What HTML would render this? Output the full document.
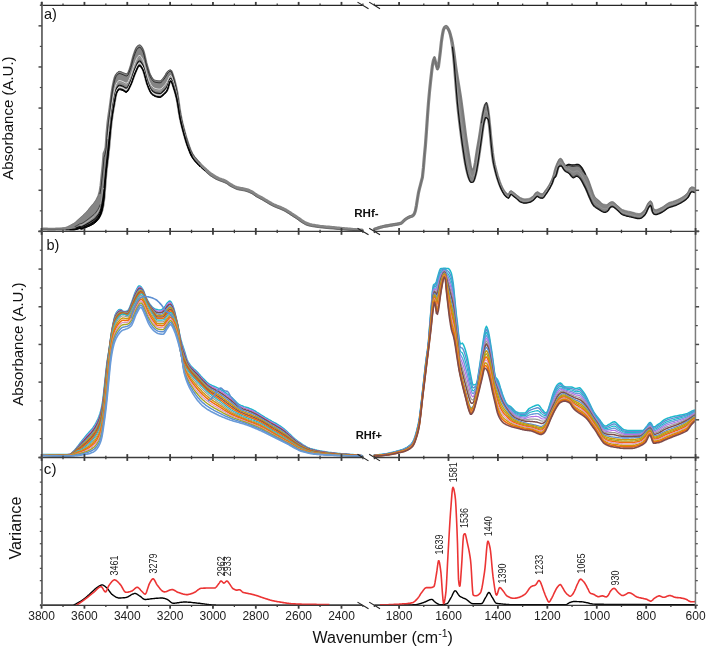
<!DOCTYPE html><html><head><meta charset="utf-8"><style>html,body{margin:0;padding:0;background:#fff;}svg{display:block;}svg{will-change:transform}</style></head><body><svg width="708" height="649" viewBox="0 0 708 649">
<rect width="708" height="649" fill="#fff"/>
<path d="M42.0,229.1 43.0,229.1 44.0,229.1 45.0,229.1 46.0,229.1 47.0,229.1 48.0,229.2 49.0,229.2 50.0,229.2 51.0,229.2 52.0,229.2 53.0,229.2 54.0,229.2 55.0,229.2 56.0,229.1 57.0,229.1 58.0,229.1 59.0,229.0 60.0,229.0 61.0,228.9 62.0,228.9 63.0,228.8 64.0,228.8 65.0,228.7 66.0,228.5 67.0,228.2 68.0,227.8 69.0,227.3 70.0,226.8 71.0,226.3 72.0,225.7 73.0,225.2 74.0,224.6 75.0,224.0 76.0,223.2 77.0,222.3 78.0,221.3 79.0,220.3 80.0,219.4 81.0,218.6 82.0,217.7 83.0,216.8 84.0,215.9 85.0,214.9 86.0,213.9 87.0,212.8 88.0,211.6 89.0,210.4 90.0,209.1 91.0,207.9 92.0,206.7 93.0,205.6 94.0,204.4 95.0,203.1 96.0,201.6 97.0,200.0 98.0,198.0 99.0,195.5 100.0,192.0 101.0,185.5 102.0,175.5 103.0,165.6 104.0,153.4 105.0,151.5 106.0,147.7 107.0,132.8 108.0,122.2 109.0,114.8 110.0,107.9 111.0,100.5 112.0,92.7 113.0,86.5 114.0,81.7 115.0,77.9 116.0,75.7 117.0,74.4 118.0,73.3 119.0,72.8 120.0,72.9 121.0,73.2 122.0,73.6 123.0,74.1 124.0,74.4 125.0,74.8 126.0,75.2 127.0,75.3 128.0,74.3 129.0,72.1 130.0,69.5 131.0,66.6 132.0,62.7 133.0,58.6 134.0,55.3 135.0,52.4 136.0,49.8 137.0,47.9 138.0,47.0 139.0,46.4 140.0,46.3 141.0,47.2 142.0,48.8 143.0,50.8 144.0,54.3 145.0,58.8 146.0,63.1 147.0,66.6 148.0,70.0 149.0,73.2 150.0,75.7 151.0,77.5 152.0,79.1 153.0,80.5 154.0,81.3 155.0,81.7 156.0,81.9 157.0,82.1 158.0,82.2 159.0,82.3 160.0,82.3 161.0,82.0 162.0,81.1 163.0,79.8 164.0,78.5 165.0,77.1 166.0,75.4 167.0,73.6 168.0,72.3 169.0,71.7 170.0,71.3 171.0,71.4 172.0,73.6 173.0,76.8 174.0,80.0 175.0,83.8 176.0,88.1 177.0,93.1 178.0,99.5 179.0,106.8 180.0,113.4 181.0,118.5 182.0,123.1 183.0,127.2 184.0,131.0 185.0,134.6 186.0,138.0 187.0,141.1 188.0,144.1 189.0,147.0 190.0,149.7 191.0,152.2 192.0,154.2 193.0,155.8 194.0,157.3 195.0,158.6 196.0,159.7 197.0,160.9 198.0,162.0 199.0,163.1 200.0,164.1 201.0,165.1 202.0,166.0 203.0,167.0 204.0,167.9 205.0,168.8 206.0,169.7 207.0,170.7 208.0,171.5 209.0,172.4 210.0,173.2 211.0,173.9 212.0,174.6 213.0,175.3 214.0,175.9 215.0,176.5 216.0,177.1 217.0,177.6 218.0,178.1 219.0,178.6 220.0,179.0 221.0,179.3 222.0,179.7 223.0,180.0 224.0,180.4 225.0,180.9 226.0,181.4 227.0,182.0 228.0,182.7 229.0,183.4 230.0,184.1 231.0,184.7 232.0,185.2 233.0,185.8 234.0,186.3 235.0,186.8 236.0,187.2 237.0,187.6 238.0,187.8 239.0,188.1 240.0,188.2 241.0,188.4 242.0,188.5 243.0,188.7 244.0,188.9 245.0,189.1 246.0,189.4 247.0,189.7 248.0,190.0 249.0,190.4 250.0,190.9 251.0,191.3 252.0,191.8 253.0,192.5 254.0,193.2 255.0,193.9 256.0,194.6 257.0,195.3 258.0,195.8 259.0,196.4 260.0,196.9 261.0,197.4 262.0,197.9 263.0,198.5 264.0,199.1 265.0,199.7 266.0,200.3 267.0,200.9 268.0,201.5 269.0,202.1 270.0,202.7 271.0,203.2 272.0,203.8 273.0,204.3 274.0,204.8 275.0,205.2 276.0,205.6 277.0,206.1 278.0,206.4 279.0,206.8 280.0,207.2 281.0,207.6 282.0,208.1 283.0,208.5 284.0,209.0 285.0,209.5 286.0,210.1 287.0,210.7 288.0,211.3 289.0,212.0 290.0,212.6 291.0,213.3 292.0,214.0 293.0,214.6 294.0,215.3 295.0,215.9 296.0,216.5 297.0,217.2 298.0,217.9 299.0,218.6 300.0,219.3 301.0,220.0 302.0,220.7 303.0,221.3 304.0,222.0 305.0,222.5 306.0,223.0 307.0,223.4 308.0,223.8 309.0,224.1 310.0,224.4 311.0,224.6 312.0,224.9 313.0,225.1 314.0,225.3 315.0,225.5 316.0,225.7 317.0,225.8 318.0,226.0 319.0,226.1 320.0,226.3 321.0,226.4 322.0,226.5 323.0,226.6 324.0,226.7 325.0,226.8 326.0,226.9 327.0,227.0 328.0,227.1 329.0,227.1 330.0,227.2 331.0,227.3 332.0,227.4 333.0,227.5 334.0,227.6 335.0,227.7 336.0,227.8 337.0,227.9 338.0,228.0 339.0,228.1 340.0,228.2 341.0,228.3 342.0,228.4 343.0,228.5 344.0,228.6 345.0,228.7 346.0,228.8 347.0,228.8 348.0,228.9 349.0,229.0 350.0,229.1 351.0,229.2 352.0,229.3 353.0,229.4 354.0,229.5 355.0,229.5 356.0,229.6 357.0,229.7 358.0,229.8 359.0,229.9 360.0,229.9 361.0,230.0 362.0,230.1 362.0,230.1 361.0,230.0 360.0,229.9 359.0,229.9 358.0,229.8 357.0,229.7 356.0,229.6 355.0,229.5 354.0,229.5 353.0,229.4 352.0,229.3 351.0,229.2 350.0,229.1 349.0,229.0 348.0,228.9 347.0,228.8 346.0,228.8 345.0,228.7 344.0,228.6 343.0,228.5 342.0,228.4 341.0,228.3 340.0,228.2 339.0,228.1 338.0,228.0 337.0,227.9 336.0,227.8 335.0,227.7 334.0,227.6 333.0,227.5 332.0,227.4 331.0,227.4 330.0,227.3 329.0,227.2 328.0,227.1 327.0,227.0 326.0,226.9 325.0,226.8 324.0,226.7 323.0,226.6 322.0,226.5 321.0,226.4 320.0,226.3 319.0,226.1 318.0,226.0 317.0,225.9 316.0,225.7 315.0,225.6 314.0,225.4 313.0,225.3 312.0,225.1 311.0,224.9 310.0,224.7 309.0,224.5 308.0,224.2 307.0,223.9 306.0,223.5 305.0,223.0 304.0,222.4 303.0,221.8 302.0,221.2 301.0,220.5 300.0,219.8 299.0,219.1 298.0,218.3 297.0,217.6 296.0,216.9 295.0,216.3 294.0,215.7 293.0,215.0 292.0,214.4 291.0,213.7 290.0,213.0 289.0,212.4 288.0,211.7 287.0,211.1 286.0,210.5 285.0,209.9 284.0,209.4 283.0,208.9 282.0,208.5 281.0,208.0 280.0,207.6 279.0,207.2 278.0,206.8 277.0,206.5 276.0,206.0 275.0,205.6 274.0,205.2 273.0,204.7 272.0,204.2 271.0,203.6 270.0,203.1 269.0,202.5 268.0,201.9 267.0,201.3 266.0,200.7 265.0,200.1 264.0,199.5 263.0,198.9 262.0,198.3 261.0,197.8 260.0,197.3 259.0,196.7 258.0,196.2 257.0,195.7 256.0,195.1 255.0,194.4 254.0,193.6 253.0,192.9 252.0,192.3 251.0,191.8 250.0,191.4 249.0,190.9 248.0,190.6 247.0,190.2 246.0,189.9 245.0,189.6 244.0,189.4 243.0,189.2 242.0,189.0 241.0,188.8 240.0,188.7 239.0,188.5 238.0,188.3 237.0,188.0 236.0,187.6 235.0,187.2 234.0,186.7 233.0,186.2 232.0,185.7 231.0,185.2 230.0,184.6 229.0,183.9 228.0,183.1 227.0,182.4 226.0,181.9 225.0,181.4 224.0,181.0 223.0,180.6 222.0,180.2 221.0,179.9 220.0,179.5 219.0,179.1 218.0,178.7 217.0,178.3 216.0,177.8 215.0,177.2 214.0,176.6 213.0,176.0 212.0,175.4 211.0,174.7 210.0,174.0 209.0,173.2 208.0,172.3 207.0,171.4 206.0,170.5 205.0,169.5 204.0,168.6 203.0,167.7 202.0,166.8 201.0,165.9 200.0,164.9 199.0,164.0 198.0,163.0 197.0,161.9 196.0,160.8 195.0,159.7 194.0,158.4 193.0,157.1 192.0,155.5 191.0,153.6 190.0,151.3 189.0,148.8 188.0,146.1 187.0,143.2 186.0,140.0 185.0,136.6 184.0,133.0 183.0,129.3 182.0,125.4 181.0,121.2 180.0,116.5 179.0,110.5 178.0,104.0 177.0,98.5 176.0,94.3 175.0,90.7 174.0,87.6 173.0,84.5 172.0,81.5 171.0,79.7 170.0,80.1 169.0,83.2 168.0,87.1 167.0,89.7 166.0,91.1 165.0,92.2 164.0,93.2 163.0,94.0 162.0,94.9 161.0,95.7 160.0,96.0 159.0,95.9 158.0,95.8 157.0,95.6 156.0,95.3 155.0,95.0 154.0,94.4 153.0,93.8 152.0,93.1 151.0,91.9 150.0,90.1 149.0,87.8 148.0,85.3 147.0,82.5 146.0,78.9 145.0,75.1 144.0,71.5 143.0,68.9 142.0,67.2 141.0,65.7 140.0,64.7 139.0,64.6 138.0,65.8 137.0,67.8 136.0,70.2 135.0,72.4 134.0,74.9 133.0,77.8 132.0,80.6 131.0,83.2 130.0,85.3 129.0,87.4 128.0,89.3 127.0,90.6 126.0,91.0 125.0,90.5 124.0,89.8 123.0,89.1 122.0,88.8 121.0,88.5 120.0,88.2 119.0,88.3 118.0,89.1 117.0,90.8 116.0,93.2 115.0,98.0 114.0,103.9 113.0,109.6 112.0,116.0 111.0,123.5 110.0,133.8 109.0,145.4 108.0,155.0 107.0,163.2 106.0,172.0 105.0,184.5 104.0,197.3 103.0,204.9 102.0,209.7 101.0,212.8 100.0,215.1 99.0,216.9 98.0,218.3 97.0,219.4 96.0,220.5 95.0,221.3 94.0,222.1 93.0,222.8 92.0,223.3 91.0,223.9 90.0,224.3 89.0,224.8 88.0,225.2 87.0,225.6 86.0,226.0 85.0,226.5 84.0,227.0 83.0,227.3 82.0,227.6 81.0,227.7 80.0,227.1 79.0,227.3 78.0,227.6 77.0,227.9 76.0,228.1 75.0,228.3 74.0,228.4 73.0,228.4 72.0,228.4 71.0,228.4 70.0,228.4 69.0,228.4 68.0,228.4 67.0,228.4 66.0,228.5 65.0,228.7 64.0,228.8 63.0,228.8 62.0,228.9 61.0,228.9 60.0,229.0 59.0,229.0 58.0,229.1 57.0,229.1 56.0,229.1 55.0,229.2 54.0,229.2 53.0,229.2 52.0,229.2 51.0,229.2 50.0,229.2 49.0,229.2 48.0,229.2 47.0,229.1 46.0,229.1 45.0,229.1 44.0,229.1 43.0,229.1 42.0,229.1 Z" fill="#858585" stroke="#858585" stroke-width="3.0" stroke-linejoin="round"/>
<path d="M110.0,106.4 111.0,99.0 112.0,91.2 113.0,85.0 114.0,80.2 115.0,76.4 116.0,74.2 117.0,72.9 118.0,71.8 119.0,71.3 120.0,71.4 121.0,71.7 122.0,72.1 123.0,72.6 124.0,72.9 125.0,73.3 126.0,73.7 127.0,73.8 128.0,72.8 129.0,70.6 130.0,68.0 131.0,65.1 132.0,61.2 133.0,57.1 134.0,53.8 135.0,50.9 136.0,48.3 137.0,46.4 138.0,45.5 139.0,44.9 140.0,44.8 141.0,45.7 142.0,47.3 143.0,49.3 144.0,52.8 145.0,57.3 146.0,61.6 147.0,65.1 148.0,68.5 149.0,71.7 150.0,74.2 151.0,76.0 152.0,77.6 153.0,79.0 154.0,79.8 155.0,80.2 156.0,80.4 157.0,80.6 158.0,80.7 159.0,80.8 160.0,80.8 161.0,80.5 162.0,79.6 163.0,78.3 164.0,77.0 165.0,75.6 166.0,73.9 167.0,72.1 168.0,70.8 169.0,70.2 170.0,69.8 171.0,69.9 172.0,72.1 173.0,75.3 174.0,78.5 175.0,82.3 176.0,86.6 177.0,91.6 178.0,98.0 179.0,105.3 180.0,111.9 181.0,117.0 182.0,121.6 183.0,125.7 184.0,129.5 185.0,133.1 186.0,136.5 187.0,139.6 188.0,142.6 189.0,145.5 190.0,148.2 191.0,150.7 192.0,152.7 193.0,154.3 194.0,155.8 195.0,157.1 196.0,158.2 197.0,159.4 198.0,160.5 199.0,161.6 200.0,162.6" fill="none" stroke="#4a4a4a" stroke-width="0.8" stroke-linejoin="round" stroke-linecap="round"/>
<path d="M42.0,228.7 43.0,228.8 44.0,228.8 45.0,228.8 46.0,228.9 47.0,228.9 48.0,228.9 49.0,228.9 50.0,228.9 51.0,228.9 52.0,228.9 53.0,228.9 54.0,228.9 55.0,228.8 56.0,228.8 57.0,228.7 58.0,228.6 59.0,228.5 60.0,228.4 61.0,228.2 62.0,228.1 63.0,227.9 64.0,227.7 65.0,227.5 66.0,227.1 67.0,226.7 68.0,226.3 69.0,225.8 70.0,225.3 71.0,224.8 72.0,224.2 73.0,223.7 74.0,223.1 75.0,222.5 76.0,221.7 77.0,220.8 78.0,219.8 79.0,218.8 80.0,217.9 81.0,217.1 82.0,216.2 83.0,215.3 84.0,214.4 85.0,213.4 86.0,212.4 87.0,211.3 88.0,210.1 89.0,208.9 90.0,207.6 91.0,206.4 92.0,205.2 93.0,204.1 94.0,202.9 95.0,201.6 96.0,200.1 97.0,198.5 98.0,196.5 99.0,194.0 100.0,190.5 101.0,184.0 102.0,174.0 103.0,164.1 104.0,151.9 105.0,150.0 106.0,146.2 107.0,131.3 108.0,120.7 109.0,113.3 110.0,106.4" fill="none" stroke="#707070" stroke-width="0.6" stroke-linejoin="round" stroke-linecap="round"/>
<path d="M100.0,193.6 101.0,187.6 102.0,178.5 103.0,169.2 104.0,157.5 105.0,154.3 106.0,149.5 107.0,135.3 108.0,125.0 109.0,117.3 110.0,109.9 111.0,102.1 112.0,94.4 113.0,88.1 114.0,83.3 115.0,79.2 116.0,76.7 117.0,75.2 118.0,74.1 119.0,73.5 120.0,73.6 121.0,73.9 122.0,74.3 123.0,74.7 124.0,75.1 125.0,75.6 126.0,75.9 127.0,76.0 128.0,75.0 129.0,72.8 130.0,70.2 131.0,67.4 132.0,63.7 133.0,59.8 134.0,56.5 135.0,53.7 136.0,51.1 137.0,49.2 138.0,48.1 139.0,47.4 140.0,47.3 141.0,48.2 142.0,49.9 143.0,51.9 144.0,55.2 145.0,59.6 146.0,63.9 147.0,67.4 148.0,70.7 149.0,73.8 150.0,76.3 151.0,78.1 152.0,79.7 153.0,80.9 154.0,81.8 155.0,82.1 156.0,82.4 157.0,82.5 158.0,82.7 159.0,82.8 160.0,82.8 161.0,82.5 162.0,81.6 163.0,80.4 164.0,79.1 165.0,77.8 166.0,76.1 167.0,74.4 168.0,72.9 169.0,71.9 170.0,71.2 171.0,71.3 172.0,73.4 173.0,76.6 174.0,79.8 175.0,83.5 176.0,87.7 177.0,92.6 178.0,98.9 179.0,106.1 180.0,112.6 181.0,117.7 182.0,122.2 183.0,126.3 184.0,130.1 185.0,133.7" fill="none" stroke="#2a2a2a" stroke-width="0.9" stroke-linejoin="round" stroke-linecap="round"/>
<path d="M108.0,138.6 109.0,130.1 110.0,120.9 111.0,112.0 112.0,104.4 113.0,98.1 114.0,92.8 115.0,87.9 116.0,84.5 117.0,82.6 118.0,81.2 119.0,80.5 120.0,80.6 121.0,80.8 122.0,81.2 123.0,81.6 124.0,82.1 125.0,82.7 126.0,83.1 127.0,83.0 128.0,81.8 129.0,79.8 130.0,77.4 131.0,74.9 132.0,71.7 133.0,68.2 134.0,65.1 135.0,62.4 136.0,60.0 137.0,57.9 138.0,56.4 139.0,55.5 140.0,55.5 141.0,56.4 142.0,58.0 143.0,59.9 144.0,62.9 145.0,66.9 146.0,71.0 147.0,74.5 148.0,77.6 149.0,80.5 150.0,82.9 151.0,84.7 152.0,86.1 153.0,87.1 154.0,87.9 155.0,88.3 156.0,88.6 157.0,88.8 158.0,89.0 159.0,89.1 160.0,89.1 161.0,88.8 162.0,88.0 163.0,86.9 164.0,85.8 165.0,84.7 166.0,83.2 167.0,81.6 168.0,79.7 169.0,77.4 170.0,75.7 171.0,75.6 172.0,77.5 173.0,80.6 174.0,83.8 175.0,87.3 176.0,91.2 177.0,95.8 178.0,101.8 179.0,108.6 180.0,114.9 181.0,119.9 182.0,124.2 183.0,128.2 184.0,132.0 185.0,135.6" fill="none" stroke="#e2e2e2" stroke-width="0.9" stroke-linejoin="round" stroke-linecap="round"/>
<path d="M100.0,206.1 101.0,202.2 102.0,196.3 103.0,189.5 104.0,180.1 105.0,171.6 106.0,162.6 107.0,151.3 108.0,142.2 109.0,133.4 110.0,123.8 111.0,114.6 112.0,107.0 113.0,100.7 114.0,95.3 115.0,90.2 116.0,86.5 117.0,84.5 118.0,83.1 119.0,82.4 120.0,82.4 121.0,82.7 122.0,83.0 123.0,83.4 124.0,83.9 125.0,84.6 126.0,85.0 127.0,84.8 128.0,83.6 129.0,81.6 130.0,79.3 131.0,76.9 132.0,73.8 133.0,70.4 134.0,67.4 135.0,64.7 136.0,62.3 137.0,60.2 138.0,58.6 139.0,57.6 140.0,57.6 141.0,58.6 142.0,60.1 143.0,62.0 144.0,64.9 145.0,68.8 146.0,72.9 147.0,76.4 148.0,79.5 149.0,82.2 150.0,84.6 151.0,86.5 152.0,87.8 153.0,88.8 154.0,89.5 155.0,89.9 156.0,90.3 157.0,90.5 158.0,90.7 159.0,90.8 160.0,90.8 161.0,90.5 162.0,89.7 163.0,88.6 164.0,87.6 165.0,86.5 166.0,85.1 167.0,83.5 168.0,81.4 169.0,78.9 170.0,76.9 171.0,76.7 172.0,78.6 173.0,81.7 174.0,84.9 175.0,88.2 176.0,92.1 177.0,96.6 178.0,102.5 179.0,109.3 180.0,115.5 181.0,120.4 182.0,124.8 183.0,128.7 184.0,132.5 185.0,136.1" fill="none" stroke="#b0b0b0" stroke-width="0.6" stroke-linejoin="round" stroke-linecap="round"/>
<path d="M75.0,226.5 76.0,226.1 77.0,225.5 78.0,224.9 79.0,224.3 80.0,223.8 81.0,223.7 82.0,223.3 83.0,222.7 84.0,222.1 85.0,221.4 86.0,220.7 87.0,220.0 88.0,219.2 89.0,218.4 90.0,217.6 91.0,216.8 92.0,216.0 93.0,215.2 94.0,214.3 95.0,213.3 96.0,212.1 97.0,210.8 98.0,209.3 99.0,207.4 100.0,204.8" fill="none" stroke="#333" stroke-width="0.8" stroke-linejoin="round" stroke-linecap="round"/>
<path d="M80.0,225.0 81.0,225.1 82.0,224.7 83.0,224.2 84.0,223.7 85.0,223.0 86.0,222.4 87.0,221.7 88.0,221.1 89.0,220.4 90.0,219.6 91.0,218.9 92.0,218.2 93.0,217.4 94.0,216.6 95.0,215.6 96.0,214.5 97.0,213.3 98.0,211.8 99.0,210.1 100.0,207.7" fill="none" stroke="#d0d0d0" stroke-width="0.6" stroke-linejoin="round" stroke-linecap="round"/>
<path d="M76.0,228.0 77.0,227.6 78.0,227.2 79.0,226.8 80.0,226.5 81.0,226.8 82.0,226.5 83.0,226.1 84.0,225.6 85.0,225.1 86.0,224.5 87.0,223.9 88.0,223.4 89.0,222.8 90.0,222.2 91.0,221.6 92.0,220.9 93.0,220.2 94.0,219.5 95.0,218.6 96.0,217.6 97.0,216.4 98.0,215.1 99.0,213.5 100.0,211.4 101.0,208.2 102.0,203.8 103.0,198.0 104.0,189.5" fill="none" stroke="#111" stroke-width="1.2" stroke-linejoin="round" stroke-linecap="round"/>
<path d="M72.0,229.3 73.0,229.3 74.0,229.2 75.0,229.1 76.0,228.8 77.0,228.5 78.0,228.1 79.0,227.8 80.0,227.6 81.0,228.0 82.0,227.8 83.0,227.5 84.0,227.0 85.0,226.5 86.0,226.0 87.0,225.5 88.0,225.0 89.0,224.5 90.0,224.0 91.0,223.5 92.0,222.9 93.0,222.2 94.0,221.5 95.0,220.7 96.0,219.8 97.0,218.7 98.0,217.4 99.0,215.9 100.0,214.0 101.0,211.3 102.0,207.5 103.0,202.2 104.0,194.2" fill="none" stroke="#000" stroke-width="1.3" stroke-linejoin="round" stroke-linecap="round"/>
<path d="M104.0,187.6 105.0,177.4 106.0,166.9 107.0,156.7 108.0,147.9 109.0,138.8 110.0,128.4 111.0,118.7 112.0,111.2 113.0,104.9 114.0,99.3 115.0,93.9 116.0,89.8 117.0,87.6 118.0,86.1 119.0,85.3 120.0,85.3 121.0,85.6 122.0,85.9 123.0,86.3 124.0,86.9 125.0,87.6 126.0,88.0 127.0,87.7 128.0,86.5 129.0,84.5 130.0,82.3 131.0,80.0 132.0,77.1 133.0,74.0 134.0,71.0 135.0,68.4 136.0,66.1 137.0,63.8 138.0,62.1 139.0,61.0 140.0,61.0 141.0,62.0 142.0,63.5 143.0,65.3 144.0,68.2 145.0,71.9 146.0,75.9 147.0,79.5 148.0,82.4 149.0,85.0 150.0,87.4 151.0,89.3 152.0,90.5 153.0,91.4 154.0,92.1 155.0,92.6 156.0,92.9 157.0,93.1 158.0,93.3 159.0,93.4 160.0,93.5 161.0,93.2 162.0,92.4 163.0,91.4 164.0,90.4 165.0,89.4 166.0,88.1 167.0,86.6 168.0,84.3 169.0,81.2 170.0,78.8 171.0,78.5 172.0,80.4 173.0,83.4 174.0,86.6 175.0,89.8 176.0,93.6 177.0,98.0 178.0,103.7 179.0,110.4 180.0,116.5 181.0,121.3 182.0,125.6 183.0,129.5 184.0,133.3 185.0,136.9 186.0,140.3 187.0,143.5 188.0,146.4 189.0,149.1 190.0,151.7 191.0,154.0 192.0,156.0" fill="none" stroke="#111" stroke-width="1.1" stroke-linejoin="round" stroke-linecap="round"/>
<path d="M110.0,131.3 111.0,121.4 112.0,113.8 113.0,107.5 114.0,101.8 115.0,96.3 116.0,91.9 117.0,89.6 118.0,88.0 119.0,87.2 120.0,87.2 121.0,87.4 122.0,87.7 123.0,88.1 124.0,88.7 125.0,89.4 126.0,89.9 127.0,89.6 128.0,88.3 129.0,86.3 130.0,84.2 131.0,82.0 132.0,79.2 133.0,76.2 134.0,73.3 135.0,70.7 136.0,68.4 137.0,66.1 138.0,64.2 139.0,63.1 140.0,63.2 141.0,64.1 142.0,65.7 143.0,67.4 144.0,70.2 145.0,73.9 146.0,77.8 147.0,81.3 148.0,84.2 149.0,86.8 150.0,89.1 151.0,91.0 152.0,92.2 153.0,93.0 154.0,93.7 155.0,94.2 156.0,94.5 157.0,94.8 158.0,95.0 159.0,95.1 160.0,95.2 161.0,94.8 162.0,94.0 163.0,93.1 164.0,92.2 165.0,91.2 166.0,89.9 167.0,88.5 168.0,86.1 169.0,82.7 170.0,80.0 171.0,79.6 172.0,81.5 173.0,84.5 174.0,87.6 175.0,90.8 176.0,94.5 177.0,98.8 178.0,104.4 179.0,111.0 180.0,117.1 181.0,121.9 182.0,126.2 183.0,130.1 184.0,133.8 185.0,137.4 186.0,140.8 187.0,144.0 188.0,146.9" fill="none" stroke="#f0f0f0" stroke-width="0.9" stroke-linejoin="round" stroke-linecap="round"/>
<path d="M70.0,229.7 71.0,229.7 72.0,229.7 73.0,229.7 74.0,229.6 75.0,229.5 76.0,229.3 77.0,229.0 78.0,228.7 79.0,228.4 80.0,228.2 81.0,228.7 82.0,228.6 83.0,228.3 84.0,227.9 85.0,227.4 86.0,226.9 87.0,226.5 88.0,226.0 89.0,225.6 90.0,225.1 91.0,224.6 92.0,224.0 93.0,223.4 94.0,222.8 95.0,222.0 96.0,221.1 97.0,220.0 98.0,218.8 99.0,217.4 100.0,215.5 101.0,213.1 102.0,209.7 103.0,204.7 104.0,197.0 105.0,184.6 106.0,172.4 107.0,163.4 108.0,155.1 109.0,145.5 110.0,134.2 111.0,124.0 112.0,116.4 113.0,110.1 114.0,104.4 115.0,98.6 116.0,93.9 117.0,91.5 118.0,89.9 119.0,89.0 120.0,89.0 121.0,89.2 122.0,89.5 123.0,89.9 124.0,90.6 125.0,91.3 126.0,91.7 127.0,91.4 128.0,90.1 129.0,88.2 130.0,86.0 131.0,83.9 132.0,81.3 133.0,78.4 134.0,75.5 135.0,73.0 136.0,70.7 137.0,68.4 138.0,66.4 139.0,65.3 140.0,65.3 141.0,66.3 142.0,67.8 143.0,69.5 144.0,72.2 145.0,75.8 146.0,79.7 147.0,83.2 148.0,86.0 149.0,88.5 150.0,90.9 151.0,92.7 152.0,93.9 153.0,94.7 154.0,95.3 155.0,95.8 156.0,96.2 157.0,96.5 158.0,96.6 159.0,96.8 160.0,96.8 161.0,96.5 162.0,95.7 163.0,94.8 164.0,93.9 165.0,93.0 166.0,91.8 167.0,90.4 168.0,87.8 169.0,84.1 170.0,81.2 171.0,80.7 172.0,82.6 173.0,85.5 174.0,88.7 175.0,91.8 176.0,95.5 177.0,99.7 178.0,105.2 179.0,111.7 180.0,117.7 181.0,122.5 182.0,126.7 183.0,130.6 184.0,134.3 185.0,137.9 186.0,141.3 187.0,144.5 188.0,147.4 189.0,150.1 190.0,152.6 191.0,154.9 192.0,156.8 193.0,158.4 194.0,159.8 195.0,161.0 196.0,162.1 197.0,163.2 198.0,164.3 199.0,165.3 200.0,166.3" fill="none" stroke="#000" stroke-width="1.2" stroke-linejoin="round" stroke-linecap="round"/>
<path d="M66.0,229.9 67.0,229.9 68.0,229.9 69.0,229.9 70.0,229.9 71.0,229.9 72.0,229.9 73.0,229.9 74.0,229.9 75.0,229.8 76.0,229.6 77.0,229.4 78.0,229.1 79.0,228.8 80.0,228.6 81.0,229.2 82.0,229.1 83.0,228.8 84.0,228.5 85.0,228.0 86.0,227.5 87.0,227.1 88.0,226.7 89.0,226.3 90.0,225.8 91.0,225.4 92.0,224.8 93.0,224.3 94.0,223.6 95.0,222.8 96.0,222.0 97.0,220.9 98.0,219.8 99.0,218.4 100.0,216.6 101.0,214.3 102.0,211.2 103.0,206.4 104.0,198.8 105.0,186.0 106.0,173.5 107.0,164.7 108.0,156.5 109.0,146.9 110.0,135.3 111.0,125.0 112.0,117.5 113.0,111.1 114.0,105.4 115.0,99.5 116.0,94.7 117.0,92.3 118.0,90.6 119.0,89.8 120.0,89.7 121.0,90.0 122.0,90.3 123.0,90.6 124.0,91.3 125.0,92.0 126.0,92.5 127.0,92.1 128.0,90.8 129.0,88.9 130.0,86.8 131.0,84.7 132.0,82.1 133.0,79.3 134.0,76.4 135.0,73.9 136.0,71.7 137.0,69.3 138.0,67.3 139.0,66.1 140.0,66.2 141.0,67.2 142.0,68.7 143.0,70.4 144.0,73.0 145.0,76.6 146.0,80.4 147.0,84.0 148.0,86.8 149.0,89.3 150.0,91.6 151.0,93.4 152.0,94.6 153.0,95.3 154.0,95.9 155.0,96.5 156.0,96.8 157.0,97.1 158.0,97.3 159.0,97.4 160.0,97.5 161.0,97.2 162.0,96.4 163.0,95.5 164.0,94.7 165.0,93.7 166.0,92.6 167.0,91.2 168.0,88.6 169.0,84.7 170.0,81.6 171.0,81.2 172.0,83.0 173.0,86.0 174.0,89.1 175.0,92.2 176.0,95.8 177.0,100.0 178.0,105.5 179.0,112.0 180.0,118.0 181.0,122.7 182.0,126.9 183.0,130.8 184.0,134.5 185.0,138.1 186.0,141.5 187.0,144.7 188.0,147.6 189.0,150.3 190.0,152.8 191.0,155.1 192.0,157.0 193.0,158.6 194.0,159.9 195.0,161.2 196.0,162.3 197.0,163.4 198.0,164.5 199.0,165.5 200.0,166.4 201.0,167.4 202.0,168.3 203.0,169.2 204.0,170.1 205.0,171.0" fill="none" stroke="#000" stroke-width="1.0" stroke-linejoin="round" stroke-linecap="round"/>
<path d="M42.0,229.4 43.0,229.4 44.0,229.4 45.0,229.4 46.0,229.4 47.0,229.4 48.0,229.4 49.0,229.4 50.0,229.4 51.0,229.5 52.0,229.5 53.0,229.5 54.0,229.5 55.0,229.5 56.0,229.5 57.0,229.5 58.0,229.6 59.0,229.6 60.0,229.6 61.0,229.6 62.0,229.7 63.0,229.8 64.0,229.8 65.0,229.9 66.0,229.9" fill="none" stroke="#666" stroke-width="0.8" stroke-linejoin="round" stroke-linecap="round"/>
<path d="M205.0,171.0 206.0,172.0 207.0,172.9 208.0,173.8 209.0,174.7 210.0,175.5 211.0,176.2 212.0,176.9 213.0,177.5 214.0,178.1 215.0,178.7 216.0,179.3 217.0,179.8 218.0,180.2 219.0,180.6 220.0,181.0 221.0,181.4 222.0,181.7 223.0,182.1 224.0,182.5 225.0,182.9 226.0,183.4 227.0,183.9 228.0,184.6 229.0,185.4 230.0,186.1 231.0,186.7 232.0,187.2 233.0,187.7 234.0,188.2 235.0,188.7 236.0,189.1 237.0,189.5 238.0,189.8 239.0,190.0 240.0,190.2 241.0,190.3 242.0,190.5 243.0,190.7 244.0,190.9 245.0,191.1 246.0,191.4 247.0,191.7 248.0,192.1 249.0,192.4 250.0,192.9 251.0,193.3 252.0,193.8 253.0,194.4 254.0,195.1 255.0,195.9 256.0,196.6 257.0,197.2 258.0,197.7 259.0,198.2 260.0,198.8 261.0,199.3 262.0,199.8 263.0,200.4 264.0,201.0 265.0,201.6 266.0,202.2 267.0,202.8 268.0,203.4 269.0,204.0 270.0,204.6 271.0,205.1 272.0,205.7 273.0,206.2 274.0,206.7 275.0,207.1 276.0,207.5 277.0,208.0 278.0,208.3 279.0,208.7 280.0,209.1 281.0,209.5 282.0,210.0 283.0,210.4 284.0,210.9 285.0,211.4 286.0,212.0 287.0,212.6 288.0,213.2 289.0,213.9 290.0,214.5 291.0,215.2 292.0,215.9 293.0,216.5 294.0,217.2 295.0,217.8 296.0,218.4 297.0,219.1 298.0,219.8 299.0,220.6 300.0,221.3 301.0,222.0 302.0,222.7 303.0,223.3 304.0,223.9 305.0,224.5 306.0,225.0 307.0,225.4 308.0,225.7 309.0,226.0 310.0,226.2 311.0,226.4 312.0,226.6 313.0,226.8 314.0,226.9 315.0,227.1 316.0,227.2 317.0,227.4 318.0,227.5 319.0,227.6 320.0,227.8 321.0,227.9 322.0,228.0 323.0,228.1 324.0,228.2 325.0,228.3 326.0,228.4 327.0,228.5 328.0,228.6 329.0,228.7 330.0,228.8 331.0,228.9 332.0,228.9 333.0,229.0 334.0,229.1 335.0,229.2 336.0,229.3 337.0,229.4 338.0,229.5 339.0,229.5 340.0,229.6 341.0,229.7 342.0,229.8 343.0,229.9 344.0,230.0 345.0,230.0 346.0,230.1 347.0,230.2 348.0,230.2 349.0,230.3 350.0,230.4 351.0,230.4 352.0,230.4 353.0,230.5 354.0,230.5 355.0,230.6 356.0,230.6 357.0,230.6 358.0,230.7 359.0,230.7 360.0,230.7 361.0,230.8 362.0,230.8" fill="none" stroke="#555" stroke-width="0.8" stroke-linejoin="round" stroke-linecap="round"/>
<path d="M374.4,229.2 375.4,228.9 376.4,228.5 377.4,228.2 378.4,227.9 379.4,227.6 380.4,227.3 381.4,227.0 382.4,226.8 383.4,226.5 384.4,226.3 385.4,226.1 386.4,225.9 387.4,225.8 388.4,225.6 389.4,225.4 390.4,225.2 391.4,225.1 392.4,224.9 393.4,224.7 394.4,224.6 395.4,224.4 396.4,224.3 397.4,224.1 398.4,223.9 399.4,223.7 400.4,223.4 401.4,223.0 402.4,222.2 403.4,221.2 404.4,220.2 405.4,219.3 406.4,218.7 407.4,218.0 408.4,217.5 409.4,217.0 410.4,216.6 411.4,216.3 412.4,215.9 413.4,215.2 414.4,213.6 415.4,210.8 416.4,205.6 417.4,199.3 418.4,193.2 419.4,188.9 420.4,185.2 421.4,181.2 422.4,177.4 423.4,168.0 424.4,156.1 425.4,145.5 426.4,131.8 427.4,117.3 428.4,103.8 429.4,92.7 430.4,83.0 431.4,74.0 432.4,65.8 433.4,60.5 434.4,58.0 435.4,61.6 436.4,65.5 437.4,68.7 438.4,66.7 439.4,59.1 440.4,51.0 441.4,41.7 442.4,35.0 443.4,29.9 444.4,27.7 445.4,26.8 446.4,26.7 447.4,27.7 448.4,29.4 449.4,31.5 450.4,34.8 451.4,38.6 452.4,43.4 453.4,49.6 454.4,56.7 455.4,64.7 456.4,71.6 457.4,77.9 458.4,84.1 459.4,90.2 460.4,96.6 461.4,103.7 462.4,111.3 463.4,118.9 464.4,126.8 465.4,134.6 466.4,141.6 467.4,148.1 468.4,154.4 469.4,160.8 470.4,166.9 471.4,170.6 472.4,172.0 473.4,170.6 474.4,168.0 475.4,162.8 476.4,155.9 477.4,149.6 478.4,143.8 479.4,137.9 480.4,131.4 481.4,124.4 482.4,118.0 483.4,112.6 484.4,108.3 485.4,105.3 486.4,103.9 487.4,107.6 488.4,114.4 489.4,123.7 490.4,134.1 491.4,143.8 492.4,152.8 493.4,159.9 494.4,164.8 495.4,168.9 496.4,172.7 497.4,176.2 498.4,179.3 499.4,182.2 500.4,184.8 501.4,187.2 502.4,189.2 503.4,190.9 504.4,192.4 505.4,193.6 506.4,194.6 507.4,195.4 508.4,195.9 509.4,194.6 510.4,192.3 511.4,192.2 512.4,193.0 513.4,193.8 514.4,194.6 515.4,195.4 516.4,196.2 517.4,197.0 518.4,197.8 519.4,198.5 520.4,199.1 521.4,199.5 522.4,199.9 523.4,200.2 524.4,200.4 525.4,200.4 526.4,200.3 527.4,200.2 528.4,200.0 529.4,199.8 530.4,199.4 531.4,198.8 532.4,198.1 533.4,197.4 534.4,196.2 535.4,194.8 536.4,193.6 537.4,193.1 538.4,193.6 539.4,194.5 540.4,194.9 541.4,195.1 542.4,195.2 543.4,194.8 544.4,193.6 545.4,192.1 546.4,190.8 547.4,189.4 548.4,187.9 549.4,186.3 550.4,184.5 551.4,182.5 552.4,180.3 553.4,177.7 554.4,174.4 555.4,170.4 556.4,167.3 557.4,164.7 558.4,162.6 559.4,160.7 560.4,159.6 561.4,160.4 562.4,162.5 563.4,164.2 564.4,165.7 565.4,166.9 566.4,167.0 567.4,166.5 568.4,166.0 569.4,166.1 570.4,166.3 571.4,166.5 572.4,166.6 573.4,166.5 574.4,166.4 575.4,166.3 576.4,166.1 577.4,166.0 578.4,166.1 579.4,166.7 580.4,167.6 581.4,168.7 582.4,170.2 583.4,172.1 584.4,174.0 585.4,175.8 586.4,177.7 587.4,179.8 588.4,182.2 589.4,185.0 590.4,187.9 591.4,190.7 592.4,193.8 593.4,196.4 594.4,198.0 595.4,199.1 596.4,200.0 597.4,200.8 598.4,201.7 599.4,202.7 600.4,203.8 601.4,204.7 602.4,205.3 603.4,205.6 604.4,205.8 605.4,206.0 606.4,206.1 607.4,206.0 608.4,205.2 609.4,204.2 610.4,203.6 611.4,203.2 612.4,203.1 613.4,203.5 614.4,204.3 615.4,205.3 616.4,206.3 617.4,207.1 618.4,208.0 619.4,208.9 620.4,209.8 621.4,210.5 622.4,211.1 623.4,211.4 624.4,211.7 625.4,212.0 626.4,212.2 627.4,212.5 628.4,212.7 629.4,212.9 630.4,213.1 631.4,213.4 632.4,213.6 633.4,213.9 634.4,214.2 635.4,214.5 636.4,214.7 637.4,214.9 638.4,215.1 639.4,215.1 640.4,214.9 641.4,214.5 642.4,213.7 643.4,212.9 644.4,211.8 645.4,210.7 646.4,208.8 647.4,206.5 648.4,204.5 649.4,203.1 650.4,202.2 651.4,203.7 652.4,208.2 653.4,210.2 654.4,210.9 655.4,211.1 656.4,211.0 657.4,210.8 658.4,210.4 659.4,210.0 660.4,209.5 661.4,209.0 662.4,208.5 663.4,207.9 664.4,207.2 665.4,206.4 666.4,205.7 667.4,205.0 668.4,204.4 669.4,203.9 670.4,203.6 671.4,203.3 672.4,203.0 673.4,202.7 674.4,202.3 675.4,202.0 676.4,201.6 677.4,201.1 678.4,200.7 679.4,200.2 680.4,199.7 681.4,199.1 682.4,198.5 683.4,197.9 684.4,197.2 685.4,196.4 686.4,195.6 687.4,194.6 688.4,193.4 689.4,191.4 690.4,189.3 691.4,188.4 692.4,188.4 693.4,188.6 694.4,189.0 694.4,191.0 693.4,190.6 692.4,190.4 691.4,190.4 690.4,191.3 689.4,193.4 688.4,195.4 687.4,196.6 686.4,197.6 685.4,198.4 684.4,199.2 683.4,199.9 682.4,200.5 681.4,201.1 680.4,201.7 679.4,202.2 678.4,202.7 677.4,203.1 676.4,203.6 675.4,204.0 674.4,204.3 673.4,204.7 672.4,205.0 671.4,205.3 670.4,205.6 669.4,205.9 668.4,206.4 667.4,207.0 666.4,207.7 665.4,208.4 664.4,209.2 663.4,209.9 662.4,210.5 661.4,211.0 660.4,211.5 659.4,212.0 658.4,212.4 657.4,212.8 656.4,213.0 655.4,213.1 654.4,212.9 653.4,212.2 652.4,210.1 651.4,205.3 650.4,203.7 649.4,204.7 648.4,206.2 647.4,208.3 646.4,210.7 645.4,212.7 644.4,213.9 643.4,214.9 642.4,215.8 641.4,216.5 640.4,216.9 639.4,217.1 638.4,217.1 637.4,217.0 636.4,216.8 635.4,216.6 634.4,216.4 633.4,216.1 632.4,215.9 631.4,215.6 630.4,215.4 629.4,215.2 628.4,214.9 627.4,214.7 626.4,214.5 625.4,214.2 624.4,213.8 623.4,213.5 622.4,213.1 621.4,212.4 620.4,211.6 619.4,210.6 618.4,209.5 617.4,208.6 616.4,207.8 615.4,206.9 614.4,206.1 613.4,205.4 612.4,205.1 611.4,205.3 610.4,205.8 609.4,206.9 608.4,208.8 607.4,209.8 606.4,210.4 605.4,210.8 604.4,210.9 603.4,210.6 602.4,210.2 601.4,209.6 600.4,208.9 599.4,208.3 598.4,207.7 597.4,207.1 596.4,206.5 595.4,205.8 594.4,205.0 593.4,203.9 592.4,202.3 591.4,200.3 590.4,198.0 589.4,195.9 588.4,193.5 587.4,191.0 586.4,188.7 585.4,186.5 584.4,184.5 583.4,182.6 582.4,180.7 581.4,178.9 580.4,177.4 579.4,176.3 578.4,175.5 577.4,174.8 576.4,174.7 575.4,175.2 574.4,175.9 573.4,176.3 572.4,175.8 571.4,174.8 570.4,173.4 569.4,172.3 568.4,171.5 567.4,170.9 566.4,170.4 565.4,169.8 564.4,168.9 563.4,167.3 562.4,165.6 561.4,164.5 560.4,164.5 559.4,164.8 558.4,165.7 557.4,169.0 556.4,173.0 555.4,175.6 554.4,175.8 553.4,178.0 552.4,181.3 551.4,183.5 550.4,185.5 549.4,187.3 548.4,188.9 547.4,190.5 546.4,192.0 545.4,193.4 544.4,194.9 543.4,196.2 542.4,196.7 541.4,196.6 540.4,196.5 539.4,196.2 538.4,195.4 537.4,194.9 536.4,195.3 535.4,196.4 534.4,197.6 533.4,198.7 532.4,199.3 531.4,200.0 530.4,200.5 529.4,200.9 528.4,201.1 527.4,201.3 526.4,201.5 525.4,201.6 524.4,201.6 523.4,201.5 522.4,201.2 521.4,200.8 520.4,200.4 519.4,199.8 518.4,198.8 517.4,197.8 516.4,197.0 515.4,196.2 514.4,195.4 513.4,194.6 512.4,193.8 511.4,193.0 510.4,193.1 509.4,195.4 508.4,196.7 507.4,196.2 506.4,195.4 505.4,194.4 504.4,193.2 503.4,191.7 502.4,190.0 501.4,188.0 500.4,185.7 499.4,183.1 498.4,180.3 497.4,177.2 496.4,173.7 495.4,169.9 494.4,165.9 493.4,161.1 492.4,154.2 491.4,145.0 490.4,134.3 489.4,124.5 488.4,118.2 487.4,116.8 486.4,116.1 485.4,116.1 484.4,119.1 483.4,123.5 482.4,130.2 481.4,137.7 480.4,144.7 479.4,151.9 478.4,158.5 477.4,164.6 476.4,170.3 475.4,174.4 474.4,177.9 473.4,180.3 472.4,180.7 471.4,180.7 470.4,180.5 469.4,178.4 468.4,175.7 467.4,172.1 466.4,167.8 465.4,162.8 464.4,156.8 463.4,150.1 462.4,143.2 461.4,135.8 460.4,128.0 459.4,119.8 458.4,111.1 457.4,101.3 456.4,89.5 455.4,77.2 454.4,64.3 453.4,53.6 452.4,45.4 451.4,39.4 450.4,34.8 449.4,31.5 448.4,29.4 447.4,27.7 446.4,26.7 445.4,26.8 444.4,27.7 443.4,29.9 442.4,35.0 441.4,41.7 440.4,51.0 439.4,59.1 438.4,66.7 437.4,68.7 436.4,65.5 435.4,61.6 434.4,58.0 433.4,60.5 432.4,65.8 431.4,74.0 430.4,83.0 429.4,92.7 428.4,103.8 427.4,117.3 426.4,131.8 425.4,145.5 424.4,156.1 423.4,168.0 422.4,177.4 421.4,181.2 420.4,185.2 419.4,188.9 418.4,193.2 417.4,199.3 416.4,205.6 415.4,210.8 414.4,213.6 413.4,215.2 412.4,215.9 411.4,216.3 410.4,216.6 409.4,217.0 408.4,217.5 407.4,218.0 406.4,218.7 405.4,219.3 404.4,220.2 403.4,221.2 402.4,222.2 401.4,223.0 400.4,223.4 399.4,223.7 398.4,223.9 397.4,224.1 396.4,224.3 395.4,224.4 394.4,224.6 393.4,224.7 392.4,224.9 391.4,225.1 390.4,225.2 389.4,225.4 388.4,225.6 387.4,225.8 386.4,225.9 385.4,226.1 384.4,226.3 383.4,226.5 382.4,226.8 381.4,227.0 380.4,227.3 379.4,227.6 378.4,227.9 377.4,228.2 376.4,228.5 375.4,228.9 374.4,229.2 Z" fill="#858585" stroke="#858585" stroke-width="3.2" stroke-linejoin="round"/>
<path d="M374.4,228.5 375.4,228.1 376.4,227.7 377.4,227.3 378.4,227.0 379.4,226.7 380.4,226.3 381.4,226.0 382.4,225.8 383.4,225.5 384.4,225.3 385.4,225.1 386.4,224.9 387.4,224.7 388.4,224.6 389.4,224.4 390.4,224.2 391.4,224.1 392.4,223.9 393.4,223.7 394.4,223.6 395.4,223.4 396.4,223.3 397.4,223.1 398.4,222.9 399.4,222.7 400.4,222.4 401.4,222.0 402.4,221.2 403.4,220.2 404.4,219.2 405.4,218.3 406.4,217.7 407.4,217.0 408.4,216.5 409.4,216.0 410.4,215.6 411.4,215.3 412.4,214.9 413.4,214.2 414.4,212.6 415.4,209.8 416.4,204.6 417.4,198.2 418.4,192.0 419.4,187.7 420.4,183.9 421.4,180.0 422.4,176.1 423.4,166.8 424.4,154.9 425.4,144.2 426.4,130.6 427.4,116.0 428.4,102.5 429.4,91.5 430.4,81.9 431.4,72.9 432.4,64.7 433.4,59.2 434.4,56.6 435.4,60.3 436.4,64.2 437.4,67.3 438.4,65.2 439.4,57.6 440.4,49.5 441.4,40.1 442.4,33.6 443.4,28.6 444.4,26.5 445.4,25.4 446.4,25.3 447.4,26.3 448.4,28.0 449.4,30.1 450.4,33.2 451.4,37.0 452.4,41.8 453.4,48.0 454.4,55.1 455.4,63.1 456.4,70.0 457.4,76.3 458.4,82.5 459.4,88.6 460.4,95.0 461.4,102.1 462.4,109.7 463.4,117.3 464.4,125.2 465.4,133.0 466.4,140.0 467.4,146.5 468.4,152.8 469.4,159.2 470.4,165.3 471.4,169.0 472.4,170.4 473.4,169.0 474.4,166.4 475.4,161.2 476.4,154.3 477.4,148.0 478.4,142.2 479.4,136.3 480.4,129.8 481.4,122.8 482.4,116.4 483.4,111.0 484.4,106.7 485.4,103.7 486.4,102.3 487.4,106.0 488.4,112.8 489.4,122.1 490.4,132.5 491.4,142.2 492.4,151.2 493.4,158.3 494.4,163.2 495.4,167.3 496.4,171.1 497.4,174.6 498.4,177.7 499.4,180.6 500.4,183.2 501.4,185.6 502.4,187.6 503.4,189.3 504.4,190.8 505.4,192.0 506.4,193.0 507.4,193.8 508.4,194.3 509.4,193.0 510.4,190.7 511.4,190.6 512.4,191.4 513.4,192.2 514.4,193.0 515.4,193.8 516.4,194.6 517.4,195.4 518.4,196.2 519.4,196.9 520.4,197.5 521.4,197.9 522.4,198.3 523.4,198.6 524.4,198.8 525.4,198.8 526.4,198.7 527.4,198.6 528.4,198.4 529.4,198.2 530.4,197.8 531.4,197.2 532.4,196.5 533.4,195.8 534.4,194.6 535.4,193.2 536.4,192.0 537.4,191.5 538.4,192.0 539.4,192.9 540.4,193.3 541.4,193.5 542.4,193.6 543.4,193.2 544.4,192.0 545.4,190.5 546.4,189.2 547.4,187.8 548.4,186.3 549.4,184.7 550.4,182.9 551.4,180.9 552.4,178.7 553.4,176.1 554.4,172.8 555.4,168.8 556.4,165.7 557.4,163.1 558.4,161.0 559.4,159.1 560.4,158.0 561.4,158.8 562.4,160.9 563.4,162.6 564.4,164.1 565.4,165.3 566.4,165.4 567.4,164.9 568.4,164.4 569.4,164.5 570.4,164.7 571.4,164.9 572.4,165.0 573.4,164.9 574.4,164.8 575.4,164.7 576.4,164.5 577.4,164.4 578.4,164.5 579.4,165.1 580.4,166.0 581.4,167.1 582.4,168.6 583.4,170.5 584.4,172.4 585.4,174.2 586.4,176.1 587.4,178.2 588.4,180.6 589.4,183.4 590.4,186.3 591.4,189.1 592.4,192.2 593.4,194.8 594.4,196.4 595.4,197.5 596.4,198.4 597.4,199.2 598.4,200.1 599.4,201.1 600.4,202.2 601.4,203.1 602.4,203.7 603.4,204.0 604.4,204.2 605.4,204.4 606.4,204.5 607.4,204.4 608.4,203.6 609.4,202.6 610.4,202.0 611.4,201.6 612.4,201.5 613.4,201.9 614.4,202.7 615.4,203.7 616.4,204.7 617.4,205.5 618.4,206.4 619.4,207.3 620.4,208.2 621.4,208.9 622.4,209.5 623.4,209.8 624.4,210.1 625.4,210.4 626.4,210.6 627.4,210.9 628.4,211.1 629.4,211.3 630.4,211.5 631.4,211.8 632.4,212.0 633.4,212.3 634.4,212.6 635.4,212.9 636.4,213.1 637.4,213.3 638.4,213.5 639.4,213.5 640.4,213.3 641.4,212.9 642.4,212.1 643.4,211.3 644.4,210.2 645.4,209.1 646.4,207.2 647.4,204.9 648.4,202.9 649.4,201.5 650.4,200.6 651.4,202.1 652.4,206.6 653.4,208.6 654.4,209.3 655.4,209.5 656.4,209.4 657.4,209.2 658.4,208.8 659.4,208.4 660.4,207.9 661.4,207.4 662.4,206.9 663.4,206.3 664.4,205.6 665.4,204.8 666.4,204.1 667.4,203.4 668.4,202.8 669.4,202.3 670.4,202.0 671.4,201.7 672.4,201.4 673.4,201.1 674.4,200.7 675.4,200.4 676.4,200.0 677.4,199.5 678.4,199.1 679.4,198.6 680.4,198.1 681.4,197.5 682.4,196.9 683.4,196.3 684.4,195.6 685.4,194.8 686.4,194.0 687.4,193.0 688.4,191.8 689.4,189.8 690.4,187.7 691.4,186.8 692.4,186.8 693.4,187.0 694.4,187.4" fill="none" stroke="#6a6a6a" stroke-width="0.6" stroke-linejoin="round" stroke-linecap="round"/>
<path d="M481.4,122.8 482.4,116.4 483.4,111.0 484.4,106.7 485.4,103.7 486.4,102.3 487.4,106.0 488.4,112.8 489.4,122.1 490.4,132.5" fill="none" stroke="#222" stroke-width="0.9" stroke-linejoin="round" stroke-linecap="round"/>
<path d="M566.4,165.4 567.4,164.9 568.4,164.4 569.4,164.5 570.4,164.7 571.4,164.9 572.4,165.0 573.4,164.9 574.4,164.8 575.4,164.7 576.4,164.5 577.4,164.4 578.4,164.5 579.4,165.1 580.4,166.0 581.4,167.1 582.4,168.6 583.4,170.5 584.4,172.4 585.4,174.2" fill="none" stroke="#111" stroke-width="1.3" stroke-linejoin="round" stroke-linecap="round"/>
<path d="M567.4,165.8 568.4,165.5 569.4,165.6 570.4,165.9 571.4,166.3 572.4,166.5 573.4,166.5 574.4,166.3 575.4,166.1 576.4,165.9 577.4,165.9 578.4,166.0 579.4,166.6 580.4,167.6 581.4,168.7 582.4,170.3 583.4,172.1" fill="none" stroke="#222" stroke-width="0.9" stroke-linejoin="round" stroke-linecap="round"/>
<path d="M455.4,71.7 456.4,81.6 457.4,90.9 458.4,99.1 459.4,106.7 460.4,114.0 461.4,121.6 462.4,129.0 463.4,136.3 464.4,143.4 465.4,150.3 466.4,156.2 467.4,161.5 468.4,166.2 469.4,170.6 470.4,174.5 471.4,176.3 472.4,177.0 473.4,176.1 474.4,173.6 475.4,169.3 476.4,163.9 477.4,158.1 478.4,152.1 479.4,145.7 480.4,138.9 481.4,131.9 482.4,124.9 483.4,118.8 484.4,114.4 485.4,111.4 486.4,110.8 487.4,112.8 488.4,116.7 489.4,124.3 490.4,134.4 491.4,144.6 492.4,153.7 493.4,160.7 494.4,165.5 495.4,169.6 496.4,173.4 497.4,176.9 498.4,180.0 499.4,182.8 500.4,185.5 501.4,187.8 502.4,189.8 503.4,191.5 504.4,193.0 505.4,194.2 506.4,195.2 507.4,196.0 508.4,196.5 509.4,195.2 510.4,192.9 511.4,192.8 512.4,193.6 513.4,194.4 514.4,195.2 515.4,196.0 516.4,196.8 517.4,197.6 518.4,198.5 519.4,199.4 520.4,200.0 521.4,200.4 522.4,200.8 523.4,201.1 524.4,201.2 525.4,201.2 526.4,201.1 527.4,201.0 528.4,200.8 529.4,200.5 530.4,200.1 531.4,199.6 532.4,198.9 533.4,198.2 534.4,197.1 535.4,195.8 536.4,194.7 537.4,194.2 538.4,194.8 539.4,195.6 540.4,195.9 541.4,196.1 542.4,196.2 543.4,195.7 544.4,194.5 545.4,193.0 546.4,191.6 547.4,190.2 548.4,188.6 549.4,187.0 550.4,185.2 551.4,183.2 552.4,181.0 553.4,178.0 554.4,175.3 555.4,173.4 556.4,170.6 557.4,167.2 558.4,164.5 559.4,163.1 560.4,162.4 561.4,162.8 562.4,164.4 563.4,166.1 564.4,167.6 565.4,168.6 566.4,169.0 567.4,169.1 568.4,169.2 569.4,169.6 570.4,170.4 571.4,171.2 572.4,171.8 573.4,172.1 574.4,171.8 575.4,171.4 576.4,171.0 577.4,171.0 578.4,171.4 579.4,172.2 580.4,173.1 581.4,174.4 582.4,176.1 583.4,178.0 584.4,179.9 585.4,181.9 586.4,183.9 587.4,186.1 588.4,188.6 589.4,191.2 590.4,193.6 591.4,196.1 592.4,198.6 593.4,200.7 594.4,202.0 595.4,203.0 596.4,203.8 597.4,204.5 598.4,205.2 599.4,205.9 600.4,206.8 601.4,207.5 602.4,208.2 603.4,208.5 604.4,208.8 605.4,208.8 606.4,208.6 607.4,208.2 608.4,207.3 609.4,205.8 610.4,205.0 611.4,204.5 612.4,204.4 613.4,204.7 614.4,205.4 615.4,206.3 616.4,207.3 617.4,208.1 618.4,209.0 619.4,210.0 620.4,210.9 621.4,211.7 622.4,212.3 623.4,212.7 624.4,213.1 625.4,213.4 626.4,213.6 627.4,213.9 628.4,214.1 629.4,214.3 630.4,214.5 631.4,214.8 632.4,215.0 633.4,215.3 634.4,215.6 635.4,215.8 636.4,216.0 637.4,216.2 638.4,216.3 639.4,216.4 640.4,216.2 641.4,215.7 642.4,215.0 643.4,214.1 644.4,213.1 645.4,212.0 646.4,210.0 647.4,207.6 648.4,205.6 649.4,204.2 650.4,203.2 651.4,204.7 652.4,209.4 653.4,211.4 654.4,212.1 655.4,212.4 656.4,212.3 657.4,212.0 658.4,211.7 659.4,211.2 660.4,210.7 661.4,210.2 662.4,209.8 663.4,209.2 664.4,208.5 665.4,207.7 666.4,206.9 667.4,206.2 668.4,205.7 669.4,205.2 670.4,204.8 671.4,204.5 672.4,204.2 673.4,203.9 674.4,203.6 675.4,203.2 676.4,202.8 677.4,202.4 678.4,201.9 679.4,201.4 680.4,200.9 681.4,200.4 682.4,199.8 683.4,199.1 684.4,198.4 685.4,197.7 686.4,196.9 687.4,195.9 688.4,194.7 689.4,192.7 690.4,190.6 691.4,189.7 692.4,189.7 693.4,189.8 694.4,190.2" fill="none" stroke="#a8a8a8" stroke-width="0.5" stroke-linejoin="round" stroke-linecap="round"/>
<path d="M500.4,186.9 501.4,189.2 502.4,191.2 503.4,192.9 504.4,194.4 505.4,195.6 506.4,196.6 507.4,197.4 508.4,197.9 509.4,196.6 510.4,194.3 511.4,194.2 512.4,195.0 513.4,195.8 514.4,196.6 515.4,197.4 516.4,198.2 517.4,199.0 518.4,200.0 519.4,200.9 520.4,201.6 521.4,202.0 522.4,202.3 523.4,202.6 524.4,202.8 525.4,202.7 526.4,202.6 527.4,202.5 528.4,202.3 529.4,202.0 530.4,201.6 531.4,201.1 532.4,200.5 533.4,199.8 534.4,198.7 535.4,197.5 536.4,196.4 537.4,196.0 538.4,196.5 539.4,197.3 540.4,197.6 541.4,197.8 542.4,197.8 543.4,197.4 544.4,196.1 545.4,194.5 546.4,193.1 547.4,191.7 548.4,190.1 549.4,188.4 550.4,186.6 551.4,184.7 552.4,182.5 553.4,179.2 554.4,176.9 555.4,176.4 556.4,173.7 557.4,169.8 558.4,166.7 559.4,165.6 560.4,165.3 561.4,165.4 562.4,166.6 563.4,168.3 564.4,169.8 565.4,170.8 566.4,171.3 567.4,171.8 568.4,172.2 569.4,172.9 570.4,174.0 571.4,175.2 572.4,176.2 573.4,176.6 574.4,176.3 575.4,175.6 576.4,175.2 577.4,175.2 578.4,175.8 579.4,176.6 580.4,177.7 581.4,179.1 582.4,180.9 583.4,182.8 584.4,184.7 585.4,186.7 586.4,188.9 587.4,191.2 588.4,193.7 589.4,196.1 590.4,198.3 591.4,200.6 592.4,202.7 593.4,204.4 594.4,205.6 595.4,206.4 596.4,207.2 597.4,207.8 598.4,208.4 599.4,209.0 600.4,209.7 601.4,210.4 602.4,211.0 603.4,211.4 604.4,211.7 605.4,211.6 606.4,211.2 607.4,210.7 608.4,209.7 609.4,207.9 610.4,206.9 611.4,206.4 612.4,206.2 613.4,206.5 614.4,207.2 615.4,208.0 616.4,208.9 617.4,209.7 618.4,210.7 619.4,211.7 620.4,212.7 621.4,213.5 622.4,214.1 623.4,214.6 624.4,214.9 625.4,215.2 626.4,215.5 627.4,215.8 628.4,216.0 629.4,216.2 630.4,216.4 631.4,216.7 632.4,216.9 633.4,217.2 634.4,217.5 635.4,217.7 636.4,217.9 637.4,218.0 638.4,218.1 639.4,218.2 640.4,218.0 641.4,217.5 642.4,216.8 643.4,215.9 644.4,214.9 645.4,213.8 646.4,211.8 647.4,209.4 648.4,207.4 649.4,205.9 650.4,204.8 651.4,206.4 652.4,211.2 653.4,213.3 654.4,213.9 655.4,214.2 656.4,214.1 657.4,213.8 658.4,213.5 659.4,213.0 660.4,212.6 661.4,212.1 662.4,211.6 663.4,211.0 664.4,210.3 665.4,209.5 666.4,208.8 667.4,208.1 668.4,207.5 669.4,207.0 670.4,206.7 671.4,206.3 672.4,206.0 673.4,205.7 674.4,205.4 675.4,205.1 676.4,204.7 677.4,204.2 678.4,203.8 679.4,203.3 680.4,202.7 681.4,202.2 682.4,201.6 683.4,200.9 684.4,200.3 685.4,199.5 686.4,198.7 687.4,197.7 688.4,196.5 689.4,194.5 690.4,192.4 691.4,191.5 692.4,191.5 693.4,191.7 694.4,192.1" fill="none" stroke="#333" stroke-width="0.8" stroke-linejoin="round" stroke-linecap="round"/>
<path d="M452.4,47.0 453.4,55.2 454.4,65.9 455.4,78.8 456.4,91.1 457.4,102.9 458.4,112.7 459.4,121.4 460.4,129.6 461.4,137.4 462.4,144.8 463.4,151.7 464.4,158.4 465.4,164.4 466.4,169.4 467.4,173.7 468.4,177.3 469.4,180.0 470.4,182.1 471.4,182.3 472.4,182.3 473.4,181.9 474.4,179.5 475.4,176.0 476.4,171.9 477.4,166.2 478.4,160.1 479.4,153.5 480.4,146.3 481.4,139.3 482.4,131.8 483.4,125.1 484.4,120.7 485.4,117.7 486.4,117.7 487.4,118.4 488.4,119.8 489.4,126.1 490.4,135.9 491.4,146.6 492.4,155.8 493.4,162.7 494.4,167.5 495.4,171.5 496.4,175.3 497.4,178.8 498.4,181.9 499.4,184.7 500.4,187.3 501.4,189.6 502.4,191.6 503.4,193.3 504.4,194.8 505.4,196.0 506.4,197.0 507.4,197.8 508.4,198.3 509.4,197.0 510.4,194.7 511.4,194.6 512.4,195.4 513.4,196.2 514.4,197.0 515.4,197.8 516.4,198.6 517.4,199.4 518.4,200.4 519.4,201.4 520.4,202.0 521.4,202.4 522.4,202.8 523.4,203.1 524.4,203.2 525.4,203.2 526.4,203.1 527.4,202.9 528.4,202.7 529.4,202.5 530.4,202.1 531.4,201.6 532.4,200.9 533.4,200.3 534.4,199.2 535.4,198.0 536.4,196.9 537.4,196.5 538.4,197.0 539.4,197.8 540.4,198.1 541.4,198.2 542.4,198.3 543.4,197.8 544.4,196.5 545.4,195.0 546.4,193.6 547.4,192.1 548.4,190.5 549.4,188.9 550.4,187.1 551.4,185.1 552.4,182.9 553.4,179.6 554.4,177.4 555.4,177.2 556.4,174.6 557.4,170.6 558.4,167.3 559.4,166.4 560.4,166.1 561.4,166.1 562.4,167.2 563.4,168.9 564.4,170.5 565.4,171.4 566.4,172.0 567.4,172.5 568.4,173.1 569.4,173.9 570.4,175.0 571.4,176.4 572.4,177.4 573.4,177.9 574.4,177.5 575.4,176.8 576.4,176.3 577.4,176.4 578.4,177.1 579.4,177.9 580.4,179.0 581.4,180.5 582.4,182.3 583.4,184.2 584.4,186.1 585.4,188.1 586.4,190.3 587.4,192.6 588.4,195.1 589.4,197.5 590.4,199.6 591.4,201.9 592.4,203.9 593.4,205.5 594.4,206.6 595.4,207.4 596.4,208.1 597.4,208.7 598.4,209.3 599.4,209.9 600.4,210.5 601.4,211.2 602.4,211.8 603.4,212.2 604.4,212.5 605.4,212.4 606.4,212.0 607.4,211.4 608.4,210.4 609.4,208.5 610.4,207.4 611.4,206.9 612.4,206.7 613.4,207.0 614.4,207.7 615.4,208.5 616.4,209.4 617.4,210.2 618.4,211.1 619.4,212.2 620.4,213.2 621.4,214.0 622.4,214.7 623.4,215.1 624.4,215.4 625.4,215.8 626.4,216.1 627.4,216.3 628.4,216.5 629.4,216.8 630.4,217.0 631.4,217.2 632.4,217.5 633.4,217.7 634.4,218.0 635.4,218.2 636.4,218.4 637.4,218.6 638.4,218.7 639.4,218.7 640.4,218.5 641.4,218.1 642.4,217.4 643.4,216.5 644.4,215.5 645.4,214.3 646.4,212.3 647.4,209.9 648.4,207.8 649.4,206.3 650.4,205.3 651.4,206.9 652.4,211.7 653.4,213.8 654.4,214.5 655.4,214.7 656.4,214.6 657.4,214.4 658.4,214.0 659.4,213.6 660.4,213.1 661.4,212.6 662.4,212.1 663.4,211.5 664.4,210.8 665.4,210.0 666.4,209.3 667.4,208.6 668.4,208.0 669.4,207.5 670.4,207.2 671.4,206.9 672.4,206.6 673.4,206.3 674.4,205.9 675.4,205.6 676.4,205.2 677.4,204.7 678.4,204.3 679.4,203.8 680.4,203.3 681.4,202.7 682.4,202.1 683.4,201.5 684.4,200.8 685.4,200.0 686.4,199.2 687.4,198.2 688.4,197.0 689.4,195.0 690.4,192.9 691.4,192.0 692.4,192.0 693.4,192.2 694.4,192.6" fill="none" stroke="#111" stroke-width="1.2" stroke-linejoin="round" stroke-linecap="round"/>
<path d="M374.4,230.0 375.4,229.7 376.4,229.4 377.4,229.1 378.4,228.8 379.4,228.5 380.4,228.2 381.4,228.0 382.4,227.8 383.4,227.5 384.4,227.3 385.4,227.1 386.4,226.9 387.4,226.8 388.4,226.6 389.4,226.4 390.4,226.2 391.4,226.1 392.4,225.9 393.4,225.7 394.4,225.6 395.4,225.4 396.4,225.3 397.4,225.1 398.4,224.9 399.4,224.7 400.4,224.4 401.4,224.0 402.4,223.2 403.4,222.2 404.4,221.2 405.4,220.3 406.4,219.7 407.4,219.0 408.4,218.5 409.4,218.0 410.4,217.6 411.4,217.3 412.4,216.9 413.4,216.2 414.4,214.6 415.4,211.8 416.4,206.6 417.4,200.4 418.4,194.5 419.4,190.2 420.4,186.4 421.4,182.5 422.4,178.6 423.4,169.3 424.4,157.4 425.4,146.7 426.4,133.1 427.4,118.6 428.4,105.1 429.4,93.9 430.4,84.1 431.4,75.1 432.4,66.9 433.4,61.8 434.4,59.5 435.4,62.9 436.4,66.8 437.4,70.2 438.4,68.2 439.4,60.6 440.4,52.5 441.4,43.2 442.4,36.4 443.4,31.1 444.4,29.0 445.4,28.2 446.4,28.1 447.4,29.0 448.4,30.7 449.4,32.9 450.4,36.4 451.4,41.0" fill="none" stroke="#6a6a6a" stroke-width="0.7" stroke-linejoin="round" stroke-linecap="round"/>
<path d="M42.0,454.6 43.0,454.6 44.0,454.6 45.0,454.6 46.0,454.6 47.0,454.6 48.0,454.6 49.0,454.6 50.0,454.6 51.0,454.6 52.0,454.6 53.0,454.6 54.0,454.6 55.0,454.6 56.0,454.6 57.0,454.6 58.0,454.6 59.0,454.6 60.0,454.6 61.0,454.6 62.0,454.6 63.0,454.6 64.0,454.6 65.0,454.5 66.0,454.5 67.0,454.5 68.0,454.5 69.0,454.4 70.0,454.2 71.0,453.7 72.0,452.8 73.0,451.8 74.0,450.8 75.0,449.8 76.0,448.6 77.0,447.3 78.0,446.0 79.0,444.6 80.0,443.3 81.0,442.1 82.0,440.8 83.0,439.5 84.0,438.3 85.0,437.0 86.0,435.7 87.0,434.5 88.0,433.4 89.0,432.3 90.0,431.2 91.0,430.1 92.0,428.9 93.0,427.6 94.0,426.1 95.0,424.6 96.0,422.9 97.0,420.9 98.0,418.8 99.0,416.3 100.0,413.4 101.0,409.8 102.0,405.2 103.0,398.9 104.0,389.7 105.0,380.3 106.0,370.6 107.0,362.0 108.0,355.8 109.0,350.0 110.0,342.8 111.0,335.3 112.0,329.4 113.0,324.0 114.0,319.2 115.0,315.4 116.0,313.2 117.0,311.7 118.0,310.5 119.0,309.7 120.0,309.4 121.0,309.7 122.0,310.4 123.0,311.1 124.0,311.5 125.0,311.4 126.0,311.3 127.0,311.0 128.0,310.5 129.0,309.0 130.0,306.6 131.0,303.9 132.0,301.3 133.0,298.5 134.0,295.5 135.0,292.7 136.0,290.5 137.0,288.6 138.0,286.9 139.0,285.9 140.0,286.0 141.0,286.8 142.0,288.1 143.0,289.6 144.0,291.9 145.0,294.7 146.0,297.3 147.0,299.4 148.0,301.2 149.0,302.9 150.0,304.4 151.0,305.6 152.0,306.7 153.0,307.7 154.0,308.5 155.0,309.0 156.0,309.3 157.0,309.6 158.0,309.8 159.0,309.9 160.0,310.0 161.0,309.9 162.0,309.4 163.0,308.6 164.0,307.8 165.0,306.6 166.0,304.8 167.0,303.2 168.0,302.2 169.0,301.3 170.0,301.0 171.0,301.9 172.0,303.7 173.0,305.9 174.0,308.9 175.0,312.8 176.0,317.1 177.0,321.3 178.0,326.0 179.0,331.0 180.0,335.8 181.0,340.0 182.0,343.4 183.0,346.5 184.0,349.5 185.0,352.7 186.0,356.2 187.0,359.5 188.0,361.6 189.0,363.3 190.0,364.7 191.0,365.9 192.0,367.0 193.0,368.0 194.0,369.0 195.0,369.9 196.0,370.8 197.0,371.8 198.0,372.8 199.0,373.9 200.0,375.0 201.0,376.2 202.0,377.3 203.0,378.4 204.0,379.4 205.0,380.4 206.0,381.4 207.0,382.3 208.0,383.1 209.0,383.8 210.0,384.4 211.0,384.9 212.0,385.4 213.0,385.8 214.0,386.3 215.0,386.7 216.0,387.1 217.0,387.6 218.0,388.1 219.0,388.6 220.0,389.2 221.0,389.8 222.0,390.4 223.0,391.0 224.0,391.7 225.0,392.4 226.0,393.0 227.0,393.8 228.0,394.5 229.0,395.2 230.0,396.1 231.0,397.0 232.0,397.9 233.0,398.9 234.0,399.9 235.0,400.9 236.0,401.9 237.0,402.8 238.0,403.6 239.0,404.3 240.0,404.9 241.0,405.4 242.0,405.8 243.0,406.2 244.0,406.6 245.0,406.9 246.0,407.2 247.0,407.5 248.0,407.8 249.0,408.2 250.0,408.6 251.0,409.0 252.0,409.4 253.0,409.9 254.0,410.5 255.0,411.0 256.0,411.6 257.0,412.3 258.0,412.9 259.0,413.5 260.0,414.2 261.0,414.8 262.0,415.5 263.0,416.1 264.0,416.7 265.0,417.4 266.0,418.0 267.0,418.5 268.0,419.1 269.0,419.7 270.0,420.2 271.0,420.7 272.0,421.3 273.0,421.8 274.0,422.4 275.0,422.9 276.0,423.5 277.0,424.1 278.0,424.7 279.0,425.3 280.0,425.9 281.0,426.6 282.0,427.3 283.0,428.0 284.0,428.8 285.0,429.7 286.0,430.6 287.0,431.5 288.0,432.5 289.0,433.5 290.0,434.4 291.0,435.4 292.0,436.4 293.0,437.3 294.0,438.2 295.0,439.0 296.0,439.8 297.0,440.6 298.0,441.3 299.0,442.0 300.0,442.7 301.0,443.4 302.0,444.1 303.0,444.8 304.0,445.4 305.0,446.0 306.0,446.6 307.0,447.1 308.0,447.6 309.0,448.0 310.0,448.4 311.0,448.7 312.0,449.0 313.0,449.3 314.0,449.5 315.0,449.8 316.0,450.0 317.0,450.3 318.0,450.5 319.0,450.7 320.0,450.9 321.0,451.1 322.0,451.3 323.0,451.5 324.0,451.6 325.0,451.8 326.0,451.9 327.0,452.1 328.0,452.2 329.0,452.4 330.0,452.5 331.0,452.6 332.0,452.8 333.0,452.9 334.0,453.0 335.0,453.1 336.0,453.2 337.0,453.3 338.0,453.4 339.0,453.5 340.0,453.6 341.0,453.7 342.0,453.8 343.0,453.8 344.0,453.9 345.0,454.0 346.0,454.1 347.0,454.1 348.0,454.2 349.0,454.3 350.0,454.4 351.0,454.5 352.0,454.5 353.0,454.6 354.0,454.7 355.0,454.8 356.0,454.9 357.0,455.0 358.0,455.1 359.0,455.3 360.0,455.4 361.0,455.5 362.0,455.6" fill="none" stroke="#1bb9cc" stroke-width="1.5" stroke-linejoin="round" stroke-linecap="round"/>
<path d="M42.0,454.7 43.0,454.7 44.0,454.7 45.0,454.7 46.0,454.7 47.0,454.7 48.0,454.7 49.0,454.7 50.0,454.7 51.0,454.7 52.0,454.7 53.0,454.7 54.0,454.7 55.0,454.7 56.0,454.7 57.0,454.7 58.0,454.7 59.0,454.7 60.0,454.7 61.0,454.7 62.0,454.7 63.0,454.7 64.0,454.7 65.0,454.6 66.0,454.6 67.0,454.6 68.0,454.5 69.0,454.5 70.0,454.3 71.0,453.8 72.0,453.0 73.0,452.0 74.0,451.1 75.0,450.1 76.0,449.0 77.0,447.8 78.0,446.5 79.0,445.4 80.0,444.2 81.0,443.0 82.0,441.8 83.0,440.6 84.0,439.4 85.0,438.2 86.0,437.0 87.0,435.9 88.0,434.8 89.0,433.7 90.0,432.6 91.0,431.5 92.0,430.3 93.0,429.1 94.0,427.6 95.0,426.1 96.0,424.4 97.0,422.5 98.0,420.4 99.0,417.9 100.0,415.1 101.0,411.5 102.0,407.0 103.0,400.6 104.0,391.6 105.0,382.3 106.0,372.5 107.0,363.6 108.0,356.9 109.0,350.7 110.0,343.3 111.0,335.9 112.0,330.0 113.0,324.7 114.0,320.0 115.0,316.3 116.0,314.1 117.0,312.6 118.0,311.4 119.0,310.6 120.0,310.2 121.0,310.3 122.0,310.9 123.0,311.5 124.0,311.8 125.0,311.9 126.0,311.8 127.0,311.5 128.0,311.1 129.0,309.7 130.0,307.4 131.0,304.7 132.0,302.2 133.0,299.5 134.0,296.6 135.0,294.0 136.0,291.8 137.0,289.9 138.0,288.2 139.0,287.1 140.0,287.0 141.0,287.7 142.0,288.9 143.0,290.3 144.0,292.5 145.0,295.2 146.0,297.9 147.0,299.9 148.0,301.8 149.0,303.5 150.0,305.0 151.0,306.3 152.0,307.5 153.0,308.5 154.0,309.4 155.0,310.1 156.0,310.5 157.0,310.9 158.0,311.1 159.0,311.2 160.0,311.3 161.0,311.1 162.0,310.7 163.0,310.1 164.0,309.2 165.0,308.1 166.0,306.3 167.0,304.8 168.0,303.7 169.0,302.8 170.0,302.4 171.0,303.2 172.0,305.0 173.0,307.1 174.0,310.0 175.0,313.7 176.0,317.7 177.0,321.8 178.0,326.4 179.0,331.6 180.0,337.1 181.0,341.6 182.0,345.3 183.0,348.5 184.0,351.4 185.0,354.4 186.0,357.7 187.0,360.7 188.0,362.8 189.0,364.3 190.0,365.7 191.0,367.0 192.0,368.1 193.0,369.1 194.0,370.1 195.0,371.0 196.0,372.0 197.0,373.0 198.0,374.0 199.0,375.1 200.0,376.2 201.0,377.3 202.0,378.4 203.0,379.5 204.0,380.6 205.0,381.6 206.0,382.6 207.0,383.4 208.0,384.2 209.0,385.0 210.0,385.6 211.0,386.2 212.0,386.7 213.0,387.2 214.0,387.6 215.0,388.1 216.0,388.6 217.0,389.0 218.0,389.6 219.0,390.1 220.0,390.7 221.0,391.3 222.0,392.0 223.0,392.6 224.0,393.3 225.0,394.0 226.0,394.7 227.0,395.4 228.0,396.1 229.0,396.9 230.0,397.7 231.0,398.5 232.0,399.5 233.0,400.4 234.0,401.4 235.0,402.3 236.0,403.2 237.0,404.1 238.0,404.8 239.0,405.5 240.0,406.1 241.0,406.6 242.0,407.0 243.0,407.4 244.0,407.8 245.0,408.1 246.0,408.5 247.0,408.8 248.0,409.1 249.0,409.5 250.0,409.8 251.0,410.3 252.0,410.7 253.0,411.2 254.0,411.7 255.0,412.3 256.0,412.8 257.0,413.4 258.0,414.0 259.0,414.6 260.0,415.3 261.0,415.9 262.0,416.5 263.0,417.2 264.0,417.8 265.0,418.4 266.0,419.0 267.0,419.6 268.0,420.2 269.0,420.7 270.0,421.3 271.0,421.8 272.0,422.4 273.0,423.0 274.0,423.5 275.0,424.1 276.0,424.6 277.0,425.2 278.0,425.8 279.0,426.4 280.0,427.1 281.0,427.7 282.0,428.4 283.0,429.1 284.0,429.9 285.0,430.7 286.0,431.6 287.0,432.5 288.0,433.4 289.0,434.3 290.0,435.3 291.0,436.2 292.0,437.1 293.0,438.0 294.0,438.9 295.0,439.7 296.0,440.5 297.0,441.2 298.0,441.9 299.0,442.6 300.0,443.3 301.0,444.0 302.0,444.6 303.0,445.3 304.0,445.9 305.0,446.5 306.0,447.0 307.0,447.5 308.0,448.0 309.0,448.4 310.0,448.8 311.0,449.1 312.0,449.4 313.0,449.6 314.0,449.9 315.0,450.1 316.0,450.4 317.0,450.6 318.0,450.8 319.0,451.0 320.0,451.2 321.0,451.4 322.0,451.6 323.0,451.7 324.0,451.9 325.0,452.0 326.0,452.2 327.0,452.3 328.0,452.5 329.0,452.6 330.0,452.7 331.0,452.8 332.0,453.0 333.0,453.1 334.0,453.2 335.0,453.3 336.0,453.4 337.0,453.5 338.0,453.6 339.0,453.7 340.0,453.8 341.0,453.8 342.0,453.9 343.0,454.0 344.0,454.1 345.0,454.1 346.0,454.2 347.0,454.3 348.0,454.4 349.0,454.4 350.0,454.5 351.0,454.6 352.0,454.7 353.0,454.7 354.0,454.8 355.0,454.9 356.0,455.0 357.0,455.1 358.0,455.2 359.0,455.3 360.0,455.4 361.0,455.5 362.0,455.6" fill="none" stroke="#b372e6" stroke-width="1.3" stroke-linejoin="round" stroke-linecap="round"/>
<path d="M42.0,454.7 43.0,454.7 44.0,454.7 45.0,454.7 46.0,454.7 47.0,454.7 48.0,454.7 49.0,454.8 50.0,454.8 51.0,454.8 52.0,454.8 53.0,454.8 54.0,454.8 55.0,454.8 56.0,454.8 57.0,454.8 58.0,454.8 59.0,454.8 60.0,454.8 61.0,454.8 62.0,454.8 63.0,454.8 64.0,454.8 65.0,454.7 66.0,454.7 67.0,454.7 68.0,454.7 69.0,454.6 70.0,454.5 71.0,454.0 72.0,453.2 73.0,452.3 74.0,451.5 75.0,450.6 76.0,449.5 77.0,448.4 78.0,447.2 79.0,446.2 80.0,445.1 81.0,444.1 82.0,443.0 83.0,441.9 84.0,440.8 85.0,439.6 86.0,438.5 87.0,437.4 88.0,436.4 89.0,435.4 90.0,434.3 91.0,433.2 92.0,432.0 93.0,430.7 94.0,429.4 95.0,427.8 96.0,426.2 97.0,424.3 98.0,422.3 99.0,419.9 100.0,417.0 101.0,413.5 102.0,409.0 103.0,402.6 104.0,393.8 105.0,384.5 106.0,374.6 107.0,365.6 108.0,358.2 109.0,351.4 110.0,343.9 111.0,336.5 112.0,330.7 113.0,325.5 114.0,320.9 115.0,317.5 116.0,315.3 117.0,313.7 118.0,312.5 119.0,311.6 120.0,311.1 121.0,311.1 122.0,311.4 123.0,311.9 124.0,312.3 125.0,312.3 126.0,312.3 127.0,312.2 128.0,311.8 129.0,310.5 130.0,308.3 131.0,305.7 132.0,303.2 133.0,300.6 134.0,297.9 135.0,295.4 136.0,293.3 137.0,291.4 138.0,289.7 139.0,288.5 140.0,288.3 141.0,288.7 142.0,289.7 143.0,291.1 144.0,293.2 145.0,295.9 146.0,298.4 147.0,300.5 148.0,302.4 149.0,304.1 150.0,305.7 151.0,307.0 152.0,308.3 153.0,309.5 154.0,310.5 155.0,311.3 156.0,312.0 157.0,312.4 158.0,312.6 159.0,312.7 160.0,312.7 161.0,312.6 162.0,312.3 163.0,311.7 164.0,311.0 165.0,309.8 166.0,308.1 167.0,306.6 168.0,305.6 169.0,304.6 170.0,304.1 171.0,304.8 172.0,306.4 173.0,308.4 174.0,311.2 175.0,314.6 176.0,318.4 177.0,322.4 178.0,326.8 179.0,332.4 180.0,338.7 181.0,343.5 182.0,347.4 183.0,350.8 184.0,353.6 185.0,356.4 186.0,359.4 187.0,362.1 188.0,364.1 189.0,365.6 190.0,367.0 191.0,368.2 192.0,369.4 193.0,370.4 194.0,371.4 195.0,372.4 196.0,373.3 197.0,374.3 198.0,375.4 199.0,376.5 200.0,377.6 201.0,378.7 202.0,379.8 203.0,380.9 204.0,381.9 205.0,382.9 206.0,383.9 207.0,384.8 208.0,385.6 209.0,386.3 210.0,387.0 211.0,387.6 212.0,388.2 213.0,388.7 214.0,389.2 215.0,389.7 216.0,390.2 217.0,390.7 218.0,391.3 219.0,391.9 220.0,392.5 221.0,393.1 222.0,393.8 223.0,394.4 224.0,395.1 225.0,395.8 226.0,396.6 227.0,397.3 228.0,398.0 229.0,398.8 230.0,399.6 231.0,400.4 232.0,401.3 233.0,402.2 234.0,403.0 235.0,403.9 236.0,404.8 237.0,405.6 238.0,406.3 239.0,407.0 240.0,407.5 241.0,408.0 242.0,408.5 243.0,408.9 244.0,409.2 245.0,409.6 246.0,410.0 247.0,410.3 248.0,410.6 249.0,411.0 250.0,411.4 251.0,411.8 252.0,412.2 253.0,412.7 254.0,413.2 255.0,413.7 256.0,414.2 257.0,414.8 258.0,415.4 259.0,416.0 260.0,416.6 261.0,417.2 262.0,417.8 263.0,418.4 264.0,419.0 265.0,419.6 266.0,420.2 267.0,420.8 268.0,421.4 269.0,422.0 270.0,422.6 271.0,423.1 272.0,423.7 273.0,424.3 274.0,424.8 275.0,425.4 276.0,426.0 277.0,426.6 278.0,427.2 279.0,427.8 280.0,428.4 281.0,429.0 282.0,429.7 283.0,430.4 284.0,431.1 285.0,431.9 286.0,432.8 287.0,433.6 288.0,434.5 289.0,435.4 290.0,436.3 291.0,437.1 292.0,438.0 293.0,438.9 294.0,439.7 295.0,440.5 296.0,441.3 297.0,442.0 298.0,442.7 299.0,443.3 300.0,444.0 301.0,444.6 302.0,445.3 303.0,445.9 304.0,446.4 305.0,447.0 306.0,447.5 307.0,448.0 308.0,448.4 309.0,448.8 310.0,449.2 311.0,449.5 312.0,449.8 313.0,450.1 314.0,450.3 315.0,450.6 316.0,450.8 317.0,451.0 318.0,451.2 319.0,451.4 320.0,451.6 321.0,451.7 322.0,451.9 323.0,452.0 324.0,452.2 325.0,452.3 326.0,452.5 327.0,452.6 328.0,452.7 329.0,452.9 330.0,453.0 331.0,453.1 332.0,453.2 333.0,453.3 334.0,453.4 335.0,453.5 336.0,453.6 337.0,453.7 338.0,453.8 339.0,453.9 340.0,454.0 341.0,454.0 342.0,454.1 343.0,454.2 344.0,454.2 345.0,454.3 346.0,454.4 347.0,454.5 348.0,454.5 349.0,454.6 350.0,454.7 351.0,454.7 352.0,454.8 353.0,454.9 354.0,455.0 355.0,455.0 356.0,455.1 357.0,455.2 358.0,455.3 359.0,455.4 360.0,455.5 361.0,455.6 362.0,455.7" fill="none" stroke="#7e4c4c" stroke-width="1.6" stroke-linejoin="round" stroke-linecap="round"/>
<path d="M42.0,454.8 43.0,454.8 44.0,454.8 45.0,454.8 46.0,454.8 47.0,454.8 48.0,454.8 49.0,454.8 50.0,454.8 51.0,454.8 52.0,454.9 53.0,454.9 54.0,454.9 55.0,454.9 56.0,454.9 57.0,454.9 58.0,454.9 59.0,454.9 60.0,454.9 61.0,454.9 62.0,454.9 63.0,454.9 64.0,454.9 65.0,454.8 66.0,454.8 67.0,454.8 68.0,454.8 69.0,454.7 70.0,454.6 71.0,454.1 72.0,453.4 73.0,452.6 74.0,451.8 75.0,451.0 76.0,450.0 77.0,449.0 78.0,447.9 79.0,447.1 80.0,446.1 81.0,445.1 82.0,444.1 83.0,443.1 84.0,442.1 85.0,441.1 86.0,440.0 87.0,439.0 88.0,438.0 89.0,437.0 90.0,435.9 91.0,434.9 92.0,433.7 93.0,432.4 94.0,431.1 95.0,429.6 96.0,428.0 97.0,426.2 98.0,424.1 99.0,421.8 100.0,419.0 101.0,415.5 102.0,411.0 103.0,404.6 104.0,396.0 105.0,386.7 106.0,376.8 107.0,367.5 108.0,359.4 109.0,352.2 110.0,344.5 111.0,337.2 112.0,331.4 113.0,326.2 114.0,321.9 115.0,318.6 116.0,316.4 117.0,314.8 118.0,313.5 119.0,312.6 120.0,311.9 121.0,311.8 122.0,312.0 123.0,312.4 124.0,312.7 125.0,312.8 126.0,312.9 127.0,312.8 128.0,312.5 129.0,311.2 130.0,309.2 131.0,306.7 132.0,304.3 133.0,301.8 134.0,299.3 135.0,296.9 136.0,294.8 137.0,292.9 138.0,291.2 139.0,289.9 140.0,289.5 141.0,289.8 142.0,290.6 143.0,291.9 144.0,293.9 145.0,296.5 146.0,299.0 147.0,301.2 148.0,303.0 149.0,304.8 150.0,306.4 151.0,307.8 152.0,309.2 153.0,310.4 154.0,311.6 155.0,312.6 156.0,313.4 157.0,313.9 158.0,314.1 159.0,314.2 160.0,314.2 161.0,314.1 162.0,313.8 163.0,313.4 164.0,312.7 165.0,311.5 166.0,309.9 167.0,308.5 168.0,307.4 169.0,306.4 170.0,305.8 171.0,306.3 172.0,307.8 173.0,309.8 174.0,312.4 175.0,315.6 176.0,319.1 177.0,322.9 178.0,327.3 179.0,333.2 180.0,340.3 181.0,345.4 182.0,349.6 183.0,353.1 184.0,355.8 185.0,358.4 186.0,361.1 187.0,363.6 188.0,365.4 189.0,366.9 190.0,368.2 191.0,369.5 192.0,370.6 193.0,371.7 194.0,372.7 195.0,373.7 196.0,374.7 197.0,375.7 198.0,376.8 199.0,377.9 200.0,379.0 201.0,380.1 202.0,381.2 203.0,382.2 204.0,383.3 205.0,384.3 206.0,385.2 207.0,386.1 208.0,387.0 209.0,387.7 210.0,388.4 211.0,389.1 212.0,389.7 213.0,390.2 214.0,390.8 215.0,391.3 216.0,391.9 217.0,392.4 218.0,393.0 219.0,393.6 220.0,394.3 221.0,394.9 222.0,395.6 223.0,396.3 224.0,397.0 225.0,397.7 226.0,398.5 227.0,399.2 228.0,399.9 229.0,400.7 230.0,401.4 231.0,402.3 232.0,403.1 233.0,403.9 234.0,404.7 235.0,405.6 236.0,406.3 237.0,407.1 238.0,407.8 239.0,408.4 240.0,409.0 241.0,409.4 242.0,409.9 243.0,410.3 244.0,410.7 245.0,411.1 246.0,411.4 247.0,411.8 248.0,412.1 249.0,412.5 250.0,412.9 251.0,413.3 252.0,413.7 253.0,414.1 254.0,414.6 255.0,415.1 256.0,415.6 257.0,416.2 258.0,416.7 259.0,417.3 260.0,417.8 261.0,418.4 262.0,419.0 263.0,419.6 264.0,420.3 265.0,420.9 266.0,421.5 267.0,422.1 268.0,422.7 269.0,423.2 270.0,423.8 271.0,424.4 272.0,425.0 273.0,425.6 274.0,426.1 275.0,426.7 276.0,427.3 277.0,427.9 278.0,428.5 279.0,429.1 280.0,429.7 281.0,430.4 282.0,431.0 283.0,431.7 284.0,432.4 285.0,433.2 286.0,433.9 287.0,434.7 288.0,435.6 289.0,436.4 290.0,437.2 291.0,438.1 292.0,438.9 293.0,439.7 294.0,440.5 295.0,441.3 296.0,442.0 297.0,442.7 298.0,443.4 299.0,444.0 300.0,444.7 301.0,445.3 302.0,445.9 303.0,446.4 304.0,447.0 305.0,447.5 306.0,448.0 307.0,448.5 308.0,448.9 309.0,449.3 310.0,449.6 311.0,449.9 312.0,450.2 313.0,450.5 314.0,450.7 315.0,451.0 316.0,451.2 317.0,451.4 318.0,451.6 319.0,451.7 320.0,451.9 321.0,452.1 322.0,452.2 323.0,452.4 324.0,452.5 325.0,452.6 326.0,452.8 327.0,452.9 328.0,453.0 329.0,453.1 330.0,453.3 331.0,453.4 332.0,453.5 333.0,453.6 334.0,453.7 335.0,453.8 336.0,453.8 337.0,453.9 338.0,454.0 339.0,454.1 340.0,454.2 341.0,454.2 342.0,454.3 343.0,454.4 344.0,454.4 345.0,454.5 346.0,454.6 347.0,454.6 348.0,454.7 349.0,454.7 350.0,454.8 351.0,454.9 352.0,454.9 353.0,455.0 354.0,455.1 355.0,455.1 356.0,455.2 357.0,455.3 358.0,455.4 359.0,455.5 360.0,455.5 361.0,455.6 362.0,455.7" fill="none" stroke="#5d8fd2" stroke-width="1.4" stroke-linejoin="round" stroke-linecap="round"/>
<path d="M42.0,454.8 43.0,454.9 44.0,454.9 45.0,454.9 46.0,454.9 47.0,454.9 48.0,454.9 49.0,454.9 50.0,454.9 51.0,454.9 52.0,454.9 53.0,454.9 54.0,455.0 55.0,455.0 56.0,455.0 57.0,455.0 58.0,455.0 59.0,455.0 60.0,455.0 61.0,455.0 62.0,455.0 63.0,455.0 64.0,455.0 65.0,454.9 66.0,454.9 67.0,454.9 68.0,454.9 69.0,454.8 70.0,454.7 71.0,454.3 72.0,453.7 73.0,452.9 74.0,452.2 75.0,451.4 76.0,450.5 77.0,449.6 78.0,448.6 79.0,447.9 80.0,447.1 81.0,446.2 82.0,445.3 83.0,444.4 84.0,443.4 85.0,442.5 86.0,441.5 87.0,440.6 88.0,439.6 89.0,438.6 90.0,437.6 91.0,436.5 92.0,435.4 93.0,434.1 94.0,432.8 95.0,431.4 96.0,429.8 97.0,428.0 98.0,426.0 99.0,423.7 100.0,420.9 101.0,417.5 102.0,413.0 103.0,406.6 104.0,398.2 105.0,389.0 106.0,379.0 107.0,369.4 108.0,360.7 109.0,353.0 110.0,345.1 111.0,337.9 112.0,332.1 113.0,327.0 114.0,322.9 115.0,319.7 116.0,317.5 117.0,315.8 118.0,314.6 119.0,313.6 120.0,312.8 121.0,312.5 122.0,312.5 123.0,312.8 124.0,313.1 125.0,313.3 126.0,313.4 127.0,313.5 128.0,313.2 129.0,312.0 130.0,310.1 131.0,307.7 132.0,305.3 133.0,302.9 134.0,300.6 135.0,298.3 136.0,296.3 137.0,294.4 138.0,292.7 139.0,291.4 140.0,290.8 141.0,290.8 142.0,291.4 143.0,292.7 144.0,294.6 145.0,297.1 146.0,299.6 147.0,301.8 148.0,303.7 149.0,305.4 150.0,307.1 151.0,308.6 152.0,310.1 153.0,311.4 154.0,312.6 155.0,313.8 156.0,314.8 157.0,315.4 158.0,315.6 159.0,315.6 160.0,315.7 161.0,315.6 162.0,315.4 163.0,315.0 164.0,314.4 165.0,313.3 166.0,311.7 167.0,310.3 168.0,309.2 169.0,308.1 170.0,307.5 171.0,307.8 172.0,309.2 173.0,311.2 174.0,313.7 175.0,316.6 176.0,319.9 177.0,323.5 178.0,327.8 179.0,333.9 180.0,341.9 181.0,347.3 182.0,351.7 183.0,355.4 184.0,358.0 185.0,360.4 186.0,362.9 187.0,365.0 188.0,366.7 189.0,368.1 190.0,369.5 191.0,370.7 192.0,371.9 193.0,373.0 194.0,374.0 195.0,375.1 196.0,376.1 197.0,377.1 198.0,378.2 199.0,379.3 200.0,380.4 201.0,381.4 202.0,382.5 203.0,383.6 204.0,384.6 205.0,385.6 206.0,386.6 207.0,387.5 208.0,388.3 209.0,389.1 210.0,389.8 211.0,390.5 212.0,391.2 213.0,391.8 214.0,392.4 215.0,392.9 216.0,393.5 217.0,394.1 218.0,394.7 219.0,395.4 220.0,396.0 221.0,396.7 222.0,397.4 223.0,398.1 224.0,398.9 225.0,399.6 226.0,400.3 227.0,401.1 228.0,401.8 229.0,402.6 230.0,403.3 231.0,404.1 232.0,404.9 233.0,405.7 234.0,406.4 235.0,407.2 236.0,407.9 237.0,408.6 238.0,409.2 239.0,409.8 240.0,410.4 241.0,410.9 242.0,411.3 243.0,411.7 244.0,412.1 245.0,412.5 246.0,412.9 247.0,413.3 248.0,413.7 249.0,414.0 250.0,414.4 251.0,414.8 252.0,415.2 253.0,415.6 254.0,416.1 255.0,416.5 256.0,417.0 257.0,417.5 258.0,418.0 259.0,418.6 260.0,419.1 261.0,419.7 262.0,420.3 263.0,420.9 264.0,421.5 265.0,422.1 266.0,422.7 267.0,423.3 268.0,423.9 269.0,424.5 270.0,425.1 271.0,425.7 272.0,426.3 273.0,426.9 274.0,427.4 275.0,428.0 276.0,428.6 277.0,429.2 278.0,429.8 279.0,430.4 280.0,431.0 281.0,431.7 282.0,432.3 283.0,433.0 284.0,433.7 285.0,434.4 286.0,435.1 287.0,435.9 288.0,436.6 289.0,437.4 290.0,438.2 291.0,439.0 292.0,439.8 293.0,440.6 294.0,441.4 295.0,442.1 296.0,442.8 297.0,443.5 298.0,444.1 299.0,444.8 300.0,445.4 301.0,446.0 302.0,446.5 303.0,447.0 304.0,447.5 305.0,448.0 306.0,448.5 307.0,448.9 308.0,449.3 309.0,449.7 310.0,450.1 311.0,450.4 312.0,450.6 313.0,450.9 314.0,451.1 315.0,451.4 316.0,451.6 317.0,451.8 318.0,451.9 319.0,452.1 320.0,452.3 321.0,452.4 322.0,452.6 323.0,452.7 324.0,452.8 325.0,453.0 326.0,453.1 327.0,453.2 328.0,453.3 329.0,453.4 330.0,453.5 331.0,453.6 332.0,453.7 333.0,453.8 334.0,453.9 335.0,454.0 336.0,454.1 337.0,454.1 338.0,454.2 339.0,454.3 340.0,454.4 341.0,454.4 342.0,454.5 343.0,454.5 344.0,454.6 345.0,454.7 346.0,454.7 347.0,454.8 348.0,454.8 349.0,454.9 350.0,455.0 351.0,455.0 352.0,455.1 353.0,455.1 354.0,455.2 355.0,455.3 356.0,455.3 357.0,455.4 358.0,455.5 359.0,455.5 360.0,455.6 361.0,455.7 362.0,455.7" fill="none" stroke="#c9980e" stroke-width="1.5" stroke-linejoin="round" stroke-linecap="round"/>
<path d="M42.0,454.9 43.0,454.9 44.0,454.9 45.0,455.0 46.0,455.0 47.0,455.0 48.0,455.0 49.0,455.0 50.0,455.0 51.0,455.0 52.0,455.0 53.0,455.0 54.0,455.0 55.0,455.0 56.0,455.1 57.0,455.1 58.0,455.1 59.0,455.1 60.0,455.1 61.0,455.1 62.0,455.1 63.0,455.1 64.0,455.1 65.0,455.0 66.0,455.0 67.0,455.0 68.0,455.0 69.0,455.0 70.0,454.8 71.0,454.5 72.0,453.9 73.0,453.2 74.0,452.5 75.0,451.8 76.0,451.0 77.0,450.1 78.0,449.2 79.0,448.8 80.0,448.0 81.0,447.3 82.0,446.5 83.0,445.6 84.0,444.8 85.0,443.9 86.0,443.0 87.0,442.1 88.0,441.2 89.0,440.2 90.0,439.2 91.0,438.2 92.0,437.0 93.0,435.8 94.0,434.5 95.0,433.1 96.0,431.6 97.0,429.8 98.0,427.9 99.0,425.6 100.0,422.9 101.0,419.5 102.0,415.0 103.0,408.6 104.0,400.4 105.0,391.2 106.0,381.2 107.0,371.3 108.0,362.0 109.0,353.7 110.0,345.6 111.0,338.5 112.0,332.8 113.0,327.8 114.0,323.8 115.0,320.8 116.0,318.6 117.0,316.9 118.0,315.6 119.0,314.6 120.0,313.7 121.0,313.2 122.0,313.1 123.0,313.2 124.0,313.5 125.0,313.8 126.0,314.0 127.0,314.1 128.0,313.9 129.0,312.8 130.0,311.0 131.0,308.7 132.0,306.4 133.0,304.0 134.0,301.9 135.0,299.8 136.0,297.8 137.0,295.9 138.0,294.1 139.0,292.8 140.0,292.0 141.0,291.8 142.0,292.3 143.0,293.4 144.0,295.4 145.0,297.8 146.0,300.2 147.0,302.4 148.0,304.3 149.0,306.1 150.0,307.8 151.0,309.4 152.0,310.9 153.0,312.4 154.0,313.7 155.0,315.1 156.0,316.2 157.0,316.9 158.0,317.1 159.0,317.1 160.0,317.1 161.0,317.1 162.0,316.9 163.0,316.7 164.0,316.1 165.0,315.0 166.0,313.5 167.0,312.2 168.0,311.0 169.0,309.9 170.0,309.2 171.0,309.4 172.0,310.7 173.0,312.6 174.0,314.9 175.0,317.5 176.0,320.6 177.0,324.0 178.0,328.2 179.0,334.7 180.0,343.5 181.0,349.2 182.0,353.9 183.0,357.7 184.0,360.2 185.0,362.4 186.0,364.6 187.0,366.5 188.0,368.0 189.0,369.4 190.0,370.7 191.0,372.0 192.0,373.2 193.0,374.3 194.0,375.4 195.0,376.4 196.0,377.4 197.0,378.5 198.0,379.6 199.0,380.6 200.0,381.7 201.0,382.8 202.0,383.9 203.0,384.9 204.0,386.0 205.0,387.0 206.0,387.9 207.0,388.8 208.0,389.7 209.0,390.5 210.0,391.3 211.0,392.0 212.0,392.7 213.0,393.3 214.0,393.9 215.0,394.6 216.0,395.2 217.0,395.8 218.0,396.5 219.0,397.1 220.0,397.8 221.0,398.5 222.0,399.2 223.0,400.0 224.0,400.7 225.0,401.5 226.0,402.2 227.0,403.0 228.0,403.7 229.0,404.5 230.0,405.2 231.0,406.0 232.0,406.7 233.0,407.4 234.0,408.1 235.0,408.8 236.0,409.5 237.0,410.1 238.0,410.7 239.0,411.3 240.0,411.8 241.0,412.3 242.0,412.7 243.0,413.2 244.0,413.6 245.0,414.0 246.0,414.4 247.0,414.8 248.0,415.2 249.0,415.5 250.0,415.9 251.0,416.3 252.0,416.7 253.0,417.1 254.0,417.5 255.0,418.0 256.0,418.4 257.0,418.9 258.0,419.4 259.0,419.9 260.0,420.4 261.0,421.0 262.0,421.5 263.0,422.1 264.0,422.7 265.0,423.3 266.0,423.9 267.0,424.5 268.0,425.1 269.0,425.8 270.0,426.4 271.0,427.0 272.0,427.6 273.0,428.2 274.0,428.8 275.0,429.3 276.0,429.9 277.0,430.5 278.0,431.1 279.0,431.7 280.0,432.4 281.0,433.0 282.0,433.6 283.0,434.3 284.0,434.9 285.0,435.6 286.0,436.3 287.0,437.0 288.0,437.7 289.0,438.5 290.0,439.2 291.0,440.0 292.0,440.7 293.0,441.5 294.0,442.2 295.0,442.9 296.0,443.6 297.0,444.2 298.0,444.9 299.0,445.5 300.0,446.1 301.0,446.6 302.0,447.1 303.0,447.6 304.0,448.1 305.0,448.6 306.0,449.0 307.0,449.4 308.0,449.8 309.0,450.2 310.0,450.5 311.0,450.8 312.0,451.1 313.0,451.3 314.0,451.6 315.0,451.8 316.0,452.0 317.0,452.1 318.0,452.3 319.0,452.5 320.0,452.6 321.0,452.7 322.0,452.9 323.0,453.0 324.0,453.1 325.0,453.3 326.0,453.4 327.0,453.5 328.0,453.6 329.0,453.7 330.0,453.8 331.0,453.9 332.0,454.0 333.0,454.0 334.0,454.1 335.0,454.2 336.0,454.3 337.0,454.4 338.0,454.4 339.0,454.5 340.0,454.5 341.0,454.6 342.0,454.7 343.0,454.7 344.0,454.8 345.0,454.8 346.0,454.9 347.0,455.0 348.0,455.0 349.0,455.1 350.0,455.1 351.0,455.2 352.0,455.2 353.0,455.3 354.0,455.3 355.0,455.4 356.0,455.4 357.0,455.5 358.0,455.5 359.0,455.6 360.0,455.6 361.0,455.7 362.0,455.7" fill="none" stroke="#8d5a4a" stroke-width="1.5" stroke-linejoin="round" stroke-linecap="round"/>
<path d="M42.0,455.0 43.0,455.0 44.0,455.0 45.0,455.0 46.0,455.0 47.0,455.1 48.0,455.1 49.0,455.1 50.0,455.1 51.0,455.1 52.0,455.1 53.0,455.1 54.0,455.1 55.0,455.1 56.0,455.1 57.0,455.2 58.0,455.2 59.0,455.2 60.0,455.2 61.0,455.2 62.0,455.2 63.0,455.2 64.0,455.2 65.0,455.1 66.0,455.1 67.0,455.1 68.0,455.1 69.0,455.1 70.0,455.0 71.0,454.6 72.0,454.1 73.0,453.5 74.0,452.9 75.0,452.3 76.0,451.5 77.0,450.7 78.0,449.9 79.0,449.6 80.0,449.0 81.0,448.3 82.0,447.6 83.0,446.9 84.0,446.1 85.0,445.3 86.0,444.5 87.0,443.7 88.0,442.8 89.0,441.9 90.0,440.9 91.0,439.8 92.0,438.7 93.0,437.5 94.0,436.3 95.0,434.9 96.0,433.4 97.0,431.7 98.0,429.8 99.0,427.5 100.0,424.8 101.0,421.5 102.0,417.0 103.0,410.6 104.0,402.6 105.0,393.4 106.0,383.3 107.0,373.2 108.0,363.2 109.0,354.5 110.0,346.2 111.0,339.2 112.0,333.5 113.0,328.6 114.0,324.8 115.0,321.9 116.0,319.7 117.0,318.0 118.0,316.7 119.0,315.6 120.0,314.6 121.0,313.9 122.0,313.6 123.0,313.7 124.0,313.9 125.0,314.2 126.0,314.5 127.0,314.7 128.0,314.6 129.0,313.6 130.0,311.9 131.0,309.7 132.0,307.4 133.0,305.2 134.0,303.2 135.0,301.3 136.0,299.3 137.0,297.4 138.0,295.6 139.0,294.2 140.0,293.2 141.0,292.9 142.0,293.1 143.0,294.2 144.0,296.1 145.0,298.4 146.0,300.8 147.0,303.0 148.0,304.9 149.0,306.7 150.0,308.5 151.0,310.2 152.0,311.8 153.0,313.3 154.0,314.8 155.0,316.3 156.0,317.7 157.0,318.5 158.0,318.6 159.0,318.6 160.0,318.6 161.0,318.6 162.0,318.5 163.0,318.4 164.0,317.8 165.0,316.8 166.0,315.3 167.0,314.0 168.0,312.9 169.0,311.7 170.0,310.8 171.0,310.9 172.0,312.1 173.0,314.0 174.0,316.1 175.0,318.5 176.0,321.3 177.0,324.6 178.0,328.7 179.0,335.5 180.0,345.0 181.0,351.1 182.0,356.0 183.0,360.0 184.0,362.4 185.0,364.4 186.0,366.3 187.0,367.9 188.0,369.3 189.0,370.6 190.0,372.0 191.0,373.2 192.0,374.4 193.0,375.6 194.0,376.7 195.0,377.7 196.0,378.8 197.0,379.9 198.0,380.9 199.0,382.0 200.0,383.1 201.0,384.2 202.0,385.2 203.0,386.3 204.0,387.3 205.0,388.3 206.0,389.3 207.0,390.2 208.0,391.1 209.0,391.9 210.0,392.7 211.0,393.4 212.0,394.2 213.0,394.8 214.0,395.5 215.0,396.2 216.0,396.8 217.0,397.5 218.0,398.2 219.0,398.9 220.0,399.6 221.0,400.3 222.0,401.0 223.0,401.8 224.0,402.6 225.0,403.4 226.0,404.1 227.0,404.9 228.0,405.7 229.0,406.4 230.0,407.1 231.0,407.8 232.0,408.5 233.0,409.1 234.0,409.8 235.0,410.4 236.0,411.0 237.0,411.6 238.0,412.2 239.0,412.7 240.0,413.2 241.0,413.7 242.0,414.1 243.0,414.6 244.0,415.0 245.0,415.5 246.0,415.9 247.0,416.3 248.0,416.7 249.0,417.0 250.0,417.4 251.0,417.8 252.0,418.2 253.0,418.6 254.0,419.0 255.0,419.4 256.0,419.8 257.0,420.2 258.0,420.7 259.0,421.2 260.0,421.7 261.0,422.2 262.0,422.8 263.0,423.4 264.0,423.9 265.0,424.5 266.0,425.2 267.0,425.8 268.0,426.4 269.0,427.0 270.0,427.6 271.0,428.3 272.0,428.9 273.0,429.5 274.0,430.1 275.0,430.7 276.0,431.3 277.0,431.9 278.0,432.5 279.0,433.1 280.0,433.7 281.0,434.3 282.0,434.9 283.0,435.5 284.0,436.2 285.0,436.8 286.0,437.5 287.0,438.1 288.0,438.8 289.0,439.5 290.0,440.2 291.0,440.9 292.0,441.6 293.0,442.3 294.0,443.0 295.0,443.7 296.0,444.4 297.0,445.0 298.0,445.6 299.0,446.2 300.0,446.8 301.0,447.3 302.0,447.8 303.0,448.2 304.0,448.6 305.0,449.1 306.0,449.5 307.0,449.9 308.0,450.2 309.0,450.6 310.0,450.9 311.0,451.2 312.0,451.5 313.0,451.7 314.0,452.0 315.0,452.2 316.0,452.4 317.0,452.5 318.0,452.7 319.0,452.8 320.0,453.0 321.0,453.1 322.0,453.2 323.0,453.3 324.0,453.4 325.0,453.6 326.0,453.7 327.0,453.8 328.0,453.9 329.0,454.0 330.0,454.0 331.0,454.1 332.0,454.2 333.0,454.3 334.0,454.4 335.0,454.4 336.0,454.5 337.0,454.6 338.0,454.6 339.0,454.7 340.0,454.7 341.0,454.8 342.0,454.9 343.0,454.9 344.0,455.0 345.0,455.0 346.0,455.1 347.0,455.1 348.0,455.2 349.0,455.2 350.0,455.3 351.0,455.3 352.0,455.4 353.0,455.4 354.0,455.5 355.0,455.5 356.0,455.5 357.0,455.6 358.0,455.6 359.0,455.7 360.0,455.7 361.0,455.7 362.0,455.8" fill="none" stroke="#f0690f" stroke-width="1.5" stroke-linejoin="round" stroke-linecap="round"/>
<path d="M42.0,455.0 43.0,455.1 44.0,455.1 45.0,455.1 46.0,455.1 47.0,455.1 48.0,455.2 49.0,455.2 50.0,455.2 51.0,455.2 52.0,455.2 53.0,455.2 54.0,455.2 55.0,455.2 56.0,455.2 57.0,455.2 58.0,455.3 59.0,455.3 60.0,455.3 61.0,455.3 62.0,455.3 63.0,455.3 64.0,455.3 65.0,455.2 66.0,455.2 67.0,455.2 68.0,455.2 69.0,455.2 70.0,455.1 71.0,454.8 72.0,454.3 73.0,453.8 74.0,453.3 75.0,452.7 76.0,452.0 77.0,451.3 78.0,450.6 79.0,450.5 80.0,450.0 81.0,449.4 82.0,448.8 83.0,448.2 84.0,447.5 85.0,446.8 86.0,446.0 87.0,445.2 88.0,444.4 89.0,443.5 90.0,442.5 91.0,441.5 92.0,440.4 93.0,439.2 94.0,438.0 95.0,436.6 96.0,435.2 97.0,433.5 98.0,431.6 99.0,429.4 100.0,426.8 101.0,423.4 102.0,419.1 103.0,412.6 104.0,404.8 105.0,395.7 106.0,385.5 107.0,375.1 108.0,364.5 109.0,355.3 110.0,346.8 111.0,339.8 112.0,334.2 113.0,329.4 114.0,325.7 115.0,323.0 116.0,320.8 117.0,319.1 118.0,317.7 119.0,316.5 120.0,315.5 121.0,314.7 122.0,314.2 123.0,314.1 124.0,314.3 125.0,314.7 126.0,315.1 127.0,315.4 128.0,315.3 129.0,314.4 130.0,312.8 131.0,310.7 132.0,308.4 133.0,306.3 134.0,304.5 135.0,302.7 136.0,300.8 137.0,298.9 138.0,297.1 139.0,295.6 140.0,294.5 141.0,293.9 142.0,294.0 143.0,295.0 144.0,296.8 145.0,299.0 146.0,301.4 147.0,303.7 148.0,305.6 149.0,307.4 150.0,309.2 151.0,311.0 152.0,312.7 153.0,314.3 154.0,315.8 155.0,317.6 156.0,319.1 157.0,320.0 158.0,320.1 159.0,320.1 160.0,320.1 161.0,320.1 162.0,320.1 163.0,320.0 164.0,319.6 165.0,318.5 166.0,317.1 167.0,315.9 168.0,314.7 169.0,313.4 170.0,312.5 171.0,312.5 172.0,313.5 173.0,315.3 174.0,317.3 175.0,319.5 176.0,322.0 177.0,325.2 178.0,329.2 179.0,336.2 180.0,346.6 181.0,353.0 182.0,358.1 183.0,362.3 184.0,364.6 185.0,366.5 186.0,368.0 187.0,369.4 188.0,370.6 189.0,371.9 190.0,373.2 191.0,374.5 192.0,375.7 193.0,376.9 194.0,378.0 195.0,379.1 196.0,380.2 197.0,381.3 198.0,382.3 199.0,383.4 200.0,384.5 201.0,385.5 202.0,386.6 203.0,387.6 204.0,388.6 205.0,389.6 206.0,390.6 207.0,391.5 208.0,392.4 209.0,393.3 210.0,394.1 211.0,394.9 212.0,395.7 213.0,396.4 214.0,397.1 215.0,397.8 216.0,398.5 217.0,399.2 218.0,399.9 219.0,400.6 220.0,401.3 221.0,402.1 222.0,402.9 223.0,403.6 224.0,404.4 225.0,405.2 226.0,406.0 227.0,406.8 228.0,407.6 229.0,408.3 230.0,409.0 231.0,409.7 232.0,410.3 233.0,410.9 234.0,411.5 235.0,412.0 236.0,412.6 237.0,413.1 238.0,413.6 239.0,414.1 240.0,414.6 241.0,415.1 242.0,415.6 243.0,416.0 244.0,416.5 245.0,416.9 246.0,417.4 247.0,417.8 248.0,418.2 249.0,418.6 250.0,418.9 251.0,419.3 252.0,419.7 253.0,420.0 254.0,420.4 255.0,420.8 256.0,421.2 257.0,421.6 258.0,422.0 259.0,422.5 260.0,423.0 261.0,423.5 262.0,424.0 263.0,424.6 264.0,425.2 265.0,425.8 266.0,426.4 267.0,427.0 268.0,427.6 269.0,428.3 270.0,428.9 271.0,429.5 272.0,430.2 273.0,430.8 274.0,431.4 275.0,432.0 276.0,432.6 277.0,433.2 278.0,433.8 279.0,434.4 280.0,435.0 281.0,435.6 282.0,436.2 283.0,436.8 284.0,437.4 285.0,438.0 286.0,438.7 287.0,439.3 288.0,439.9 289.0,440.5 290.0,441.2 291.0,441.8 292.0,442.5 293.0,443.2 294.0,443.8 295.0,444.5 296.0,445.1 297.0,445.7 298.0,446.3 299.0,446.9 300.0,447.4 301.0,447.9 302.0,448.4 303.0,448.8 304.0,449.2 305.0,449.6 306.0,450.0 307.0,450.3 308.0,450.7 309.0,451.0 310.0,451.4 311.0,451.6 312.0,451.9 313.0,452.2 314.0,452.4 315.0,452.6 316.0,452.8 317.0,452.9 318.0,453.0 319.0,453.2 320.0,453.3 321.0,453.4 322.0,453.5 323.0,453.7 324.0,453.8 325.0,453.9 326.0,454.0 327.0,454.1 328.0,454.1 329.0,454.2 330.0,454.3 331.0,454.4 332.0,454.5 333.0,454.5 334.0,454.6 335.0,454.7 336.0,454.7 337.0,454.8 338.0,454.8 339.0,454.9 340.0,454.9 341.0,455.0 342.0,455.0 343.0,455.1 344.0,455.1 345.0,455.2 346.0,455.2 347.0,455.3 348.0,455.3 349.0,455.4 350.0,455.4 351.0,455.5 352.0,455.5 353.0,455.5 354.0,455.6 355.0,455.6 356.0,455.6 357.0,455.7 358.0,455.7 359.0,455.7 360.0,455.7 361.0,455.8 362.0,455.8" fill="none" stroke="#1bb9cc" stroke-width="1.2" stroke-linejoin="round" stroke-linecap="round"/>
<path d="M42.0,455.1 43.0,455.1 44.0,455.1 45.0,455.2 46.0,455.2 47.0,455.2 48.0,455.2 49.0,455.3 50.0,455.3 51.0,455.3 52.0,455.3 53.0,455.3 54.0,455.3 55.0,455.3 56.0,455.3 57.0,455.3 58.0,455.3 59.0,455.4 60.0,455.4 61.0,455.4 62.0,455.4 63.0,455.4 64.0,455.4 65.0,455.3 66.0,455.3 67.0,455.3 68.0,455.3 69.0,455.3 70.0,455.2 71.0,454.9 72.0,454.5 73.0,454.1 74.0,453.6 75.0,453.1 76.0,452.5 77.0,451.9 78.0,451.2 79.0,451.2 80.0,450.7 81.0,450.3 82.0,449.7 83.0,449.2 84.0,448.6 85.0,447.9 86.0,447.2 87.0,446.5 88.0,445.8 89.0,444.9 90.0,444.0 91.0,443.1 92.0,442.1 93.0,441.0 94.0,439.8 95.0,438.5 96.0,437.1 97.0,435.5 98.0,433.7 99.0,431.5 100.0,429.0 101.0,425.7 102.0,421.4 103.0,414.9 104.0,407.3 105.0,398.3 106.0,388.4 107.0,378.1 108.0,367.3 109.0,357.8 110.0,349.1 111.0,341.9 112.0,336.2 113.0,331.4 114.0,327.8 115.0,325.1 116.0,322.9 117.0,321.1 118.0,319.7 119.0,318.5 120.0,317.4 121.0,316.5 122.0,316.0 123.0,315.8 124.0,316.0 125.0,316.3 126.0,316.6 127.0,316.9 128.0,316.8 129.0,315.9 130.0,314.4 131.0,312.5 132.0,310.3 133.0,308.2 134.0,306.4 135.0,304.5 136.0,302.6 137.0,300.7 138.0,298.9 139.0,297.3 140.0,296.1 141.0,295.5 142.0,295.7 143.0,296.8 144.0,298.6 145.0,300.8 146.0,303.2 147.0,305.4 148.0,307.4 149.0,309.2 150.0,311.0 151.0,312.8 152.0,314.5 153.0,316.1 154.0,317.6 155.0,319.3 156.0,320.8 157.0,321.7 158.0,321.8 159.0,321.8 160.0,321.8 161.0,321.9 162.0,321.9 163.0,321.9 164.0,321.4 165.0,320.3 166.0,318.9 167.0,317.7 168.0,316.4 169.0,315.1 170.0,314.2 171.0,314.1 172.0,315.2 173.0,316.9 174.0,318.9 175.0,321.0 176.0,323.5 177.0,326.6 178.0,330.6 179.0,337.3 180.0,347.3 181.0,353.6 182.0,358.8 183.0,363.3 184.0,365.9 185.0,367.9 186.0,369.6 187.0,371.0 188.0,372.4 189.0,373.7 190.0,375.1 191.0,376.4 192.0,377.7 193.0,378.9 194.0,380.1 195.0,381.2 196.0,382.3 197.0,383.5 198.0,384.6 199.0,385.6 200.0,386.7 201.0,387.8 202.0,388.8 203.0,389.8 204.0,390.8 205.0,391.8 206.0,392.7 207.0,393.6 208.0,394.5 209.0,395.4 210.0,396.2 211.0,396.9 212.0,397.7 213.0,398.4 214.0,399.1 215.0,399.8 216.0,400.5 217.0,401.2 218.0,401.9 219.0,402.5 220.0,403.3 221.0,404.0 222.0,404.7 223.0,405.5 224.0,406.2 225.0,407.0 226.0,407.7 227.0,408.5 228.0,409.2 229.0,409.9 230.0,410.6 231.0,411.2 232.0,411.8 233.0,412.3 234.0,412.9 235.0,413.4 236.0,413.9 237.0,414.4 238.0,414.9 239.0,415.4 240.0,415.8 241.0,416.3 242.0,416.7 243.0,417.2 244.0,417.6 245.0,418.0 246.0,418.5 247.0,418.9 248.0,419.3 249.0,419.7 250.0,420.1 251.0,420.4 252.0,420.8 253.0,421.2 254.0,421.5 255.0,421.9 256.0,422.3 257.0,422.7 258.0,423.1 259.0,423.6 260.0,424.1 261.0,424.6 262.0,425.1 263.0,425.6 264.0,426.2 265.0,426.8 266.0,427.4 267.0,428.0 268.0,428.6 269.0,429.2 270.0,429.9 271.0,430.5 272.0,431.1 273.0,431.7 274.0,432.3 275.0,432.9 276.0,433.5 277.0,434.1 278.0,434.7 279.0,435.3 280.0,435.9 281.0,436.5 282.0,437.1 283.0,437.7 284.0,438.3 285.0,438.8 286.0,439.4 287.0,440.0 288.0,440.6 289.0,441.2 290.0,441.8 291.0,442.5 292.0,443.1 293.0,443.8 294.0,444.4 295.0,445.1 296.0,445.7 297.0,446.3 298.0,446.9 299.0,447.4 300.0,448.0 301.0,448.4 302.0,448.9 303.0,449.2 304.0,449.6 305.0,450.0 306.0,450.4 307.0,450.7 308.0,451.0 309.0,451.4 310.0,451.7 311.0,452.0 312.0,452.2 313.0,452.5 314.0,452.7 315.0,452.9 316.0,453.0 317.0,453.1 318.0,453.3 319.0,453.4 320.0,453.5 321.0,453.6 322.0,453.7 323.0,453.9 324.0,454.0 325.0,454.0 326.0,454.1 327.0,454.2 328.0,454.3 329.0,454.4 330.0,454.5 331.0,454.5 332.0,454.6 333.0,454.7 334.0,454.7 335.0,454.8 336.0,454.8 337.0,454.9 338.0,455.0 339.0,455.0 340.0,455.1 341.0,455.1 342.0,455.2 343.0,455.2 344.0,455.2 345.0,455.3 346.0,455.3 347.0,455.4 348.0,455.4 349.0,455.5 350.0,455.5 351.0,455.5 352.0,455.6 353.0,455.6 354.0,455.6 355.0,455.7 356.0,455.7 357.0,455.7 358.0,455.7 359.0,455.8 360.0,455.8 361.0,455.8 362.0,455.8" fill="none" stroke="#9a9a9a" stroke-width="1.2" stroke-linejoin="round" stroke-linecap="round"/>
<path d="M42.0,455.2 43.0,455.2 44.0,455.2 45.0,455.2 46.0,455.3 47.0,455.3 48.0,455.3 49.0,455.3 50.0,455.4 51.0,455.4 52.0,455.4 53.0,455.4 54.0,455.4 55.0,455.4 56.0,455.4 57.0,455.4 58.0,455.4 59.0,455.4 60.0,455.5 61.0,455.5 62.0,455.5 63.0,455.5 64.0,455.5 65.0,455.4 66.0,455.4 67.0,455.4 68.0,455.4 69.0,455.4 70.0,455.3 71.0,455.1 72.0,454.8 73.0,454.4 74.0,454.0 75.0,453.5 76.0,453.0 77.0,452.5 78.0,451.9 79.0,451.8 80.0,451.4 81.0,451.0 82.0,450.6 83.0,450.0 84.0,449.5 85.0,448.9 86.0,448.3 87.0,447.7 88.0,447.0 89.0,446.3 90.0,445.5 91.0,444.6 92.0,443.7 93.0,442.7 94.0,441.6 95.0,440.5 96.0,439.1 97.0,437.6 98.0,435.8 99.0,433.7 100.0,431.2 101.0,428.0 102.0,423.8 103.0,417.4 104.0,409.9 105.0,401.2 106.0,391.6 107.0,381.4 108.0,370.7 109.0,361.1 110.0,352.0 111.0,344.6 112.0,338.9 113.0,334.0 114.0,330.3 115.0,327.6 116.0,325.4 117.0,323.5 118.0,322.1 119.0,320.9 120.0,319.8 121.0,318.9 122.0,318.2 123.0,318.0 124.0,318.1 125.0,318.3 126.0,318.6 127.0,318.7 128.0,318.6 129.0,317.8 130.0,316.4 131.0,314.6 132.0,312.6 133.0,310.4 134.0,308.5 135.0,306.5 136.0,304.5 137.0,302.6 138.0,300.7 139.0,299.1 140.0,297.9 141.0,297.3 142.0,297.6 143.0,298.9 144.0,300.8 145.0,303.0 146.0,305.4 147.0,307.7 148.0,309.7 149.0,311.6 150.0,313.4 151.0,315.1 152.0,316.7 153.0,318.2 154.0,319.7 155.0,321.2 156.0,322.6 157.0,323.4 158.0,323.6 159.0,323.7 160.0,323.7 161.0,323.8 162.0,323.8 163.0,323.8 164.0,323.3 165.0,322.2 166.0,320.7 167.0,319.4 168.0,318.2 169.0,316.8 170.0,315.8 171.0,315.7 172.0,316.8 173.0,318.7 174.0,320.7 175.0,322.8 176.0,325.4 177.0,328.5 178.0,332.3 179.0,338.6 180.0,347.6 181.0,353.6 182.0,358.8 183.0,363.8 184.0,367.0 185.0,369.2 186.0,371.1 187.0,372.7 188.0,374.2 189.0,375.7 190.0,377.2 191.0,378.6 192.0,379.9 193.0,381.2 194.0,382.4 195.0,383.6 196.0,384.8 197.0,386.0 198.0,387.1 199.0,388.2 200.0,389.3 201.0,390.3 202.0,391.4 203.0,392.4 204.0,393.3 205.0,394.3 206.0,395.2 207.0,396.0 208.0,396.9 209.0,397.7 210.0,398.5 211.0,399.2 212.0,399.9 213.0,400.6 214.0,401.3 215.0,401.9 216.0,402.6 217.0,403.2 218.0,403.9 219.0,404.6 220.0,405.2 221.0,405.9 222.0,406.6 223.0,407.3 224.0,408.0 225.0,408.7 226.0,409.4 227.0,410.1 228.0,410.8 229.0,411.4 230.0,412.0 231.0,412.6 232.0,413.1 233.0,413.7 234.0,414.2 235.0,414.7 236.0,415.1 237.0,415.6 238.0,416.1 239.0,416.5 240.0,416.9 241.0,417.4 242.0,417.8 243.0,418.2 244.0,418.6 245.0,419.0 246.0,419.4 247.0,419.9 248.0,420.2 249.0,420.6 250.0,421.0 251.0,421.4 252.0,421.8 253.0,422.1 254.0,422.5 255.0,422.9 256.0,423.3 257.0,423.7 258.0,424.1 259.0,424.6 260.0,425.0 261.0,425.5 262.0,426.1 263.0,426.6 264.0,427.1 265.0,427.7 266.0,428.3 267.0,428.9 268.0,429.5 269.0,430.1 270.0,430.7 271.0,431.3 272.0,431.9 273.0,432.5 274.0,433.1 275.0,433.7 276.0,434.3 277.0,434.8 278.0,435.4 279.0,436.0 280.0,436.6 281.0,437.2 282.0,437.7 283.0,438.3 284.0,438.9 285.0,439.5 286.0,440.1 287.0,440.6 288.0,441.2 289.0,441.8 290.0,442.4 291.0,443.0 292.0,443.7 293.0,444.3 294.0,444.9 295.0,445.6 296.0,446.2 297.0,446.8 298.0,447.4 299.0,447.9 300.0,448.4 301.0,448.9 302.0,449.3 303.0,449.6 304.0,450.0 305.0,450.4 306.0,450.7 307.0,451.0 308.0,451.4 309.0,451.7 310.0,451.9 311.0,452.2 312.0,452.5 313.0,452.7 314.0,452.9 315.0,453.1 316.0,453.2 317.0,453.3 318.0,453.5 319.0,453.6 320.0,453.7 321.0,453.8 322.0,453.9 323.0,454.0 324.0,454.1 325.0,454.2 326.0,454.3 327.0,454.4 328.0,454.4 329.0,454.5 330.0,454.6 331.0,454.6 332.0,454.7 333.0,454.8 334.0,454.8 335.0,454.9 336.0,454.9 337.0,455.0 338.0,455.0 339.0,455.1 340.0,455.1 341.0,455.2 342.0,455.2 343.0,455.3 344.0,455.3 345.0,455.4 346.0,455.4 347.0,455.4 348.0,455.5 349.0,455.5 350.0,455.6 351.0,455.6 352.0,455.6 353.0,455.7 354.0,455.7 355.0,455.7 356.0,455.7 357.0,455.8 358.0,455.8 359.0,455.8 360.0,455.8 361.0,455.8 362.0,455.8" fill="none" stroke="#c9980e" stroke-width="1.4" stroke-linejoin="round" stroke-linecap="round"/>
<path d="M42.0,455.2 43.0,455.3 44.0,455.3 45.0,455.3 46.0,455.3 47.0,455.4 48.0,455.4 49.0,455.4 50.0,455.4 51.0,455.5 52.0,455.5 53.0,455.5 54.0,455.5 55.0,455.5 56.0,455.5 57.0,455.5 58.0,455.5 59.0,455.5 60.0,455.5 61.0,455.6 62.0,455.6 63.0,455.6 64.0,455.6 65.0,455.5 66.0,455.5 67.0,455.5 68.0,455.5 69.0,455.5 70.0,455.5 71.0,455.3 72.0,455.0 73.0,454.7 74.0,454.3 75.0,454.0 76.0,453.5 77.0,453.1 78.0,452.6 79.0,452.5 80.0,452.2 81.0,451.8 82.0,451.4 83.0,450.9 84.0,450.5 85.0,450.0 86.0,449.4 87.0,448.9 88.0,448.3 89.0,447.6 90.0,446.9 91.0,446.2 92.0,445.3 93.0,444.4 94.0,443.5 95.0,442.4 96.0,441.1 97.0,439.6 98.0,437.9 99.0,435.9 100.0,433.5 101.0,430.3 102.0,426.2 103.0,419.9 104.0,412.5 105.0,404.1 106.0,394.7 107.0,384.8 108.0,374.1 109.0,364.4 110.0,355.0 111.0,347.3 112.0,341.5 113.0,336.6 114.0,332.8 115.0,330.1 116.0,327.8 117.0,326.0 118.0,324.5 119.0,323.3 120.0,322.1 121.0,321.2 122.0,320.5 123.0,320.2 124.0,320.2 125.0,320.4 126.0,320.5 127.0,320.6 128.0,320.4 129.0,319.6 130.0,318.3 131.0,316.7 132.0,314.8 133.0,312.7 134.0,310.6 135.0,308.5 136.0,306.4 137.0,304.4 138.0,302.6 139.0,300.9 140.0,299.7 141.0,299.2 142.0,299.6 143.0,301.0 144.0,303.0 145.0,305.2 146.0,307.6 147.0,310.0 148.0,312.1 149.0,314.0 150.0,315.7 151.0,317.4 152.0,319.0 153.0,320.4 154.0,321.7 155.0,323.1 156.0,324.4 157.0,325.2 158.0,325.4 159.0,325.5 160.0,325.6 161.0,325.7 162.0,325.7 163.0,325.7 164.0,325.2 165.0,324.0 166.0,322.5 167.0,321.2 168.0,319.9 169.0,318.5 170.0,317.5 171.0,317.4 172.0,318.5 173.0,320.4 174.0,322.4 175.0,324.6 176.0,327.2 177.0,330.4 178.0,334.1 179.0,339.9 180.0,347.9 181.0,353.6 182.0,358.8 183.0,364.2 184.0,368.0 185.0,370.5 186.0,372.6 187.0,374.5 188.0,376.1 189.0,377.7 190.0,379.3 191.0,380.7 192.0,382.1 193.0,383.5 194.0,384.8 195.0,386.1 196.0,387.3 197.0,388.5 198.0,389.7 199.0,390.8 200.0,391.9 201.0,392.9 202.0,393.9 203.0,394.9 204.0,395.8 205.0,396.7 206.0,397.6 207.0,398.4 208.0,399.2 209.0,400.0 210.0,400.8 211.0,401.5 212.0,402.1 213.0,402.8 214.0,403.4 215.0,404.1 216.0,404.7 217.0,405.3 218.0,405.9 219.0,406.6 220.0,407.2 221.0,407.8 222.0,408.5 223.0,409.1 224.0,409.8 225.0,410.4 226.0,411.1 227.0,411.7 228.0,412.3 229.0,412.9 230.0,413.5 231.0,414.0 232.0,414.5 233.0,415.0 234.0,415.5 235.0,415.9 236.0,416.4 237.0,416.8 238.0,417.2 239.0,417.6 240.0,418.0 241.0,418.4 242.0,418.8 243.0,419.2 244.0,419.6 245.0,420.0 246.0,420.4 247.0,420.8 248.0,421.2 249.0,421.6 250.0,422.0 251.0,422.3 252.0,422.7 253.0,423.1 254.0,423.5 255.0,423.9 256.0,424.3 257.0,424.7 258.0,425.1 259.0,425.6 260.0,426.0 261.0,426.5 262.0,427.0 263.0,427.6 264.0,428.1 265.0,428.7 266.0,429.2 267.0,429.8 268.0,430.4 269.0,431.0 270.0,431.6 271.0,432.2 272.0,432.7 273.0,433.3 274.0,433.9 275.0,434.4 276.0,435.0 277.0,435.6 278.0,436.1 279.0,436.7 280.0,437.3 281.0,437.8 282.0,438.4 283.0,439.0 284.0,439.5 285.0,440.1 286.0,440.7 287.0,441.2 288.0,441.8 289.0,442.4 290.0,443.0 291.0,443.6 292.0,444.2 293.0,444.8 294.0,445.5 295.0,446.1 296.0,446.7 297.0,447.3 298.0,447.8 299.0,448.3 300.0,448.8 301.0,449.3 302.0,449.7 303.0,450.0 304.0,450.4 305.0,450.7 306.0,451.0 307.0,451.4 308.0,451.7 309.0,451.9 310.0,452.2 311.0,452.5 312.0,452.7 313.0,452.9 314.0,453.1 315.0,453.3 316.0,453.4 317.0,453.5 318.0,453.6 319.0,453.8 320.0,453.9 321.0,454.0 322.0,454.1 323.0,454.1 324.0,454.2 325.0,454.3 326.0,454.4 327.0,454.5 328.0,454.6 329.0,454.6 330.0,454.7 331.0,454.8 332.0,454.8 333.0,454.9 334.0,454.9 335.0,455.0 336.0,455.0 337.0,455.1 338.0,455.1 339.0,455.2 340.0,455.2 341.0,455.3 342.0,455.3 343.0,455.3 344.0,455.4 345.0,455.4 346.0,455.5 347.0,455.5 348.0,455.5 349.0,455.6 350.0,455.6 351.0,455.6 352.0,455.7 353.0,455.7 354.0,455.7 355.0,455.7 356.0,455.8 357.0,455.8 358.0,455.8 359.0,455.8 360.0,455.8 361.0,455.9 362.0,455.9" fill="none" stroke="#f0690f" stroke-width="1.5" stroke-linejoin="round" stroke-linecap="round"/>
<path d="M42.0,455.3 43.0,455.3 44.0,455.4 45.0,455.4 46.0,455.4 47.0,455.4 48.0,455.5 49.0,455.5 50.0,455.5 51.0,455.5 52.0,455.6 53.0,455.6 54.0,455.6 55.0,455.6 56.0,455.6 57.0,455.6 58.0,455.6 59.0,455.6 60.0,455.6 61.0,455.6 62.0,455.7 63.0,455.7 64.0,455.7 65.0,455.6 66.0,455.6 67.0,455.6 68.0,455.6 69.0,455.6 70.0,455.6 71.0,455.4 72.0,455.2 73.0,455.0 74.0,454.7 75.0,454.4 76.0,454.0 77.0,453.7 78.0,453.2 79.0,453.2 80.0,452.9 81.0,452.5 82.0,452.2 83.0,451.8 84.0,451.4 85.0,451.0 86.0,450.5 87.0,450.1 88.0,449.6 89.0,449.0 90.0,448.4 91.0,447.7 92.0,447.0 93.0,446.2 94.0,445.3 95.0,444.3 96.0,443.1 97.0,441.7 98.0,440.0 99.0,438.1 100.0,435.7 101.0,432.7 102.0,428.6 103.0,422.4 104.0,415.1 105.0,407.0 106.0,397.9 107.0,388.1 108.0,377.6 109.0,367.7 110.0,357.9 111.0,350.0 112.0,344.1 113.0,339.1 114.0,335.3 115.0,332.6 116.0,330.3 117.0,328.4 118.0,326.9 119.0,325.6 120.0,324.5 121.0,323.5 122.0,322.8 123.0,322.5 124.0,322.4 125.0,322.4 126.0,322.5 127.0,322.4 128.0,322.1 129.0,321.4 130.0,320.3 131.0,318.8 132.0,317.0 133.0,314.9 134.0,312.7 135.0,310.4 136.0,308.2 137.0,306.3 138.0,304.4 139.0,302.7 140.0,301.5 141.0,301.0 142.0,301.6 143.0,303.1 144.0,305.2 145.0,307.5 146.0,309.8 147.0,312.2 148.0,314.4 149.0,316.3 150.0,318.1 151.0,319.7 152.0,321.2 153.0,322.5 154.0,323.8 155.0,325.1 156.0,326.2 157.0,326.9 158.0,327.2 159.0,327.4 160.0,327.5 161.0,327.6 162.0,327.7 163.0,327.7 164.0,327.2 165.0,325.9 166.0,324.3 167.0,322.9 168.0,321.6 169.0,320.2 170.0,319.1 171.0,319.1 172.0,320.2 173.0,322.1 174.0,324.2 175.0,326.4 176.0,329.1 177.0,332.2 178.0,335.9 179.0,341.2 180.0,348.2 181.0,353.6 182.0,358.8 183.0,364.7 184.0,369.0 185.0,371.7 186.0,374.1 187.0,376.2 188.0,378.0 189.0,379.7 190.0,381.4 191.0,382.9 192.0,384.4 193.0,385.8 194.0,387.2 195.0,388.5 196.0,389.8 197.0,391.0 198.0,392.2 199.0,393.3 200.0,394.4 201.0,395.5 202.0,396.5 203.0,397.4 204.0,398.3 205.0,399.2 206.0,400.0 207.0,400.8 208.0,401.6 209.0,402.3 210.0,403.1 211.0,403.7 212.0,404.4 213.0,405.0 214.0,405.6 215.0,406.2 216.0,406.8 217.0,407.4 218.0,408.0 219.0,408.6 220.0,409.2 221.0,409.8 222.0,410.3 223.0,410.9 224.0,411.5 225.0,412.1 226.0,412.7 227.0,413.3 228.0,413.9 229.0,414.4 230.0,414.9 231.0,415.4 232.0,415.9 233.0,416.3 234.0,416.8 235.0,417.2 236.0,417.6 237.0,418.0 238.0,418.4 239.0,418.8 240.0,419.1 241.0,419.5 242.0,419.9 243.0,420.2 244.0,420.6 245.0,421.0 246.0,421.4 247.0,421.8 248.0,422.2 249.0,422.5 250.0,422.9 251.0,423.3 252.0,423.7 253.0,424.1 254.0,424.5 255.0,424.9 256.0,425.3 257.0,425.7 258.0,426.1 259.0,426.6 260.0,427.0 261.0,427.5 262.0,428.0 263.0,428.5 264.0,429.1 265.0,429.6 266.0,430.1 267.0,430.7 268.0,431.3 269.0,431.8 270.0,432.4 271.0,433.0 272.0,433.6 273.0,434.1 274.0,434.7 275.0,435.2 276.0,435.8 277.0,436.3 278.0,436.9 279.0,437.4 280.0,438.0 281.0,438.5 282.0,439.1 283.0,439.6 284.0,440.2 285.0,440.7 286.0,441.3 287.0,441.8 288.0,442.4 289.0,442.9 290.0,443.5 291.0,444.1 292.0,444.7 293.0,445.4 294.0,446.0 295.0,446.6 296.0,447.2 297.0,447.7 298.0,448.3 299.0,448.8 300.0,449.3 301.0,449.7 302.0,450.1 303.0,450.4 304.0,450.7 305.0,451.1 306.0,451.4 307.0,451.7 308.0,452.0 309.0,452.2 310.0,452.5 311.0,452.7 312.0,452.9 313.0,453.1 314.0,453.3 315.0,453.5 316.0,453.6 317.0,453.7 318.0,453.8 319.0,453.9 320.0,454.0 321.0,454.1 322.0,454.2 323.0,454.3 324.0,454.4 325.0,454.5 326.0,454.5 327.0,454.6 328.0,454.7 329.0,454.7 330.0,454.8 331.0,454.9 332.0,454.9 333.0,455.0 334.0,455.0 335.0,455.1 336.0,455.1 337.0,455.2 338.0,455.2 339.0,455.3 340.0,455.3 341.0,455.3 342.0,455.4 343.0,455.4 344.0,455.5 345.0,455.5 346.0,455.5 347.0,455.6 348.0,455.6 349.0,455.6 350.0,455.7 351.0,455.7 352.0,455.7 353.0,455.7 354.0,455.8 355.0,455.8 356.0,455.8 357.0,455.8 358.0,455.8 359.0,455.9 360.0,455.9 361.0,455.9 362.0,455.9" fill="none" stroke="#d98fc0" stroke-width="1.1" stroke-linejoin="round" stroke-linecap="round"/>
<path d="M42.0,455.3 43.0,455.4 44.0,455.4 45.0,455.5 46.0,455.5 47.0,455.5 48.0,455.6 49.0,455.6 50.0,455.6 51.0,455.6 52.0,455.6 53.0,455.7 54.0,455.7 55.0,455.7 56.0,455.7 57.0,455.7 58.0,455.7 59.0,455.7 60.0,455.7 61.0,455.7 62.0,455.7 63.0,455.8 64.0,455.8 65.0,455.7 66.0,455.7 67.0,455.7 68.0,455.7 69.0,455.7 70.0,455.7 71.0,455.6 72.0,455.4 73.0,455.2 74.0,455.0 75.0,454.8 76.0,454.5 77.0,454.2 78.0,453.9 79.0,453.8 80.0,453.6 81.0,453.3 82.0,453.0 83.0,452.7 84.0,452.4 85.0,452.0 86.0,451.7 87.0,451.3 88.0,450.8 89.0,450.4 90.0,449.8 91.0,449.3 92.0,448.6 93.0,447.9 94.0,447.2 95.0,446.2 96.0,445.1 97.0,443.7 98.0,442.1 99.0,440.3 100.0,438.0 101.0,435.0 102.0,431.0 103.0,424.9 104.0,417.7 105.0,409.8 106.0,401.1 107.0,391.5 108.0,381.0 109.0,370.9 110.0,360.8 111.0,352.8 112.0,346.7 113.0,341.7 114.0,337.9 115.0,335.0 116.0,332.7 117.0,330.8 118.0,329.3 119.0,328.0 120.0,326.8 121.0,325.8 122.0,325.1 123.0,324.7 124.0,324.5 125.0,324.5 126.0,324.4 127.0,324.3 128.0,323.9 129.0,323.3 130.0,322.2 131.0,321.0 132.0,319.3 133.0,317.1 134.0,314.8 135.0,312.4 136.0,310.1 137.0,308.2 138.0,306.3 139.0,304.6 140.0,303.3 141.0,302.9 142.0,303.6 143.0,305.2 144.0,307.4 145.0,309.7 146.0,312.0 147.0,314.5 148.0,316.7 149.0,318.7 150.0,320.4 151.0,322.0 152.0,323.4 153.0,324.7 154.0,325.8 155.0,327.0 156.0,328.0 157.0,328.7 158.0,329.0 159.0,329.2 160.0,329.4 161.0,329.5 162.0,329.6 163.0,329.6 164.0,329.1 165.0,327.8 166.0,326.1 167.0,324.7 168.0,323.3 169.0,321.8 170.0,320.8 171.0,320.7 172.0,321.9 173.0,323.8 174.0,325.9 175.0,328.2 176.0,330.9 177.0,334.1 178.0,337.7 179.0,342.4 180.0,348.5 181.0,353.6 182.0,358.8 183.0,365.1 184.0,370.0 185.0,373.0 186.0,375.6 187.0,377.9 188.0,379.9 189.0,381.8 190.0,383.5 191.0,385.1 192.0,386.6 193.0,388.1 194.0,389.6 195.0,391.0 196.0,392.3 197.0,393.5 198.0,394.8 199.0,395.9 200.0,397.0 201.0,398.1 202.0,399.0 203.0,400.0 204.0,400.8 205.0,401.7 206.0,402.5 207.0,403.3 208.0,404.0 209.0,404.7 210.0,405.3 211.0,406.0 212.0,406.6 213.0,407.2 214.0,407.8 215.0,408.3 216.0,408.9 217.0,409.5 218.0,410.0 219.0,410.6 220.0,411.1 221.0,411.7 222.0,412.2 223.0,412.8 224.0,413.3 225.0,413.8 226.0,414.4 227.0,414.9 228.0,415.4 229.0,415.9 230.0,416.4 231.0,416.8 232.0,417.2 233.0,417.7 234.0,418.1 235.0,418.4 236.0,418.8 237.0,419.2 238.0,419.5 239.0,419.9 240.0,420.2 241.0,420.6 242.0,420.9 243.0,421.3 244.0,421.6 245.0,422.0 246.0,422.4 247.0,422.7 248.0,423.1 249.0,423.5 250.0,423.9 251.0,424.3 252.0,424.7 253.0,425.1 254.0,425.5 255.0,425.9 256.0,426.3 257.0,426.7 258.0,427.1 259.0,427.6 260.0,428.0 261.0,428.5 262.0,429.0 263.0,429.5 264.0,430.0 265.0,430.5 266.0,431.1 267.0,431.6 268.0,432.2 269.0,432.7 270.0,433.3 271.0,433.8 272.0,434.4 273.0,434.9 274.0,435.4 275.0,436.0 276.0,436.5 277.0,437.1 278.0,437.6 279.0,438.1 280.0,438.7 281.0,439.2 282.0,439.7 283.0,440.3 284.0,440.8 285.0,441.4 286.0,441.9 287.0,442.4 288.0,443.0 289.0,443.5 290.0,444.1 291.0,444.7 292.0,445.3 293.0,445.9 294.0,446.5 295.0,447.1 296.0,447.7 297.0,448.2 298.0,448.8 299.0,449.3 300.0,449.7 301.0,450.1 302.0,450.5 303.0,450.8 304.0,451.1 305.0,451.4 306.0,451.7 307.0,452.0 308.0,452.3 309.0,452.5 310.0,452.8 311.0,453.0 312.0,453.2 313.0,453.4 314.0,453.5 315.0,453.7 316.0,453.8 317.0,453.9 318.0,454.0 319.0,454.1 320.0,454.2 321.0,454.3 322.0,454.4 323.0,454.4 324.0,454.5 325.0,454.6 326.0,454.7 327.0,454.7 328.0,454.8 329.0,454.9 330.0,454.9 331.0,455.0 332.0,455.0 333.0,455.1 334.0,455.1 335.0,455.2 336.0,455.2 337.0,455.3 338.0,455.3 339.0,455.3 340.0,455.4 341.0,455.4 342.0,455.5 343.0,455.5 344.0,455.5 345.0,455.6 346.0,455.6 347.0,455.6 348.0,455.6 349.0,455.7 350.0,455.7 351.0,455.7 352.0,455.8 353.0,455.8 354.0,455.8 355.0,455.8 356.0,455.8 357.0,455.9 358.0,455.9 359.0,455.9 360.0,455.9 361.0,455.9 362.0,455.9" fill="none" stroke="#a7a51f" stroke-width="1.4" stroke-linejoin="round" stroke-linecap="round"/>
<path d="M42.0,455.4 43.0,455.5 44.0,455.5 45.0,455.5 46.0,455.6 47.0,455.6 48.0,455.6 49.0,455.7 50.0,455.7 51.0,455.7 52.0,455.7 53.0,455.8 54.0,455.8 55.0,455.8 56.0,455.8 57.0,455.8 58.0,455.8 59.0,455.8 60.0,455.9 61.0,455.9 62.0,455.9 63.0,455.9 64.0,455.9 65.0,455.9 66.0,455.9 67.0,455.9 68.0,455.9 69.0,455.9 70.0,455.8 71.0,455.8 72.0,455.7 73.0,455.6 74.0,455.4 75.0,455.3 76.0,455.1 77.0,454.9 78.0,454.7 79.0,454.6 80.0,454.4 81.0,454.2 82.0,453.9 83.0,453.7 84.0,453.5 85.0,453.2 86.0,452.9 87.0,452.6 88.0,452.3 89.0,451.9 90.0,451.5 91.0,451.0 92.0,450.5 93.0,449.9 94.0,449.3 95.0,448.4 96.0,447.4 97.0,446.1 98.0,444.5 99.0,442.8 100.0,440.6 101.0,437.7 102.0,433.8 103.0,427.7 104.0,420.7 105.0,413.1 106.0,404.7 107.0,395.3 108.0,384.9 109.0,374.7 110.0,364.2 111.0,355.8 112.0,349.7 113.0,344.7 114.0,340.7 115.0,337.9 116.0,335.5 117.0,333.6 118.0,332.1 119.0,330.7 120.0,329.5 121.0,328.5 122.0,327.7 123.0,327.2 124.0,326.9 125.0,326.8 126.0,326.6 127.0,326.4 128.0,326.0 129.0,325.3 130.0,324.5 131.0,323.4 132.0,321.8 133.0,319.6 134.0,317.2 135.0,314.6 136.0,312.3 137.0,310.3 138.0,308.4 139.0,306.6 140.0,305.4 141.0,305.0 142.0,305.8 143.0,307.7 144.0,310.0 145.0,312.2 146.0,314.6 147.0,317.0 148.0,319.4 149.0,321.4 150.0,323.1 151.0,324.6 152.0,326.0 153.0,327.2 154.0,328.2 155.0,329.2 156.0,330.0 157.0,330.7 158.0,331.1 159.0,331.4 160.0,331.5 161.0,331.7 162.0,331.8 163.0,331.8 164.0,331.3 165.0,329.9 166.0,328.2 167.0,326.7 168.0,325.3 169.0,323.8 170.0,322.7 171.0,322.6 172.0,323.8 173.0,325.8 174.0,327.9 175.0,330.3 176.0,333.1 177.0,336.2 178.0,339.7 179.0,343.9 180.0,348.9 181.0,353.6 182.0,358.8 183.0,365.6 184.0,371.1 185.0,374.4 186.0,377.3 187.0,379.8 188.0,382.1 189.0,384.1 190.0,385.9 191.0,387.6 192.0,389.2 193.0,390.8 194.0,392.3 195.0,393.7 196.0,395.1 197.0,396.4 198.0,397.7 199.0,398.8 200.0,400.0 201.0,401.0 202.0,402.0 203.0,402.9 204.0,403.7 205.0,404.5 206.0,405.3 207.0,406.0 208.0,406.7 209.0,407.3 210.0,408.0 211.0,408.6 212.0,409.2 213.0,409.7 214.0,410.3 215.0,410.8 216.0,411.3 217.0,411.8 218.0,412.4 219.0,412.9 220.0,413.4 221.0,413.9 222.0,414.4 223.0,414.9 224.0,415.3 225.0,415.8 226.0,416.3 227.0,416.7 228.0,417.2 229.0,417.6 230.0,418.0 231.0,418.4 232.0,418.8 233.0,419.2 234.0,419.5 235.0,419.9 236.0,420.2 237.0,420.5 238.0,420.9 239.0,421.2 240.0,421.5 241.0,421.8 242.0,422.1 243.0,422.4 244.0,422.8 245.0,423.1 246.0,423.5 247.0,423.9 248.0,424.2 249.0,424.6 250.0,425.0 251.0,425.4 252.0,425.8 253.0,426.2 254.0,426.6 255.0,427.0 256.0,427.4 257.0,427.8 258.0,428.3 259.0,428.7 260.0,429.2 261.0,429.6 262.0,430.1 263.0,430.6 264.0,431.1 265.0,431.6 266.0,432.1 267.0,432.6 268.0,433.2 269.0,433.7 270.0,434.2 271.0,434.8 272.0,435.3 273.0,435.8 274.0,436.3 275.0,436.9 276.0,437.4 277.0,437.9 278.0,438.4 279.0,438.9 280.0,439.5 281.0,440.0 282.0,440.5 283.0,441.0 284.0,441.6 285.0,442.1 286.0,442.6 287.0,443.1 288.0,443.6 289.0,444.2 290.0,444.7 291.0,445.3 292.0,445.9 293.0,446.5 294.0,447.1 295.0,447.7 296.0,448.2 297.0,448.8 298.0,449.3 299.0,449.8 300.0,450.2 301.0,450.6 302.0,450.9 303.0,451.3 304.0,451.5 305.0,451.8 306.0,452.1 307.0,452.4 308.0,452.6 309.0,452.9 310.0,453.1 311.0,453.3 312.0,453.5 313.0,453.6 314.0,453.8 315.0,453.9 316.0,454.0 317.0,454.1 318.0,454.2 319.0,454.3 320.0,454.4 321.0,454.5 322.0,454.5 323.0,454.6 324.0,454.7 325.0,454.8 326.0,454.8 327.0,454.9 328.0,454.9 329.0,455.0 330.0,455.1 331.0,455.1 332.0,455.2 333.0,455.2 334.0,455.2 335.0,455.3 336.0,455.3 337.0,455.4 338.0,455.4 339.0,455.4 340.0,455.5 341.0,455.5 342.0,455.5 343.0,455.6 344.0,455.6 345.0,455.6 346.0,455.7 347.0,455.7 348.0,455.7 349.0,455.7 350.0,455.8 351.0,455.8 352.0,455.8 353.0,455.8 354.0,455.9 355.0,455.9 356.0,455.9 357.0,455.9 358.0,455.9 359.0,455.9 360.0,455.9 361.0,456.0 362.0,456.0" fill="none" stroke="#5d8fd2" stroke-width="1.5" stroke-linejoin="round" stroke-linecap="round"/>
<path d="M42.0,455.5 43.0,455.6 44.0,455.6 45.0,455.6 46.0,455.7 47.0,455.7 48.0,455.8 49.0,455.8 50.0,455.8 51.0,455.8 52.0,455.9 53.0,455.9 54.0,455.9 55.0,455.9 56.0,455.9 57.0,455.9 58.0,456.0 59.0,456.0 60.0,456.0 61.0,456.0 62.0,456.0 63.0,456.0 64.0,456.0 65.0,456.0 66.0,456.0 67.0,456.0 68.0,456.0 69.0,456.0 70.0,456.0 71.0,456.0 72.0,456.0 73.0,456.0 74.0,455.9 75.0,455.8 76.0,455.8 77.0,455.7 78.0,455.5 79.0,455.4 80.0,455.3 81.0,455.2 82.0,455.0 83.0,454.8 84.0,454.7 85.0,454.5 86.0,454.3 87.0,454.1 88.0,453.9 89.0,453.7 90.0,453.4 91.0,453.0 92.0,452.6 93.0,452.2 94.0,451.6 95.0,450.9 96.0,449.9 97.0,448.7 98.0,447.3 99.0,445.6 100.0,443.5 101.0,440.7 102.0,436.9 103.0,430.9 104.0,424.0 105.0,416.8 106.0,408.8 107.0,399.6 108.0,389.3 109.0,378.9 110.0,368.0 111.0,359.3 112.0,353.1 113.0,348.0 114.0,344.0 115.0,341.1 116.0,338.7 117.0,336.8 118.0,335.1 119.0,333.8 120.0,332.5 121.0,331.5 122.0,330.6 123.0,330.1 124.0,329.7 125.0,329.4 126.0,329.1 127.0,328.8 128.0,328.3 129.0,327.7 130.0,327.0 131.0,326.1 132.0,324.7 133.0,322.5 134.0,319.9 135.0,317.2 136.0,314.7 137.0,312.8 138.0,310.8 139.0,309.0 140.0,307.7 141.0,307.3 142.0,308.4 143.0,310.4 144.0,312.8 145.0,315.1 146.0,317.4 147.0,319.9 148.0,322.4 149.0,324.4 150.0,326.1 151.0,327.6 152.0,328.8 153.0,329.9 154.0,330.8 155.0,331.6 156.0,332.4 157.0,333.0 158.0,333.5 159.0,333.7 160.0,334.0 161.0,334.1 162.0,334.3 163.0,334.3 164.0,333.7 165.0,332.3 166.0,330.5 167.0,328.9 168.0,327.5 169.0,325.9 170.0,324.8 171.0,324.7 172.0,326.0 173.0,328.0 174.0,330.2 175.0,332.6 176.0,335.4 177.0,338.6 178.0,342.0 179.0,345.5 180.0,349.3 181.0,353.6 182.0,358.8 183.0,366.2 184.0,372.4 185.0,376.1 186.0,379.3 187.0,382.0 188.0,384.5 189.0,386.6 190.0,388.6 191.0,390.4 192.0,392.1 193.0,393.8 194.0,395.4 195.0,396.9 196.0,398.3 197.0,399.7 198.0,400.9 199.0,402.1 200.0,403.3 201.0,404.3 202.0,405.3 203.0,406.1 204.0,406.9 205.0,407.7 206.0,408.4 207.0,409.1 208.0,409.7 209.0,410.3 210.0,410.9 211.0,411.5 212.0,412.0 213.0,412.5 214.0,413.0 215.0,413.5 216.0,414.0 217.0,414.5 218.0,415.0 219.0,415.5 220.0,415.9 221.0,416.3 222.0,416.8 223.0,417.2 224.0,417.6 225.0,418.0 226.0,418.4 227.0,418.8 228.0,419.2 229.0,419.5 230.0,419.9 231.0,420.2 232.0,420.6 233.0,420.9 234.0,421.2 235.0,421.5 236.0,421.8 237.0,422.1 238.0,422.3 239.0,422.6 240.0,422.9 241.0,423.2 242.0,423.5 243.0,423.8 244.0,424.1 245.0,424.4 246.0,424.7 247.0,425.1 248.0,425.5 249.0,425.8 250.0,426.2 251.0,426.6 252.0,427.0 253.0,427.4 254.0,427.8 255.0,428.3 256.0,428.7 257.0,429.1 258.0,429.5 259.0,430.0 260.0,430.4 261.0,430.9 262.0,431.4 263.0,431.8 264.0,432.3 265.0,432.8 266.0,433.3 267.0,433.8 268.0,434.3 269.0,434.8 270.0,435.3 271.0,435.8 272.0,436.3 273.0,436.8 274.0,437.3 275.0,437.8 276.0,438.3 277.0,438.9 278.0,439.4 279.0,439.9 280.0,440.4 281.0,440.9 282.0,441.4 283.0,441.9 284.0,442.4 285.0,442.9 286.0,443.4 287.0,443.9 288.0,444.4 289.0,444.9 290.0,445.5 291.0,446.0 292.0,446.6 293.0,447.2 294.0,447.7 295.0,448.3 296.0,448.9 297.0,449.4 298.0,449.9 299.0,450.4 300.0,450.8 301.0,451.2 302.0,451.5 303.0,451.8 304.0,452.0 305.0,452.3 306.0,452.5 307.0,452.8 308.0,453.0 309.0,453.2 310.0,453.4 311.0,453.6 312.0,453.8 313.0,453.9 314.0,454.1 315.0,454.2 316.0,454.3 317.0,454.4 318.0,454.4 319.0,454.5 320.0,454.6 321.0,454.7 322.0,454.7 323.0,454.8 324.0,454.9 325.0,454.9 326.0,455.0 327.0,455.0 328.0,455.1 329.0,455.2 330.0,455.2 331.0,455.2 332.0,455.3 333.0,455.3 334.0,455.4 335.0,455.4 336.0,455.4 337.0,455.5 338.0,455.5 339.0,455.5 340.0,455.6 341.0,455.6 342.0,455.6 343.0,455.7 344.0,455.7 345.0,455.7 346.0,455.7 347.0,455.8 348.0,455.8 349.0,455.8 350.0,455.8 351.0,455.8 352.0,455.9 353.0,455.9 354.0,455.9 355.0,455.9 356.0,455.9 357.0,456.0 358.0,456.0 359.0,456.0 360.0,456.0 361.0,456.0 362.0,456.0" fill="none" stroke="#6a9bd8" stroke-width="1.6" stroke-linejoin="round" stroke-linecap="round"/>
<path d="M374.4,454.8 375.4,454.8 376.4,454.8 377.4,454.7 378.4,454.7 379.4,454.6 380.4,454.5 381.4,454.4 382.4,454.3 383.4,454.1 384.4,454.0 385.4,453.8 386.4,453.7 387.4,453.5 388.4,453.3 389.4,453.1 390.4,452.8 391.4,452.6 392.4,452.4 393.4,452.1 394.4,451.9 395.4,451.6 396.4,451.3 397.4,451.0 398.4,450.7 399.4,450.4 400.4,450.1 401.4,449.8 402.4,449.5 403.4,449.1 404.4,448.7 405.4,448.2 406.4,447.7 407.4,447.1 408.4,446.4 409.4,445.6 410.4,444.7 411.4,443.7 412.4,442.5 413.4,440.7 414.4,438.3 415.4,435.3 416.4,431.8 417.4,427.8 418.4,423.5 419.4,417.9 420.4,410.2 421.4,401.3 422.4,392.0 423.4,383.1 424.4,374.1 425.4,365.0 426.4,357.0 427.4,350.4 428.4,341.9 429.4,328.7 430.4,316.2 431.4,304.2 432.4,291.0 433.4,285.0 434.4,284.2 435.4,283.5 436.4,281.5 437.4,277.7 438.4,274.3 439.4,270.9 440.4,268.7 441.4,268.5 442.4,268.4 443.4,268.3 444.4,268.3 445.4,268.3 446.4,268.4 447.4,268.5 448.4,268.6 449.4,269.4 450.4,271.0 451.4,273.3 452.4,278.0 453.4,284.6 454.4,294.7 455.4,305.0 456.4,314.8 457.4,322.5 458.4,332.6 459.4,340.3 460.4,344.0 461.4,343.6 462.4,343.1 463.4,344.6 464.4,347.0 465.4,350.0 466.4,353.6 467.4,357.7 468.4,362.8 469.4,368.3 470.4,373.6 471.4,378.6 472.4,383.6 473.4,385.0 474.4,384.8 475.4,384.4 476.4,383.8 477.4,380.1 478.4,373.9 479.4,367.4 480.4,360.6 481.4,353.1 482.4,346.0 483.4,339.4 484.4,333.5 485.4,328.5 486.4,326.3 487.4,328.2 488.4,331.4 489.4,336.4 490.4,342.5 491.4,348.9 492.4,355.9 493.4,363.4 494.4,371.6 495.4,376.9 496.4,378.4 497.4,379.4 498.4,381.3 499.4,384.3 500.4,387.7 501.4,390.8 502.4,394.0 503.4,396.9 504.4,399.4 505.4,401.6 506.4,403.5 507.4,404.6 508.4,405.3 509.4,405.9 510.4,406.5 511.4,407.2 512.4,408.2 513.4,409.3 514.4,410.4 515.4,411.3 516.4,411.8 517.4,412.3 518.4,412.7 519.4,412.9 520.4,413.0 521.4,413.0 522.4,413.0 523.4,413.0 524.4,413.0 525.4,412.8 526.4,411.8 527.4,410.5 528.4,409.2 529.4,408.4 530.4,407.8 531.4,407.3 532.4,406.8 533.4,406.4 534.4,406.0 535.4,405.5 536.4,405.2 537.4,404.9 538.4,405.0 539.4,405.8 540.4,407.1 541.4,408.6 542.4,409.9 543.4,410.9 544.4,412.0 545.4,412.8 546.4,413.0 547.4,411.5 548.4,408.8 549.4,405.6 550.4,402.6 551.4,399.3 552.4,395.8 553.4,392.7 554.4,390.2 555.4,387.9 556.4,386.0 557.4,384.7 558.4,383.9 559.4,383.2 560.4,383.0 561.4,383.6 562.4,384.8 563.4,385.9 564.4,386.4 565.4,386.7 566.4,386.9 567.4,387.0 568.4,387.0 569.4,387.0 570.4,387.0 571.4,387.0 572.4,387.2 573.4,387.6 574.4,388.1 575.4,388.5 576.4,388.5 577.4,388.2 578.4,387.9 579.4,387.8 580.4,388.2 581.4,389.4 582.4,390.7 583.4,392.0 584.4,393.4 585.4,395.0 586.4,396.8 587.4,398.8 588.4,401.0 589.4,403.1 590.4,405.1 591.4,407.2 592.4,409.3 593.4,411.3 594.4,413.0 595.4,414.5 596.4,415.8 597.4,417.1 598.4,418.3 599.4,419.5 600.4,420.8 601.4,422.3 602.4,423.7 603.4,424.9 604.4,425.8 605.4,426.1 606.4,425.9 607.4,425.4 608.4,424.7 609.4,424.1 610.4,423.6 611.4,422.9 612.4,422.3 613.4,421.9 614.4,421.7 615.4,422.1 616.4,423.0 617.4,424.1 618.4,425.1 619.4,426.0 620.4,426.9 621.4,427.8 622.4,428.7 623.4,429.4 624.4,429.8 625.4,430.0 626.4,430.2 627.4,430.4 628.4,430.5 629.4,430.6 630.4,430.6 631.4,430.6 632.4,430.6 633.4,430.6 634.4,430.6 635.4,430.6 636.4,430.6 637.4,430.6 638.4,430.6 639.4,430.6 640.4,430.6 641.4,430.6 642.4,430.6 643.4,430.3 644.4,429.3 645.4,428.0 646.4,426.7 647.4,425.5 648.4,424.0 649.4,422.8 650.4,422.4 651.4,423.7 652.4,425.6 653.4,426.9 654.4,426.8 655.4,426.3 656.4,425.7 657.4,424.9 658.4,424.2 659.4,423.5 660.4,422.8 661.4,422.0 662.4,421.2 663.4,420.4 664.4,419.7 665.4,419.1 666.4,418.6 667.4,418.2 668.4,417.9 669.4,417.6 670.4,417.3 671.4,417.0 672.4,416.8 673.4,416.5 674.4,416.3 675.4,416.1 676.4,415.9 677.4,415.7 678.4,415.5 679.4,415.3 680.4,415.1 681.4,414.9 682.4,414.7 683.4,414.5 684.4,414.2 685.4,414.0 686.4,413.7 687.4,413.4 688.4,412.9 689.4,412.3 690.4,411.8 691.4,411.3 692.4,410.9 693.4,410.5 694.4,410.1" fill="none" stroke="#1bb9cc" stroke-width="1.5" stroke-linejoin="round" stroke-linecap="round"/>
<path d="M374.4,454.9 375.4,454.9 376.4,454.9 377.4,454.8 378.4,454.8 379.4,454.7 380.4,454.6 381.4,454.5 382.4,454.4 383.4,454.2 384.4,454.1 385.4,453.9 386.4,453.8 387.4,453.6 388.4,453.4 389.4,453.2 390.4,453.0 391.4,452.7 392.4,452.5 393.4,452.2 394.4,452.0 395.4,451.7 396.4,451.4 397.4,451.2 398.4,450.9 399.4,450.6 400.4,450.3 401.4,450.0 402.4,449.6 403.4,449.3 404.4,448.9 405.4,448.4 406.4,447.9 407.4,447.3 408.4,446.6 409.4,445.8 410.4,444.9 411.4,443.9 412.4,442.8 413.4,441.0 414.4,438.6 415.4,435.7 416.4,432.2 417.4,428.3 418.4,423.9 419.4,418.4 420.4,410.7 421.4,401.9 422.4,392.6 423.4,383.7 424.4,374.7 425.4,365.7 426.4,357.7 427.4,351.0 428.4,342.5 429.4,329.7 430.4,317.5 431.4,305.6 432.4,292.8 433.4,286.6 434.4,285.4 435.4,285.0 436.4,283.8 437.4,280.3 438.4,276.9 439.4,273.1 440.4,270.6 441.4,270.0 442.4,269.5 443.4,269.0 444.4,268.9 445.4,269.1 446.4,270.0 447.4,270.7 448.4,271.5 449.4,272.8 450.4,274.7 451.4,277.2 452.4,281.9 453.4,288.2 454.4,297.9 455.4,307.9 456.4,317.5 457.4,325.1 458.4,334.9 459.4,343.7 460.4,347.5 461.4,347.8 462.4,348.1 463.4,350.0 464.4,352.6 465.4,355.7 466.4,359.4 467.4,363.4 468.4,368.2 469.4,373.4 470.4,378.4 471.4,382.7 472.4,386.9 473.4,387.9 474.4,387.3 475.4,386.3 476.4,385.1 477.4,381.2 478.4,375.1 479.4,368.8 480.4,362.2 481.4,355.0 482.4,348.2 483.4,341.9 484.4,336.3 485.4,331.3 486.4,329.2 487.4,331.1 488.4,334.2 489.4,339.0 490.4,345.0 491.4,351.1 492.4,358.1 493.4,365.4 494.4,373.0 495.4,378.0 496.4,379.6 497.4,380.9 498.4,383.0 499.4,386.0 500.4,389.3 501.4,392.3 502.4,395.2 503.4,398.0 504.4,400.4 505.4,402.5 506.4,404.3 507.4,405.4 508.4,406.3 509.4,407.0 510.4,407.7 511.4,408.4 512.4,409.4 513.4,410.5 514.4,411.5 515.4,412.4 516.4,412.9 517.4,413.4 518.4,413.8 519.4,414.0 520.4,414.2 521.4,414.2 522.4,414.3 523.4,414.3 524.4,414.3 525.4,414.2 526.4,413.4 527.4,412.3 528.4,411.2 529.4,410.6 530.4,410.1 531.4,409.6 532.4,409.3 533.4,408.9 534.4,408.6 535.4,408.3 536.4,408.0 537.4,407.8 538.4,407.9 539.4,408.6 540.4,409.8 541.4,411.1 542.4,412.2 543.4,412.9 544.4,413.7 545.4,414.3 546.4,414.2 547.4,412.7 548.4,410.0 549.4,407.0 550.4,404.1 551.4,401.0 552.4,397.7 553.4,394.8 554.4,392.3 555.4,390.0 556.4,388.1 557.4,386.7 558.4,385.7 559.4,385.0 560.4,384.7 561.4,385.1 562.4,386.1 563.4,387.0 564.4,387.5 565.4,387.8 566.4,388.0 567.4,388.2 568.4,388.3 569.4,388.4 570.4,388.4 571.4,388.5 572.4,388.8 573.4,389.2 574.4,389.7 575.4,390.1 576.4,390.1 577.4,390.0 578.4,389.8 579.4,389.7 580.4,390.2 581.4,391.3 582.4,392.5 583.4,393.7 584.4,395.1 585.4,396.7 586.4,398.4 587.4,400.3 588.4,402.3 589.4,404.3 590.4,406.3 591.4,408.3 592.4,410.3 593.4,412.2 594.4,413.9 595.4,415.4 596.4,416.8 597.4,418.1 598.4,419.3 599.4,420.6 600.4,422.1 601.4,423.7 602.4,425.1 603.4,426.2 604.4,427.0 605.4,427.4 606.4,427.3 607.4,426.9 608.4,426.4 609.4,425.8 610.4,425.4 611.4,424.9 612.4,424.4 613.4,424.0 614.4,423.9 615.4,424.2 616.4,425.0 617.4,426.0 618.4,426.9 619.4,427.6 620.4,428.4 621.4,429.2 622.4,430.0 623.4,430.6 624.4,431.0 625.4,431.2 626.4,431.3 627.4,431.4 628.4,431.5 629.4,431.6 630.4,431.6 631.4,431.6 632.4,431.6 633.4,431.6 634.4,431.6 635.4,431.6 636.4,431.6 637.4,431.6 638.4,431.6 639.4,431.5 640.4,431.5 641.4,431.4 642.4,431.3 643.4,430.9 644.4,429.9 645.4,428.6 646.4,427.3 647.4,426.2 648.4,424.8 649.4,423.7 650.4,423.4 651.4,424.6 652.4,426.6 653.4,428.0 654.4,428.0 655.4,427.6 656.4,427.0 657.4,426.3 658.4,425.6 659.4,425.0 660.4,424.3 661.4,423.5 662.4,422.8 663.4,422.0 664.4,421.3 665.4,420.7 666.4,420.3 667.4,419.9 668.4,419.5 669.4,419.2 670.4,418.9 671.4,418.7 672.4,418.4 673.4,418.1 674.4,417.9 675.4,417.6 676.4,417.4 677.4,417.2 678.4,417.0 679.4,416.8 680.4,416.5 681.4,416.3 682.4,416.0 683.4,415.7 684.4,415.5 685.4,415.2 686.4,414.8 687.4,414.4 688.4,414.0 689.4,413.4 690.4,412.8 691.4,412.3 692.4,411.8 693.4,411.4 694.4,410.9" fill="none" stroke="#5d8fd2" stroke-width="1.4" stroke-linejoin="round" stroke-linecap="round"/>
<path d="M374.4,455.0 375.4,455.0 376.4,454.9 377.4,454.9 378.4,454.8 379.4,454.8 380.4,454.7 381.4,454.6 382.4,454.5 383.4,454.3 384.4,454.2 385.4,454.0 386.4,453.9 387.4,453.7 388.4,453.5 389.4,453.3 390.4,453.1 391.4,452.9 392.4,452.6 393.4,452.4 394.4,452.1 395.4,451.9 396.4,451.6 397.4,451.3 398.4,451.0 399.4,450.7 400.4,450.4 401.4,450.1 402.4,449.8 403.4,449.5 404.4,449.1 405.4,448.6 406.4,448.1 407.4,447.5 408.4,446.8 409.4,446.1 410.4,445.2 411.4,444.2 412.4,443.1 413.4,441.3 414.4,439.0 415.4,436.0 416.4,432.6 417.4,428.7 418.4,424.4 419.4,418.9 420.4,411.3 421.4,402.4 422.4,393.1 423.4,384.3 424.4,375.4 425.4,366.4 426.4,358.4 427.4,351.6 428.4,343.1 429.4,330.7 430.4,318.7 431.4,307.1 432.4,294.5 433.4,288.2 434.4,286.7 435.4,286.5 436.4,286.0 437.4,282.9 438.4,279.4 439.4,275.4 440.4,272.5 441.4,271.4 442.4,270.6 443.4,269.8 444.4,269.6 445.4,269.9 446.4,271.6 447.4,273.0 448.4,274.3 449.4,276.1 450.4,278.4 451.4,281.2 452.4,285.7 453.4,291.8 454.4,301.2 455.4,310.8 456.4,320.2 457.4,327.8 458.4,337.3 459.4,347.1 460.4,351.1 461.4,352.1 462.4,353.0 463.4,355.3 464.4,358.2 465.4,361.5 466.4,365.1 467.4,369.1 468.4,373.7 469.4,378.6 470.4,383.1 471.4,386.8 472.4,390.2 473.4,390.8 474.4,389.8 475.4,388.2 476.4,386.4 477.4,382.3 478.4,376.4 479.4,370.2 480.4,363.8 481.4,357.0 482.4,350.5 483.4,344.5 484.4,339.0 485.4,334.1 486.4,332.1 487.4,334.0 488.4,336.9 489.4,341.6 490.4,347.4 491.4,353.4 492.4,360.2 493.4,367.3 494.4,374.4 495.4,379.0 496.4,380.9 497.4,382.4 498.4,384.7 499.4,387.6 500.4,390.8 501.4,393.7 502.4,396.5 503.4,399.1 504.4,401.3 505.4,403.4 506.4,405.1 507.4,406.3 508.4,407.2 509.4,408.1 510.4,408.9 511.4,409.7 512.4,410.7 513.4,411.7 514.4,412.7 515.4,413.5 516.4,414.0 517.4,414.5 518.4,414.9 519.4,415.2 520.4,415.3 521.4,415.4 522.4,415.5 523.4,415.6 524.4,415.7 525.4,415.6 526.4,415.0 527.4,414.1 528.4,413.3 529.4,412.7 530.4,412.3 531.4,412.0 532.4,411.7 533.4,411.5 534.4,411.2 535.4,411.0 536.4,410.8 537.4,410.7 538.4,410.9 539.4,411.5 540.4,412.5 541.4,413.6 542.4,414.4 543.4,415.0 544.4,415.5 545.4,415.7 546.4,415.5 547.4,413.9 548.4,411.3 549.4,408.4 550.4,405.7 551.4,402.7 552.4,399.6 553.4,396.8 554.4,394.5 555.4,392.2 556.4,390.2 557.4,388.7 558.4,387.6 559.4,386.8 560.4,386.4 561.4,386.6 562.4,387.3 563.4,388.1 564.4,388.5 565.4,388.8 566.4,389.1 567.4,389.4 568.4,389.6 569.4,389.7 570.4,389.9 571.4,390.0 572.4,390.3 573.4,390.8 574.4,391.3 575.4,391.7 576.4,391.8 577.4,391.7 578.4,391.7 579.4,391.7 580.4,392.1 581.4,393.1 582.4,394.3 583.4,395.5 584.4,396.9 585.4,398.3 586.4,400.0 587.4,401.8 588.4,403.7 589.4,405.6 590.4,407.5 591.4,409.4 592.4,411.4 593.4,413.2 594.4,414.9 595.4,416.3 596.4,417.7 597.4,419.1 598.4,420.4 599.4,421.8 600.4,423.4 601.4,425.1 602.4,426.5 603.4,427.5 604.4,428.3 605.4,428.7 606.4,428.6 607.4,428.4 608.4,428.0 609.4,427.6 610.4,427.2 611.4,426.8 612.4,426.4 613.4,426.1 614.4,426.0 615.4,426.4 616.4,427.1 617.4,427.9 618.4,428.7 619.4,429.3 620.4,430.0 621.4,430.6 622.4,431.3 623.4,431.8 624.4,432.1 625.4,432.3 626.4,432.4 627.4,432.5 628.4,432.6 629.4,432.6 630.4,432.6 631.4,432.6 632.4,432.6 633.4,432.6 634.4,432.6 635.4,432.6 636.4,432.5 637.4,432.5 638.4,432.5 639.4,432.5 640.4,432.4 641.4,432.2 642.4,432.0 643.4,431.5 644.4,430.5 645.4,429.3 646.4,428.0 647.4,426.9 648.4,425.6 649.4,424.6 650.4,424.3 651.4,425.6 652.4,427.6 653.4,429.1 654.4,429.3 655.4,429.0 656.4,428.4 657.4,427.8 658.4,427.1 659.4,426.5 660.4,425.8 661.4,425.1 662.4,424.4 663.4,423.7 664.4,423.0 665.4,422.4 666.4,421.9 667.4,421.6 668.4,421.2 669.4,420.9 670.4,420.6 671.4,420.3 672.4,420.0 673.4,419.7 674.4,419.4 675.4,419.2 676.4,418.9 677.4,418.7 678.4,418.4 679.4,418.2 680.4,417.9 681.4,417.6 682.4,417.3 683.4,417.0 684.4,416.7 685.4,416.3 686.4,415.9 687.4,415.5 688.4,415.0 689.4,414.4 690.4,413.9 691.4,413.3 692.4,412.8 693.4,412.3 694.4,411.8" fill="none" stroke="#1bb9cc" stroke-width="1.2" stroke-linejoin="round" stroke-linecap="round"/>
<path d="M374.4,455.1 375.4,455.0 376.4,455.0 377.4,455.0 378.4,454.9 379.4,454.9 380.4,454.8 381.4,454.7 382.4,454.6 383.4,454.4 384.4,454.3 385.4,454.1 386.4,454.0 387.4,453.8 388.4,453.6 389.4,453.4 390.4,453.2 391.4,453.0 392.4,452.7 393.4,452.5 394.4,452.3 395.4,452.0 396.4,451.7 397.4,451.5 398.4,451.2 399.4,450.9 400.4,450.6 401.4,450.3 402.4,450.0 403.4,449.7 404.4,449.3 405.4,448.8 406.4,448.3 407.4,447.7 408.4,447.1 409.4,446.3 410.4,445.4 411.4,444.5 412.4,443.3 413.4,441.6 414.4,439.3 415.4,436.4 416.4,433.0 417.4,429.2 418.4,424.9 419.4,419.4 420.4,411.8 421.4,402.9 422.4,393.7 423.4,384.8 424.4,376.0 425.4,367.1 426.4,359.1 427.4,352.1 428.4,343.7 429.4,331.6 430.4,320.0 431.4,308.6 432.4,296.2 433.4,289.8 434.4,288.0 435.4,288.0 436.4,288.2 437.4,285.4 438.4,281.9 439.4,277.7 440.4,274.4 441.4,272.9 442.4,271.6 443.4,270.5 444.4,270.2 445.4,270.7 446.4,273.2 447.4,275.2 448.4,277.2 449.4,279.5 450.4,282.1 451.4,285.1 452.4,289.6 453.4,295.4 454.4,304.4 455.4,313.8 456.4,322.9 457.4,330.4 458.4,339.7 459.4,350.5 460.4,354.6 461.4,356.4 462.4,358.0 463.4,360.7 464.4,363.8 465.4,367.2 466.4,370.9 467.4,374.8 468.4,379.2 469.4,383.7 470.4,387.9 471.4,390.9 472.4,393.4 473.4,393.7 474.4,392.2 475.4,390.1 476.4,387.7 477.4,383.5 478.4,377.6 479.4,371.6 480.4,365.5 481.4,358.9 482.4,352.7 483.4,347.0 484.4,341.8 485.4,336.9 486.4,335.1 487.4,336.8 488.4,339.7 489.4,344.2 490.4,349.9 491.4,355.7 492.4,362.4 493.4,369.2 494.4,375.7 495.4,380.1 496.4,382.1 497.4,383.9 498.4,386.3 499.4,389.3 500.4,392.4 501.4,395.1 502.4,397.8 503.4,400.2 504.4,402.3 505.4,404.2 506.4,405.9 507.4,407.2 508.4,408.2 509.4,409.2 510.4,410.1 511.4,411.0 512.4,411.9 513.4,412.9 514.4,413.8 515.4,414.6 516.4,415.1 517.4,415.6 518.4,416.0 519.4,416.3 520.4,416.5 521.4,416.6 522.4,416.8 523.4,416.9 524.4,417.0 525.4,417.0 526.4,416.6 527.4,415.9 528.4,415.3 529.4,414.9 530.4,414.6 531.4,414.4 532.4,414.2 533.4,414.0 534.4,413.9 535.4,413.7 536.4,413.6 537.4,413.6 538.4,413.8 539.4,414.4 540.4,415.2 541.4,416.1 542.4,416.7 543.4,417.0 544.4,417.2 545.4,417.2 546.4,416.8 547.4,415.1 548.4,412.6 549.4,409.8 550.4,407.2 551.4,404.4 552.4,401.5 553.4,398.9 554.4,396.6 555.4,394.3 556.4,392.2 557.4,390.6 558.4,389.5 559.4,388.6 560.4,388.1 561.4,388.1 562.4,388.6 563.4,389.2 564.4,389.6 565.4,389.9 566.4,390.3 567.4,390.6 568.4,390.9 569.4,391.1 570.4,391.3 571.4,391.5 572.4,391.9 573.4,392.3 574.4,392.8 575.4,393.2 576.4,393.4 577.4,393.5 578.4,393.5 579.4,393.6 580.4,394.1 581.4,395.0 582.4,396.1 583.4,397.3 584.4,398.6 585.4,400.0 586.4,401.5 587.4,403.2 588.4,405.0 589.4,406.9 590.4,408.7 591.4,410.6 592.4,412.4 593.4,414.2 594.4,415.8 595.4,417.3 596.4,418.7 597.4,420.0 598.4,421.4 599.4,422.9 600.4,424.7 601.4,426.4 602.4,427.8 603.4,428.8 604.4,429.6 605.4,430.0 606.4,430.0 607.4,429.8 608.4,429.6 609.4,429.3 610.4,429.0 611.4,428.7 612.4,428.5 613.4,428.2 614.4,428.2 615.4,428.5 616.4,429.1 617.4,429.8 618.4,430.4 619.4,430.9 620.4,431.5 621.4,432.1 622.4,432.6 623.4,433.0 624.4,433.3 625.4,433.4 626.4,433.5 627.4,433.6 628.4,433.6 629.4,433.7 630.4,433.7 631.4,433.6 632.4,433.6 633.4,433.6 634.4,433.6 635.4,433.6 636.4,433.5 637.4,433.5 638.4,433.5 639.4,433.4 640.4,433.3 641.4,433.1 642.4,432.7 643.4,432.1 644.4,431.1 645.4,429.9 646.4,428.7 647.4,427.6 648.4,426.4 649.4,425.5 650.4,425.3 651.4,426.6 652.4,428.6 653.4,430.3 654.4,430.6 655.4,430.3 656.4,429.8 657.4,429.2 658.4,428.6 659.4,428.0 660.4,427.4 661.4,426.7 662.4,426.0 663.4,425.3 664.4,424.6 665.4,424.1 666.4,423.6 667.4,423.2 668.4,422.9 669.4,422.5 670.4,422.2 671.4,421.9 672.4,421.6 673.4,421.3 674.4,421.0 675.4,420.7 676.4,420.4 677.4,420.2 678.4,419.9 679.4,419.6 680.4,419.3 681.4,418.9 682.4,418.6 683.4,418.2 684.4,417.9 685.4,417.5 686.4,417.1 687.4,416.6 688.4,416.1 689.4,415.5 690.4,414.9 691.4,414.3 692.4,413.8 693.4,413.2 694.4,412.7" fill="none" stroke="#6a9bd8" stroke-width="1.4" stroke-linejoin="round" stroke-linecap="round"/>
<path d="M374.4,455.1 375.4,455.1 376.4,455.1 377.4,455.1 378.4,455.0 379.4,454.9 380.4,454.9 381.4,454.8 382.4,454.6 383.4,454.5 384.4,454.4 385.4,454.2 386.4,454.1 387.4,453.9 388.4,453.7 389.4,453.5 390.4,453.3 391.4,453.1 392.4,452.9 393.4,452.6 394.4,452.4 395.4,452.1 396.4,451.9 397.4,451.6 398.4,451.3 399.4,451.1 400.4,450.8 401.4,450.5 402.4,450.2 403.4,449.8 404.4,449.5 405.4,449.0 406.4,448.5 407.4,448.0 408.4,447.3 409.4,446.5 410.4,445.7 411.4,444.7 412.4,443.6 413.4,442.0 414.4,439.7 415.4,436.8 416.4,433.4 417.4,429.6 418.4,425.4 419.4,419.9 420.4,412.3 421.4,403.4 422.4,394.2 423.4,385.4 424.4,376.6 425.4,367.8 426.4,359.8 427.4,352.7 428.4,344.3 429.4,332.6 430.4,321.3 431.4,310.1 432.4,297.9 433.4,291.5 434.4,289.3 435.4,289.5 436.4,290.4 437.4,288.0 438.4,284.5 439.4,280.0 440.4,276.3 441.4,274.4 442.4,272.7 443.4,271.2 444.4,270.8 445.4,271.5 446.4,274.8 447.4,277.4 448.4,280.0 449.4,282.8 450.4,285.8 451.4,289.0 452.4,293.4 453.4,299.0 454.4,307.6 455.4,316.7 456.4,325.6 457.4,333.0 458.4,342.0 459.4,353.9 460.4,358.2 461.4,360.6 462.4,363.0 463.4,366.0 464.4,369.4 465.4,372.9 466.4,376.7 467.4,380.5 468.4,384.7 469.4,388.8 470.4,392.6 471.4,395.0 472.4,396.7 473.4,396.6 474.4,394.7 475.4,391.9 476.4,389.0 477.4,384.6 478.4,378.8 479.4,373.0 480.4,367.1 481.4,360.9 482.4,355.0 483.4,349.5 484.4,344.5 485.4,339.8 486.4,338.0 487.4,339.7 488.4,342.4 489.4,346.9 490.4,352.3 491.4,358.0 492.4,364.6 493.4,371.1 494.4,377.1 495.4,381.2 496.4,383.4 497.4,385.5 498.4,388.0 499.4,391.0 500.4,393.9 501.4,396.5 502.4,399.0 503.4,401.3 504.4,403.3 505.4,405.1 506.4,406.7 507.4,408.0 508.4,409.2 509.4,410.2 510.4,411.2 511.4,412.2 512.4,413.2 513.4,414.1 514.4,415.0 515.4,415.7 516.4,416.2 517.4,416.7 518.4,417.1 519.4,417.4 520.4,417.6 521.4,417.8 522.4,418.0 523.4,418.2 524.4,418.4 525.4,418.4 526.4,418.1 527.4,417.7 528.4,417.3 529.4,417.0 530.4,416.9 531.4,416.7 532.4,416.6 533.4,416.6 534.4,416.5 535.4,416.4 536.4,416.4 537.4,416.5 538.4,416.7 539.4,417.2 540.4,417.9 541.4,418.6 542.4,418.9 543.4,419.0 544.4,418.9 545.4,418.7 546.4,418.0 547.4,416.3 548.4,413.8 549.4,411.2 550.4,408.7 551.4,406.1 552.4,403.4 553.4,400.9 554.4,398.7 555.4,396.5 556.4,394.3 557.4,392.6 558.4,391.3 559.4,390.4 560.4,389.8 561.4,389.6 562.4,389.9 563.4,390.3 564.4,390.6 565.4,391.0 566.4,391.4 567.4,391.8 568.4,392.2 569.4,392.5 570.4,392.8 571.4,393.1 572.4,393.4 573.4,393.9 574.4,394.4 575.4,394.8 576.4,395.1 577.4,395.2 578.4,395.4 579.4,395.6 580.4,396.1 581.4,396.9 582.4,398.0 583.4,399.1 584.4,400.3 585.4,401.6 586.4,403.1 587.4,404.7 588.4,406.4 589.4,408.1 590.4,409.9 591.4,411.7 592.4,413.5 593.4,415.2 594.4,416.7 595.4,418.2 596.4,419.6 597.4,421.0 598.4,422.5 599.4,424.0 600.4,425.9 601.4,427.8 602.4,429.2 603.4,430.1 604.4,430.8 605.4,431.2 606.4,431.4 607.4,431.3 608.4,431.2 609.4,431.0 610.4,430.9 611.4,430.7 612.4,430.5 613.4,430.4 614.4,430.4 615.4,430.6 616.4,431.1 617.4,431.7 618.4,432.2 619.4,432.6 620.4,433.0 621.4,433.5 622.4,433.9 623.4,434.2 624.4,434.4 625.4,434.5 626.4,434.6 627.4,434.6 628.4,434.7 629.4,434.7 630.4,434.7 631.4,434.7 632.4,434.6 633.4,434.6 634.4,434.6 635.4,434.5 636.4,434.5 637.4,434.5 638.4,434.4 639.4,434.4 640.4,434.2 641.4,433.9 642.4,433.4 643.4,432.7 644.4,431.7 645.4,430.5 646.4,429.3 647.4,428.3 648.4,427.2 649.4,426.4 650.4,426.2 651.4,427.5 652.4,429.6 653.4,431.4 654.4,431.8 655.4,431.6 656.4,431.2 657.4,430.7 658.4,430.1 659.4,429.5 660.4,428.9 661.4,428.2 662.4,427.6 663.4,426.9 664.4,426.3 665.4,425.7 666.4,425.3 667.4,424.9 668.4,424.5 669.4,424.2 670.4,423.8 671.4,423.5 672.4,423.2 673.4,422.9 674.4,422.6 675.4,422.3 676.4,422.0 677.4,421.6 678.4,421.3 679.4,421.0 680.4,420.7 681.4,420.3 682.4,419.9 683.4,419.5 684.4,419.1 685.4,418.7 686.4,418.2 687.4,417.7 688.4,417.1 689.4,416.5 690.4,415.9 691.4,415.3 692.4,414.7 693.4,414.1 694.4,413.6" fill="none" stroke="#b372e6" stroke-width="1.2" stroke-linejoin="round" stroke-linecap="round"/>
<path d="M374.4,455.2 375.4,455.2 376.4,455.2 377.4,455.1 378.4,455.1 379.4,455.0 380.4,454.9 381.4,454.8 382.4,454.7 383.4,454.6 384.4,454.5 385.4,454.3 386.4,454.2 387.4,454.0 388.4,453.8 389.4,453.6 390.4,453.4 391.4,453.2 392.4,453.0 393.4,452.8 394.4,452.5 395.4,452.3 396.4,452.0 397.4,451.8 398.4,451.5 399.4,451.2 400.4,450.9 401.4,450.6 402.4,450.3 403.4,450.0 404.4,449.7 405.4,449.2 406.4,448.7 407.4,448.2 408.4,447.5 409.4,446.8 410.4,446.0 411.4,445.0 412.4,443.9 413.4,442.3 414.4,440.0 415.4,437.2 416.4,433.8 417.4,430.1 418.4,425.9 419.4,420.4 420.4,412.8 421.4,404.0 422.4,394.7 423.4,386.0 424.4,377.3 425.4,368.5 426.4,360.4 427.4,353.3 428.4,344.8 429.4,333.5 430.4,322.5 431.4,311.6 432.4,299.6 433.4,293.1 434.4,290.6 435.4,291.1 436.4,292.6 437.4,290.5 438.4,287.0 439.4,282.3 440.4,278.3 441.4,275.9 442.4,273.8 443.4,272.0 444.4,271.4 445.4,272.3 446.4,276.4 447.4,279.7 448.4,282.8 449.4,286.2 450.4,289.5 451.4,293.0 452.4,297.3 453.4,302.7 454.4,310.8 455.4,319.6 456.4,328.2 457.4,335.6 458.4,344.4 459.4,357.3 460.4,361.8 461.4,364.9 462.4,367.9 463.4,371.4 464.4,375.0 465.4,378.7 466.4,382.4 467.4,386.3 468.4,390.2 469.4,394.0 470.4,397.4 471.4,399.1 472.4,400.0 473.4,399.5 474.4,397.2 475.4,393.8 476.4,390.3 477.4,385.7 478.4,380.1 479.4,374.5 480.4,368.7 481.4,362.8 482.4,357.2 483.4,352.1 484.4,347.3 485.4,342.6 486.4,340.9 487.4,342.6 488.4,345.2 489.4,349.5 490.4,354.8 491.4,360.3 492.4,366.7 493.4,373.1 494.4,378.5 495.4,382.3 496.4,384.6 497.4,387.0 498.4,389.7 499.4,392.6 500.4,395.5 501.4,398.0 502.4,400.3 503.4,402.4 504.4,404.2 505.4,406.0 506.4,407.5 507.4,408.9 508.4,410.1 509.4,411.3 510.4,412.4 511.4,413.5 512.4,414.5 513.4,415.3 514.4,416.1 515.4,416.8 516.4,417.3 517.4,417.7 518.4,418.2 519.4,418.5 520.4,418.8 521.4,419.0 522.4,419.3 523.4,419.5 524.4,419.7 525.4,419.8 526.4,419.7 527.4,419.5 528.4,419.3 529.4,419.2 530.4,419.1 531.4,419.1 532.4,419.1 533.4,419.1 534.4,419.1 535.4,419.2 536.4,419.3 537.4,419.4 538.4,419.7 539.4,420.1 540.4,420.6 541.4,421.0 542.4,421.2 543.4,421.0 544.4,420.7 545.4,420.2 546.4,419.3 547.4,417.5 548.4,415.1 549.4,412.6 550.4,410.2 551.4,407.8 552.4,405.3 553.4,403.0 554.4,400.8 555.4,398.6 556.4,396.4 557.4,394.6 558.4,393.2 559.4,392.2 560.4,391.5 561.4,391.1 562.4,391.1 563.4,391.4 564.4,391.7 565.4,392.1 566.4,392.5 567.4,393.0 568.4,393.5 569.4,393.9 570.4,394.2 571.4,394.6 572.4,395.0 573.4,395.5 574.4,396.0 575.4,396.4 576.4,396.7 577.4,397.0 578.4,397.2 579.4,397.5 580.4,398.0 581.4,398.8 582.4,399.8 583.4,400.8 584.4,402.0 585.4,403.3 586.4,404.6 587.4,406.1 588.4,407.7 589.4,409.4 590.4,411.1 591.4,412.8 592.4,414.5 593.4,416.1 594.4,417.7 595.4,419.1 596.4,420.6 597.4,422.0 598.4,423.5 599.4,425.2 600.4,427.2 601.4,429.2 602.4,430.6 603.4,431.5 604.4,432.1 605.4,432.5 606.4,432.7 607.4,432.8 608.4,432.8 609.4,432.7 610.4,432.7 611.4,432.6 612.4,432.5 613.4,432.5 614.4,432.6 615.4,432.8 616.4,433.1 617.4,433.5 618.4,433.9 619.4,434.2 620.4,434.6 621.4,434.9 622.4,435.2 623.4,435.4 624.4,435.5 625.4,435.6 626.4,435.7 627.4,435.7 628.4,435.7 629.4,435.7 630.4,435.7 631.4,435.7 632.4,435.6 633.4,435.6 634.4,435.6 635.4,435.5 636.4,435.5 637.4,435.4 638.4,435.4 639.4,435.3 640.4,435.1 641.4,434.7 642.4,434.2 643.4,433.4 644.4,432.3 645.4,431.1 646.4,430.0 647.4,429.0 648.4,428.0 649.4,427.3 650.4,427.2 651.4,428.5 652.4,430.7 653.4,432.5 654.4,433.1 655.4,432.9 656.4,432.5 657.4,432.1 658.4,431.6 659.4,431.0 660.4,430.4 661.4,429.8 662.4,429.2 663.4,428.5 664.4,427.9 665.4,427.4 666.4,426.9 667.4,426.5 668.4,426.2 669.4,425.8 670.4,425.5 671.4,425.1 672.4,424.8 673.4,424.5 674.4,424.1 675.4,423.8 676.4,423.5 677.4,423.1 678.4,422.8 679.4,422.4 680.4,422.0 681.4,421.6 682.4,421.2 683.4,420.8 684.4,420.3 685.4,419.8 686.4,419.3 687.4,418.8 688.4,418.2 689.4,417.6 690.4,416.9 691.4,416.3 692.4,415.7 693.4,415.1 694.4,414.4" fill="none" stroke="#9a9a9a" stroke-width="1.2" stroke-linejoin="round" stroke-linecap="round"/>
<path d="M374.4,455.3 375.4,455.3 376.4,455.3 377.4,455.2 378.4,455.2 379.4,455.1 380.4,455.0 381.4,454.9 382.4,454.8 383.4,454.7 384.4,454.6 385.4,454.4 386.4,454.3 387.4,454.1 388.4,453.9 389.4,453.7 390.4,453.6 391.4,453.3 392.4,453.1 393.4,452.9 394.4,452.7 395.4,452.4 396.4,452.2 397.4,451.9 398.4,451.6 399.4,451.4 400.4,451.1 401.4,450.8 402.4,450.5 403.4,450.2 404.4,449.8 405.4,449.4 406.4,448.9 407.4,448.4 408.4,447.7 409.4,447.0 410.4,446.2 411.4,445.3 412.4,444.2 413.4,442.6 414.4,440.3 415.4,437.5 416.4,434.2 417.4,430.5 418.4,426.4 419.4,420.9 420.4,413.4 421.4,404.5 422.4,395.3 423.4,386.5 424.4,377.9 425.4,369.2 426.4,361.1 427.4,353.8 428.4,345.4 429.4,334.5 430.4,323.8 431.4,313.1 432.4,301.3 433.4,294.7 434.4,291.8 435.4,292.6 436.4,294.9 437.4,293.1 438.4,289.5 439.4,284.6 440.4,280.2 441.4,277.4 442.4,274.9 443.4,272.7 444.4,272.0 445.4,273.1 446.4,278.0 447.4,281.9 448.4,285.7 449.4,289.5 450.4,293.3 451.4,296.9 452.4,301.2 453.4,306.3 454.4,314.0 455.4,322.5 456.4,330.9 457.4,338.3 458.4,346.8 459.4,360.7 460.4,365.3 461.4,369.2 462.4,372.9 463.4,376.7 464.4,380.6 465.4,384.4 466.4,388.2 467.4,392.0 468.4,395.7 469.4,399.1 470.4,402.1 471.4,403.2 472.4,403.3 473.4,402.4 474.4,399.7 475.4,395.7 476.4,391.6 477.4,386.8 478.4,381.3 479.4,375.9 480.4,370.3 481.4,364.7 482.4,359.4 483.4,354.6 484.4,350.1 485.4,345.4 486.4,343.9 487.4,345.5 488.4,348.0 489.4,352.1 490.4,357.2 491.4,362.6 492.4,368.9 493.4,375.0 494.4,379.9 495.4,383.3 496.4,385.9 497.4,388.5 498.4,391.3 499.4,394.3 500.4,397.1 501.4,399.4 502.4,401.5 503.4,403.5 504.4,405.2 505.4,406.8 506.4,408.3 507.4,409.7 508.4,411.1 509.4,412.4 510.4,413.6 511.4,414.8 512.4,415.7 513.4,416.5 514.4,417.3 515.4,417.9 516.4,418.4 517.4,418.8 518.4,419.3 519.4,419.6 520.4,419.9 521.4,420.2 522.4,420.5 523.4,420.8 524.4,421.0 525.4,421.2 526.4,421.3 527.4,421.3 528.4,421.3 529.4,421.3 530.4,421.4 531.4,421.5 532.4,421.6 533.4,421.7 534.4,421.8 535.4,421.9 536.4,422.1 537.4,422.3 538.4,422.6 539.4,422.9 540.4,423.3 541.4,423.5 542.4,423.4 543.4,423.0 544.4,422.4 545.4,421.7 546.4,420.6 547.4,418.7 548.4,416.4 549.4,414.0 550.4,411.8 551.4,409.5 552.4,407.3 553.4,405.1 554.4,403.0 555.4,400.8 556.4,398.5 557.4,396.6 558.4,395.1 559.4,394.0 560.4,393.2 561.4,392.6 562.4,392.4 563.4,392.5 564.4,392.7 565.4,393.1 566.4,393.7 567.4,394.2 568.4,394.8 569.4,395.2 570.4,395.7 571.4,396.1 572.4,396.5 573.4,397.1 574.4,397.6 575.4,398.0 576.4,398.4 577.4,398.7 578.4,399.1 579.4,399.5 580.4,400.0 581.4,400.7 582.4,401.6 583.4,402.6 584.4,403.7 585.4,404.9 586.4,406.2 587.4,407.6 588.4,409.1 589.4,410.6 590.4,412.3 591.4,413.9 592.4,415.6 593.4,417.1 594.4,418.6 595.4,420.1 596.4,421.5 597.4,423.0 598.4,424.5 599.4,426.3 600.4,428.5 601.4,430.6 602.4,432.0 603.4,432.8 604.4,433.4 605.4,433.8 606.4,434.1 607.4,434.3 608.4,434.4 609.4,434.5 610.4,434.5 611.4,434.6 612.4,434.6 613.4,434.6 614.4,434.7 615.4,434.9 616.4,435.2 617.4,435.4 618.4,435.7 619.4,435.9 620.4,436.1 621.4,436.3 622.4,436.5 623.4,436.6 624.4,436.7 625.4,436.7 626.4,436.7 627.4,436.8 628.4,436.8 629.4,436.8 630.4,436.7 631.4,436.7 632.4,436.7 633.4,436.6 634.4,436.6 635.4,436.5 636.4,436.4 637.4,436.4 638.4,436.3 639.4,436.2 640.4,436.0 641.4,435.5 642.4,434.9 643.4,434.0 644.4,432.9 645.4,431.7 646.4,430.6 647.4,429.7 648.4,428.8 649.4,428.2 650.4,428.1 651.4,429.4 652.4,431.7 653.4,433.7 654.4,434.3 655.4,434.2 656.4,433.9 657.4,433.5 658.4,433.1 659.4,432.6 660.4,432.0 661.4,431.4 662.4,430.8 663.4,430.2 664.4,429.6 665.4,429.1 666.4,428.6 667.4,428.2 668.4,427.8 669.4,427.5 670.4,427.1 671.4,426.7 672.4,426.4 673.4,426.0 674.4,425.7 675.4,425.3 676.4,425.0 677.4,424.6 678.4,424.2 679.4,423.8 680.4,423.4 681.4,423.0 682.4,422.5 683.4,422.0 684.4,421.5 685.4,421.0 686.4,420.4 687.4,419.9 688.4,419.3 689.4,418.6 690.4,418.0 691.4,417.3 692.4,416.7 693.4,416.0 694.4,415.3" fill="none" stroke="#7e4c4c" stroke-width="1.5" stroke-linejoin="round" stroke-linecap="round"/>
<path d="M374.4,455.4 375.4,455.4 376.4,455.4 377.4,455.3 378.4,455.3 379.4,455.2 380.4,455.1 381.4,455.0 382.4,454.9 383.4,454.8 384.4,454.7 385.4,454.6 386.4,454.4 387.4,454.2 388.4,454.1 389.4,453.9 390.4,453.7 391.4,453.5 392.4,453.3 393.4,453.0 394.4,452.8 395.4,452.6 396.4,452.3 397.4,452.1 398.4,451.8 399.4,451.6 400.4,451.3 401.4,451.0 402.4,450.7 403.4,450.4 404.4,450.1 405.4,449.6 406.4,449.2 407.4,448.6 408.4,448.0 409.4,447.3 410.4,446.5 411.4,445.6 412.4,444.5 413.4,442.9 414.4,440.7 415.4,438.0 416.4,434.7 417.4,431.0 418.4,426.9 419.4,421.5 420.4,414.0 421.4,405.1 422.4,395.9 423.4,387.2 424.4,378.6 425.4,370.0 426.4,361.9 427.4,354.5 428.4,346.1 429.4,335.5 430.4,325.2 431.4,314.8 432.4,303.3 433.4,296.5 434.4,293.3 435.4,294.3 436.4,297.4 437.4,296.0 438.4,292.4 439.4,287.2 440.4,282.4 441.4,279.1 442.4,276.2 443.4,273.5 444.4,272.8 445.4,274.0 446.4,279.9 447.4,284.4 448.4,288.9 449.4,293.4 450.4,297.5 451.4,301.4 452.4,305.6 453.4,310.4 454.4,317.6 455.4,325.9 456.4,334.0 457.4,341.3 458.4,349.5 459.4,364.5 460.4,369.4 461.4,374.1 462.4,378.6 463.4,382.9 464.4,387.0 465.4,391.0 466.4,394.7 467.4,398.5 468.4,402.0 469.4,405.0 470.4,407.6 471.4,407.8 472.4,407.1 473.4,405.7 474.4,402.5 475.4,397.8 476.4,393.1 477.4,388.1 478.4,382.8 479.4,377.5 480.4,372.2 481.4,367.0 482.4,362.0 483.4,357.5 484.4,353.2 485.4,348.7 486.4,347.2 487.4,348.7 488.4,351.1 489.4,355.1 490.4,360.0 491.4,365.3 492.4,371.4 493.4,377.2 494.4,381.5 495.4,384.6 496.4,387.3 497.4,390.2 498.4,393.2 499.4,396.2 500.4,398.8 501.4,401.0 502.4,403.0 503.4,404.7 504.4,406.3 505.4,407.8 506.4,409.3 507.4,410.7 508.4,412.2 509.4,413.6 510.4,415.0 511.4,416.2 512.4,417.2 513.4,417.9 514.4,418.6 515.4,419.1 516.4,419.6 517.4,420.1 518.4,420.5 519.4,420.9 520.4,421.3 521.4,421.6 522.4,422.0 523.4,422.3 524.4,422.6 525.4,422.8 526.4,423.1 527.4,423.4 528.4,423.6 529.4,423.8 530.4,424.0 531.4,424.2 532.4,424.4 533.4,424.6 534.4,424.8 535.4,425.0 536.4,425.3 537.4,425.6 538.4,425.9 539.4,426.2 540.4,426.4 541.4,426.4 542.4,426.0 543.4,425.3 544.4,424.4 545.4,423.4 546.4,422.0 547.4,420.0 548.4,417.8 549.4,415.6 550.4,413.5 551.4,411.5 552.4,409.4 553.4,407.4 554.4,405.4 555.4,403.2 556.4,400.9 557.4,398.8 558.4,397.2 559.4,396.1 560.4,395.1 561.4,394.4 562.4,393.8 563.4,393.7 564.4,393.9 565.4,394.4 566.4,394.9 567.4,395.6 568.4,396.2 569.4,396.8 570.4,397.3 571.4,397.8 572.4,398.3 573.4,398.8 574.4,399.3 575.4,399.8 576.4,400.3 577.4,400.7 578.4,401.2 579.4,401.7 580.4,402.2 581.4,402.9 582.4,403.7 583.4,404.6 584.4,405.7 585.4,406.8 586.4,408.0 587.4,409.2 588.4,410.6 589.4,412.1 590.4,413.6 591.4,415.2 592.4,416.7 593.4,418.2 594.4,419.7 595.4,421.1 596.4,422.6 597.4,424.1 598.4,425.7 599.4,427.6 600.4,430.0 601.4,432.2 602.4,433.6 603.4,434.3 604.4,434.8 605.4,435.3 606.4,435.7 607.4,436.0 608.4,436.2 609.4,436.4 610.4,436.6 611.4,436.8 612.4,436.9 613.4,437.1 614.4,437.2 615.4,437.4 616.4,437.5 617.4,437.6 618.4,437.7 619.4,437.8 620.4,437.8 621.4,437.9 622.4,438.0 623.4,438.0 624.4,438.0 625.4,438.0 626.4,438.0 627.4,438.0 628.4,438.0 629.4,437.9 630.4,437.9 631.4,437.9 632.4,437.8 633.4,437.8 634.4,437.7 635.4,437.6 636.4,437.6 637.4,437.5 638.4,437.4 639.4,437.3 640.4,437.1 641.4,436.5 642.4,435.7 643.4,434.7 644.4,433.6 645.4,432.5 646.4,431.4 647.4,430.4 648.4,429.7 649.4,429.2 650.4,429.2 651.4,430.5 652.4,432.8 653.4,434.9 654.4,435.8 655.4,435.7 656.4,435.5 657.4,435.2 658.4,434.8 659.4,434.3 660.4,433.7 661.4,433.2 662.4,432.6 663.4,432.0 664.4,431.5 665.4,431.0 666.4,430.5 667.4,430.1 668.4,429.7 669.4,429.3 670.4,429.0 671.4,428.6 672.4,428.2 673.4,427.9 674.4,427.5 675.4,427.1 676.4,426.7 677.4,426.3 678.4,425.9 679.4,425.5 680.4,425.0 681.4,424.5 682.4,424.0 683.4,423.5 684.4,422.9 685.4,422.3 686.4,421.7 687.4,421.1 688.4,420.5 689.4,419.8 690.4,419.2 691.4,418.5 692.4,417.8 693.4,417.0 694.4,416.3" fill="none" stroke="#5d8fd2" stroke-width="1.3" stroke-linejoin="round" stroke-linecap="round"/>
<path d="M374.4,455.5 375.4,455.5 376.4,455.5 377.4,455.4 378.4,455.4 379.4,455.3 380.4,455.2 381.4,455.1 382.4,455.0 383.4,454.9 384.4,454.8 385.4,454.7 386.4,454.5 387.4,454.4 388.4,454.2 389.4,454.0 390.4,453.8 391.4,453.6 392.4,453.4 393.4,453.2 394.4,453.0 395.4,452.7 396.4,452.5 397.4,452.3 398.4,452.0 399.4,451.7 400.4,451.5 401.4,451.2 402.4,450.9 403.4,450.6 404.4,450.3 405.4,449.9 406.4,449.4 407.4,448.9 408.4,448.3 409.4,447.6 410.4,446.8 411.4,445.9 412.4,444.9 413.4,443.3 414.4,441.1 415.4,438.4 416.4,435.2 417.4,431.5 418.4,427.5 419.4,422.1 420.4,414.6 421.4,405.7 422.4,396.5 423.4,387.8 424.4,379.3 425.4,370.8 426.4,362.7 427.4,355.1 428.4,346.8 429.4,336.6 430.4,326.7 431.4,316.5 432.4,305.3 433.4,298.4 434.4,294.8 435.4,296.0 436.4,300.0 437.4,299.0 438.4,295.3 439.4,289.8 440.4,284.5 441.4,280.8 442.4,277.4 443.4,274.4 444.4,273.5 445.4,274.9 446.4,281.7 447.4,287.0 448.4,292.2 449.4,297.2 450.4,301.7 451.4,305.9 452.4,310.0 453.4,314.5 454.4,321.3 455.4,329.2 456.4,337.1 457.4,344.3 458.4,352.2 459.4,365.7 460.4,370.5 461.4,375.2 462.4,379.7 463.4,383.9 464.4,388.0 465.4,391.9 466.4,395.8 467.4,399.6 468.4,403.1 469.4,406.1 470.4,408.6 471.4,408.9 472.4,408.0 473.4,406.7 474.4,403.5 475.4,399.0 476.4,394.4 477.4,389.6 478.4,384.5 479.4,379.4 480.4,374.3 481.4,369.2 482.4,364.4 483.4,359.8 484.4,355.6 485.4,351.8 486.4,350.7 487.4,352.2 488.4,354.7 489.4,358.7 490.4,363.5 491.4,368.7 492.4,374.6 493.4,380.2 494.4,384.4 495.4,387.7 496.4,390.8 497.4,393.8 498.4,396.8 499.4,399.6 500.4,402.1 501.4,404.2 502.4,406.0 503.4,407.6 504.4,409.1 505.4,410.4 506.4,411.7 507.4,413.0 508.4,414.3 509.4,415.6 510.4,416.8 511.4,417.9 512.4,418.7 513.4,419.4 514.4,420.0 515.4,420.5 516.4,421.0 517.4,421.4 518.4,421.8 519.4,422.2 520.4,422.5 521.4,422.9 522.4,423.2 523.4,423.5 524.4,423.8 525.4,424.0 526.4,424.3 527.4,424.5 528.4,424.7 529.4,424.9 530.4,425.1 531.4,425.3 532.4,425.5 533.4,425.7 534.4,425.9 535.4,426.2 536.4,426.5 537.4,426.9 538.4,427.2 539.4,427.5 540.4,427.7 541.4,427.7 542.4,427.3 543.4,426.6 544.4,425.7 545.4,424.6 546.4,423.1 547.4,421.1 548.4,418.9 549.4,416.6 550.4,414.5 551.4,412.4 552.4,410.4 553.4,408.3 554.4,406.3 555.4,404.2 556.4,402.0 557.4,400.0 558.4,398.4 559.4,397.2 560.4,396.3 561.4,395.6 562.4,395.1 563.4,394.9 564.4,395.1 565.4,395.4 566.4,396.0 567.4,396.6 568.4,397.2 569.4,397.7 570.4,398.3 571.4,399.0 572.4,399.7 573.4,400.4 574.4,401.0 575.4,401.5 576.4,402.0 577.4,402.5 578.4,403.0 579.4,403.5 580.4,404.1 581.4,404.7 582.4,405.5 583.4,406.4 584.4,407.4 585.4,408.5 586.4,409.7 587.4,410.9 588.4,412.2 589.4,413.7 590.4,415.2 591.4,416.8 592.4,418.3 593.4,419.8 594.4,421.2 595.4,422.6 596.4,424.1 597.4,425.7 598.4,427.3 599.4,429.1 600.4,431.3 601.4,433.5 602.4,434.9 603.4,435.6 604.4,436.2 605.4,436.7 606.4,437.1 607.4,437.5 608.4,437.7 609.4,438.0 610.4,438.2 611.4,438.3 612.4,438.5 613.4,438.7 614.4,438.8 615.4,438.9 616.4,439.1 617.4,439.2 618.4,439.3 619.4,439.4 620.4,439.5 621.4,439.6 622.4,439.6 623.4,439.6 624.4,439.7 625.4,439.7 626.4,439.7 627.4,439.6 628.4,439.6 629.4,439.6 630.4,439.6 631.4,439.5 632.4,439.5 633.4,439.4 634.4,439.4 635.4,439.3 636.4,439.1 637.4,439.0 638.4,438.9 639.4,438.7 640.4,438.5 641.4,437.9 642.4,437.1 643.4,436.2 644.4,435.1 645.4,434.1 646.4,432.9 647.4,431.8 648.4,430.8 649.4,430.2 650.4,430.2 651.4,431.7 652.4,434.2 653.4,436.3 654.4,437.0 655.4,436.9 656.4,436.7 657.4,436.4 658.4,436.0 659.4,435.6 660.4,435.1 661.4,434.5 662.4,434.0 663.4,433.4 664.4,432.9 665.4,432.4 666.4,431.9 667.4,431.5 668.4,431.1 669.4,430.8 670.4,430.4 671.4,430.0 672.4,429.6 673.4,429.3 674.4,428.9 675.4,428.5 676.4,428.1 677.4,427.7 678.4,427.3 679.4,426.9 680.4,426.4 681.4,425.9 682.4,425.4 683.4,424.9 684.4,424.4 685.4,423.8 686.4,423.2 687.4,422.6 688.4,421.8 689.4,421.1 690.4,420.3 691.4,419.5 692.4,418.7 693.4,417.9 694.4,417.2" fill="none" stroke="#c9980e" stroke-width="1.4" stroke-linejoin="round" stroke-linecap="round"/>
<path d="M374.4,455.6 375.4,455.6 376.4,455.6 377.4,455.5 378.4,455.5 379.4,455.4 380.4,455.3 381.4,455.2 382.4,455.1 383.4,455.0 384.4,454.9 385.4,454.8 386.4,454.6 387.4,454.5 388.4,454.3 389.4,454.1 390.4,453.9 391.4,453.7 392.4,453.5 393.4,453.3 394.4,453.1 395.4,452.9 396.4,452.6 397.4,452.4 398.4,452.2 399.4,451.9 400.4,451.6 401.4,451.4 402.4,451.1 403.4,450.8 404.4,450.5 405.4,450.1 406.4,449.6 407.4,449.1 408.4,448.5 409.4,447.8 410.4,447.0 411.4,446.2 412.4,445.2 413.4,443.6 414.4,441.5 415.4,438.8 416.4,435.6 417.4,432.0 418.4,428.0 419.4,422.6 420.4,415.1 421.4,406.2 422.4,397.0 423.4,388.4 424.4,379.9 425.4,371.5 426.4,363.3 427.4,355.7 428.4,347.4 429.4,337.6 430.4,327.9 431.4,317.9 432.4,307.0 433.4,300.0 434.4,296.0 435.4,297.5 436.4,302.2 437.4,301.5 438.4,297.8 439.4,292.1 440.4,286.5 441.4,282.2 442.4,278.5 443.4,275.1 444.4,274.1 445.4,275.7 446.4,283.3 447.4,289.2 448.4,295.0 449.4,300.5 450.4,305.5 451.4,309.9 452.4,313.8 453.4,318.1 454.4,324.5 455.4,332.1 456.4,339.8 457.4,346.9 458.4,354.6 459.4,366.7 460.4,371.6 461.4,376.2 462.4,380.6 463.4,384.8 464.4,388.8 465.4,392.8 466.4,396.7 467.4,400.5 468.4,404.0 469.4,407.0 470.4,409.6 471.4,409.8 472.4,408.9 473.4,407.5 474.4,404.3 475.4,400.0 476.4,395.5 477.4,390.9 478.4,386.0 479.4,381.1 480.4,376.2 481.4,371.2 482.4,366.5 483.4,361.9 484.4,357.7 485.4,354.5 486.4,353.8 487.4,355.3 488.4,357.9 489.4,361.8 490.4,366.5 491.4,371.7 492.4,377.4 493.4,382.8 494.4,387.1 495.4,390.5 496.4,393.7 497.4,396.9 498.4,399.9 499.4,402.6 500.4,405.0 501.4,407.0 502.4,408.6 503.4,410.1 504.4,411.5 505.4,412.7 506.4,413.9 507.4,415.1 508.4,416.2 509.4,417.3 510.4,418.4 511.4,419.3 512.4,420.1 513.4,420.7 514.4,421.3 515.4,421.7 516.4,422.2 517.4,422.5 518.4,422.9 519.4,423.3 520.4,423.6 521.4,423.9 522.4,424.3 523.4,424.5 524.4,424.8 525.4,425.0 526.4,425.3 527.4,425.5 528.4,425.7 529.4,425.8 530.4,426.0 531.4,426.2 532.4,426.5 533.4,426.7 534.4,427.0 535.4,427.3 536.4,427.6 537.4,427.9 538.4,428.3 539.4,428.6 540.4,428.8 541.4,428.8 542.4,428.4 543.4,427.7 544.4,426.9 545.4,425.7 546.4,424.1 547.4,422.1 548.4,419.9 549.4,417.6 550.4,415.4 551.4,413.3 552.4,411.2 553.4,409.1 554.4,407.1 555.4,405.0 556.4,402.9 557.4,401.0 558.4,399.4 559.4,398.3 560.4,397.4 561.4,396.7 562.4,396.2 563.4,396.0 564.4,396.1 565.4,396.4 566.4,396.9 567.4,397.4 568.4,398.0 569.4,398.6 570.4,399.3 571.4,400.1 572.4,400.9 573.4,401.7 574.4,402.4 575.4,403.0 576.4,403.5 577.4,404.1 578.4,404.6 579.4,405.1 580.4,405.7 581.4,406.4 582.4,407.1 583.4,408.0 584.4,409.0 585.4,410.0 586.4,411.1 587.4,412.3 588.4,413.6 589.4,415.1 590.4,416.6 591.4,418.1 592.4,419.6 593.4,421.1 594.4,422.5 595.4,424.0 596.4,425.5 597.4,427.0 598.4,428.6 599.4,430.4 600.4,432.5 601.4,434.6 602.4,436.0 603.4,436.8 604.4,437.4 605.4,438.0 606.4,438.4 607.4,438.8 608.4,439.1 609.4,439.3 610.4,439.5 611.4,439.7 612.4,439.9 613.4,440.1 614.4,440.2 615.4,440.3 616.4,440.5 617.4,440.6 618.4,440.7 619.4,440.8 620.4,440.9 621.4,441.0 622.4,441.1 623.4,441.1 624.4,441.1 625.4,441.1 626.4,441.1 627.4,441.1 628.4,441.1 629.4,441.1 630.4,441.0 631.4,441.0 632.4,441.0 633.4,440.9 634.4,440.8 635.4,440.7 636.4,440.5 637.4,440.4 638.4,440.2 639.4,440.0 640.4,439.7 641.4,439.1 642.4,438.4 643.4,437.5 644.4,436.5 645.4,435.5 646.4,434.3 647.4,433.0 648.4,431.8 649.4,431.0 650.4,431.1 651.4,432.7 652.4,435.3 653.4,437.4 654.4,438.0 655.4,437.9 656.4,437.7 657.4,437.5 658.4,437.1 659.4,436.7 660.4,436.2 661.4,435.7 662.4,435.2 663.4,434.6 664.4,434.1 665.4,433.6 666.4,433.2 667.4,432.8 668.4,432.4 669.4,432.0 670.4,431.6 671.4,431.2 672.4,430.9 673.4,430.5 674.4,430.1 675.4,429.7 676.4,429.3 677.4,428.9 678.4,428.5 679.4,428.1 680.4,427.6 681.4,427.2 682.4,426.7 683.4,426.2 684.4,425.7 685.4,425.1 686.4,424.5 687.4,423.9 688.4,423.0 689.4,422.1 690.4,421.2 691.4,420.3 692.4,419.5 693.4,418.7 694.4,417.9" fill="none" stroke="#a7a51f" stroke-width="1.3" stroke-linejoin="round" stroke-linecap="round"/>
<path d="M374.4,455.7 375.4,455.7 376.4,455.6 377.4,455.6 378.4,455.6 379.4,455.5 380.4,455.4 381.4,455.3 382.4,455.2 383.4,455.1 384.4,455.0 385.4,454.9 386.4,454.7 387.4,454.6 388.4,454.4 389.4,454.2 390.4,454.1 391.4,453.9 392.4,453.7 393.4,453.5 394.4,453.2 395.4,453.0 396.4,452.8 397.4,452.6 398.4,452.3 399.4,452.1 400.4,451.8 401.4,451.5 402.4,451.3 403.4,451.0 404.4,450.6 405.4,450.3 406.4,449.8 407.4,449.3 408.4,448.7 409.4,448.1 410.4,447.3 411.4,446.4 412.4,445.4 413.4,443.9 414.4,441.8 415.4,439.1 416.4,436.0 417.4,432.4 418.4,428.5 419.4,423.1 420.4,415.6 421.4,406.8 422.4,397.6 423.4,388.9 424.4,380.6 425.4,372.1 426.4,364.0 427.4,356.3 428.4,348.0 429.4,338.5 430.4,329.2 431.4,319.4 432.4,308.7 433.4,301.6 434.4,297.3 435.4,299.1 436.4,304.4 437.4,304.1 438.4,300.3 439.4,294.4 440.4,288.4 441.4,283.7 442.4,279.6 443.4,275.8 444.4,274.7 445.4,276.5 446.4,284.9 447.4,291.5 448.4,297.8 449.4,303.9 450.4,309.2 451.4,313.8 452.4,317.7 453.4,321.7 454.4,327.7 455.4,335.0 456.4,342.5 457.4,349.5 458.4,356.9 459.4,367.7 460.4,372.6 461.4,377.2 462.4,381.6 463.4,385.7 464.4,389.7 465.4,393.6 466.4,397.5 467.4,401.4 468.4,405.0 469.4,408.0 470.4,410.5 471.4,410.7 472.4,409.7 473.4,408.3 474.4,405.2 475.4,401.0 476.4,396.7 477.4,392.3 478.4,387.5 479.4,382.8 480.4,378.0 481.4,373.2 482.4,368.6 483.4,363.9 484.4,359.9 485.4,357.3 486.4,356.9 487.4,358.4 488.4,361.0 489.4,365.0 490.4,369.6 491.4,374.6 492.4,380.3 493.4,385.4 494.4,389.7 495.4,393.3 496.4,396.7 497.4,400.1 498.4,403.0 499.4,405.6 500.4,407.9 501.4,409.7 502.4,411.3 503.4,412.7 504.4,413.9 505.4,415.0 506.4,416.0 507.4,417.1 508.4,418.1 509.4,419.1 510.4,420.0 511.4,420.8 512.4,421.5 513.4,422.0 514.4,422.5 515.4,422.9 516.4,423.3 517.4,423.7 518.4,424.0 519.4,424.4 520.4,424.7 521.4,425.0 522.4,425.3 523.4,425.6 524.4,425.9 525.4,426.1 526.4,426.3 527.4,426.5 528.4,426.6 529.4,426.8 530.4,427.0 531.4,427.2 532.4,427.4 533.4,427.7 534.4,428.0 535.4,428.3 536.4,428.7 537.4,429.0 538.4,429.4 539.4,429.7 540.4,429.9 541.4,429.9 542.4,429.6 543.4,428.9 544.4,428.0 545.4,426.8 546.4,425.1 547.4,423.0 548.4,420.8 549.4,418.5 550.4,416.3 551.4,414.1 552.4,412.0 553.4,409.9 554.4,407.9 555.4,405.9 556.4,403.9 557.4,402.0 558.4,400.4 559.4,399.3 560.4,398.4 561.4,397.7 562.4,397.3 563.4,397.0 564.4,397.1 565.4,397.3 566.4,397.8 567.4,398.3 568.4,398.9 569.4,399.4 570.4,400.2 571.4,401.1 572.4,402.1 573.4,403.0 574.4,403.8 575.4,404.4 576.4,405.1 577.4,405.6 578.4,406.2 579.4,406.8 580.4,407.3 581.4,408.0 582.4,408.7 583.4,409.6 584.4,410.5 585.4,411.5 586.4,412.6 587.4,413.7 588.4,415.0 589.4,416.5 590.4,418.0 591.4,419.5 592.4,421.0 593.4,422.4 594.4,423.8 595.4,425.3 596.4,426.8 597.4,428.4 598.4,430.0 599.4,431.7 600.4,433.7 601.4,435.7 602.4,437.1 603.4,438.0 604.4,438.7 605.4,439.2 606.4,439.7 607.4,440.1 608.4,440.4 609.4,440.7 610.4,440.9 611.4,441.1 612.4,441.3 613.4,441.4 614.4,441.6 615.4,441.7 616.4,441.9 617.4,442.0 618.4,442.1 619.4,442.2 620.4,442.3 621.4,442.4 622.4,442.5 623.4,442.6 624.4,442.6 625.4,442.6 626.4,442.6 627.4,442.6 628.4,442.6 629.4,442.5 630.4,442.5 631.4,442.5 632.4,442.5 633.4,442.4 634.4,442.3 635.4,442.1 636.4,441.9 637.4,441.7 638.4,441.5 639.4,441.2 640.4,440.9 641.4,440.4 642.4,439.7 643.4,438.8 644.4,437.9 645.4,436.9 646.4,435.6 647.4,434.1 648.4,432.8 649.4,431.9 650.4,431.9 651.4,433.8 652.4,436.5 653.4,438.5 654.4,439.0 655.4,439.0 656.4,438.8 657.4,438.5 658.4,438.2 659.4,437.8 660.4,437.4 661.4,436.9 662.4,436.4 663.4,435.9 664.4,435.4 665.4,434.9 666.4,434.4 667.4,434.0 668.4,433.6 669.4,433.2 670.4,432.8 671.4,432.5 672.4,432.1 673.4,431.7 674.4,431.3 675.4,430.9 676.4,430.5 677.4,430.2 678.4,429.8 679.4,429.3 680.4,428.9 681.4,428.4 682.4,428.0 683.4,427.5 684.4,427.0 685.4,426.4 686.4,425.8 687.4,425.1 688.4,424.2 689.4,423.2 690.4,422.2 691.4,421.2 692.4,420.3 693.4,419.5 694.4,418.6" fill="none" stroke="#f0690f" stroke-width="1.5" stroke-linejoin="round" stroke-linecap="round"/>
<path d="M374.4,455.7 375.4,455.7 376.4,455.7 377.4,455.7 378.4,455.6 379.4,455.6 380.4,455.5 381.4,455.4 382.4,455.3 383.4,455.2 384.4,455.1 385.4,455.0 386.4,454.8 387.4,454.7 388.4,454.5 389.4,454.4 390.4,454.2 391.4,454.0 392.4,453.8 393.4,453.6 394.4,453.4 395.4,453.2 396.4,452.9 397.4,452.7 398.4,452.5 399.4,452.2 400.4,452.0 401.4,451.7 402.4,451.4 403.4,451.2 404.4,450.8 405.4,450.5 406.4,450.0 407.4,449.5 408.4,448.9 409.4,448.3 410.4,447.6 411.4,446.7 412.4,445.7 413.4,444.2 414.4,442.1 415.4,439.5 416.4,436.4 417.4,432.9 418.4,428.9 419.4,423.7 420.4,416.1 421.4,407.3 422.4,398.1 423.4,389.5 424.4,381.2 425.4,372.8 426.4,364.7 427.4,356.8 428.4,348.6 429.4,339.5 430.4,330.4 431.4,320.9 432.4,310.4 433.4,303.2 434.4,298.6 435.4,300.6 436.4,306.6 437.4,306.6 438.4,302.9 439.4,296.7 440.4,290.3 441.4,285.2 442.4,280.7 443.4,276.6 444.4,275.3 445.4,277.2 446.4,286.5 447.4,293.7 448.4,300.7 449.4,307.2 450.4,312.9 451.4,317.7 452.4,321.6 453.4,325.3 454.4,330.9 455.4,338.0 456.4,345.2 457.4,352.2 458.4,359.3 459.4,368.7 460.4,373.6 461.4,378.2 462.4,382.5 463.4,386.6 464.4,390.6 465.4,394.5 466.4,398.4 467.4,402.4 468.4,405.9 469.4,409.0 470.4,411.4 471.4,411.6 472.4,410.6 473.4,409.0 474.4,406.0 475.4,402.0 476.4,397.8 477.4,393.6 478.4,389.1 479.4,384.5 480.4,379.9 481.4,375.2 482.4,370.7 483.4,365.9 484.4,362.0 485.4,360.0 486.4,360.0 487.4,361.5 488.4,364.2 489.4,368.1 490.4,372.6 491.4,377.6 492.4,383.1 493.4,388.1 494.4,392.3 495.4,396.0 496.4,399.7 497.4,403.3 498.4,406.1 499.4,408.6 500.4,410.7 501.4,412.5 502.4,413.9 503.4,415.2 504.4,416.3 505.4,417.3 506.4,418.2 507.4,419.1 508.4,420.0 509.4,420.8 510.4,421.6 511.4,422.3 512.4,422.9 513.4,423.3 514.4,423.8 515.4,424.2 516.4,424.5 517.4,424.8 518.4,425.2 519.4,425.5 520.4,425.8 521.4,426.1 522.4,426.4 523.4,426.7 524.4,426.9 525.4,427.1 526.4,427.3 527.4,427.4 528.4,427.6 529.4,427.8 530.4,427.9 531.4,428.1 532.4,428.4 533.4,428.7 534.4,429.0 535.4,429.4 536.4,429.7 537.4,430.1 538.4,430.5 539.4,430.8 540.4,431.1 541.4,431.1 542.4,430.7 543.4,430.0 544.4,429.2 545.4,427.8 546.4,426.1 547.4,424.0 548.4,421.8 549.4,419.4 550.4,417.2 551.4,415.0 552.4,412.8 553.4,410.7 554.4,408.7 555.4,406.7 556.4,404.8 557.4,403.0 558.4,401.4 559.4,400.3 560.4,399.4 561.4,398.8 562.4,398.3 563.4,398.1 564.4,398.1 565.4,398.3 566.4,398.7 567.4,399.2 568.4,399.7 569.4,400.2 570.4,401.1 571.4,402.2 572.4,403.3 573.4,404.4 574.4,405.2 575.4,405.9 576.4,406.6 577.4,407.2 578.4,407.8 579.4,408.4 580.4,409.0 581.4,409.6 582.4,410.3 583.4,411.1 584.4,412.0 585.4,413.0 586.4,414.0 587.4,415.2 588.4,416.5 589.4,417.9 590.4,419.4 591.4,420.9 592.4,422.3 593.4,423.7 594.4,425.2 595.4,426.6 596.4,428.2 597.4,429.7 598.4,431.4 599.4,433.1 600.4,434.9 601.4,436.8 602.4,438.2 603.4,439.2 604.4,439.9 605.4,440.5 606.4,441.0 607.4,441.4 608.4,441.7 609.4,442.0 610.4,442.3 611.4,442.5 612.4,442.7 613.4,442.8 614.4,443.0 615.4,443.1 616.4,443.3 617.4,443.4 618.4,443.5 619.4,443.7 620.4,443.8 621.4,443.9 622.4,443.9 623.4,444.0 624.4,444.0 625.4,444.0 626.4,444.0 627.4,444.0 628.4,444.0 629.4,444.0 630.4,444.0 631.4,444.0 632.4,443.9 633.4,443.9 634.4,443.7 635.4,443.5 636.4,443.3 637.4,443.0 638.4,442.8 639.4,442.5 640.4,442.1 641.4,441.6 642.4,440.9 643.4,440.2 644.4,439.3 645.4,438.3 646.4,437.0 647.4,435.3 648.4,433.7 649.4,432.7 650.4,432.8 651.4,434.8 652.4,437.7 653.4,439.7 654.4,440.1 655.4,440.0 656.4,439.8 657.4,439.6 658.4,439.3 659.4,439.0 660.4,438.6 661.4,438.1 662.4,437.6 663.4,437.1 664.4,436.6 665.4,436.1 666.4,435.7 667.4,435.3 668.4,434.9 669.4,434.5 670.4,434.1 671.4,433.7 672.4,433.3 673.4,432.9 674.4,432.5 675.4,432.2 676.4,431.8 677.4,431.4 678.4,431.0 679.4,430.6 680.4,430.1 681.4,429.7 682.4,429.2 683.4,428.8 684.4,428.3 685.4,427.7 686.4,427.1 687.4,426.4 688.4,425.4 689.4,424.3 690.4,423.1 691.4,422.1 692.4,421.1 693.4,420.2 694.4,419.4" fill="none" stroke="#d98fc0" stroke-width="1.1" stroke-linejoin="round" stroke-linecap="round"/>
<path d="M374.4,455.8 375.4,455.8 376.4,455.8 377.4,455.8 378.4,455.7 379.4,455.7 380.4,455.6 381.4,455.5 382.4,455.4 383.4,455.3 384.4,455.2 385.4,455.1 386.4,454.9 387.4,454.8 388.4,454.6 389.4,454.5 390.4,454.3 391.4,454.1 392.4,453.9 393.4,453.7 394.4,453.5 395.4,453.3 396.4,453.1 397.4,452.9 398.4,452.6 399.4,452.4 400.4,452.1 401.4,451.9 402.4,451.6 403.4,451.3 404.4,451.0 405.4,450.7 406.4,450.2 407.4,449.7 408.4,449.2 409.4,448.5 410.4,447.8 411.4,447.0 412.4,446.0 413.4,444.5 414.4,442.5 415.4,439.9 416.4,436.8 417.4,433.3 418.4,429.4 419.4,424.2 420.4,416.7 421.4,407.8 422.4,398.7 423.4,390.1 424.4,381.8 425.4,373.5 426.4,365.4 427.4,357.4 428.4,349.2 429.4,340.4 430.4,331.7 431.4,322.4 432.4,312.1 433.4,304.8 434.4,299.9 435.4,302.1 436.4,308.8 437.4,309.2 438.4,305.4 439.4,299.0 440.4,292.2 441.4,286.7 442.4,281.8 443.4,277.3 444.4,276.0 445.4,278.0 446.4,288.1 447.4,295.9 448.4,303.5 449.4,310.6 450.4,316.6 451.4,321.7 452.4,325.4 453.4,328.9 454.4,334.1 455.4,340.9 456.4,347.9 457.4,354.8 458.4,361.7 459.4,369.8 460.4,374.6 461.4,379.2 462.4,383.5 463.4,387.5 464.4,391.4 465.4,395.3 466.4,399.3 467.4,403.3 468.4,406.8 469.4,409.9 470.4,412.4 471.4,412.5 472.4,411.4 473.4,409.8 474.4,406.9 475.4,403.0 476.4,399.0 477.4,394.9 478.4,390.6 479.4,386.2 480.4,381.7 481.4,377.2 482.4,372.8 483.4,368.0 484.4,364.1 485.4,362.8 486.4,363.1 487.4,364.6 488.4,367.3 489.4,371.3 490.4,375.6 491.4,380.6 492.4,385.9 493.4,390.7 494.4,394.9 495.4,398.8 496.4,402.7 497.4,406.4 498.4,409.2 499.4,411.6 500.4,413.6 501.4,415.3 502.4,416.6 503.4,417.7 504.4,418.7 505.4,419.6 506.4,420.3 507.4,421.1 508.4,421.8 509.4,422.5 510.4,423.2 511.4,423.7 512.4,424.2 513.4,424.7 514.4,425.0 515.4,425.4 516.4,425.7 517.4,426.0 518.4,426.3 519.4,426.6 520.4,426.9 521.4,427.2 522.4,427.5 523.4,427.7 524.4,428.0 525.4,428.1 526.4,428.3 527.4,428.4 528.4,428.6 529.4,428.7 530.4,428.9 531.4,429.1 532.4,429.4 533.4,429.7 534.4,430.1 535.4,430.5 536.4,430.8 537.4,431.2 538.4,431.6 539.4,432.0 540.4,432.2 541.4,432.2 542.4,431.8 543.4,431.2 544.4,430.3 545.4,428.9 546.4,427.0 547.4,424.9 548.4,422.7 549.4,420.4 550.4,418.0 551.4,415.8 552.4,413.7 553.4,411.5 554.4,409.5 555.4,407.6 556.4,405.7 557.4,404.0 558.4,402.5 559.4,401.3 560.4,400.5 561.4,399.9 562.4,399.4 563.4,399.2 564.4,399.1 565.4,399.2 566.4,399.6 567.4,400.0 568.4,400.5 569.4,401.1 570.4,402.0 571.4,403.2 572.4,404.6 573.4,405.7 574.4,406.6 575.4,407.4 576.4,408.1 577.4,408.7 578.4,409.4 579.4,410.0 580.4,410.6 581.4,411.2 582.4,411.9 583.4,412.7 584.4,413.6 585.4,414.5 586.4,415.5 587.4,416.6 588.4,417.9 589.4,419.3 590.4,420.8 591.4,422.3 592.4,423.7 593.4,425.1 594.4,426.5 595.4,427.9 596.4,429.5 597.4,431.1 598.4,432.7 599.4,434.4 600.4,436.1 601.4,437.9 602.4,439.3 603.4,440.4 604.4,441.1 605.4,441.7 606.4,442.3 607.4,442.7 608.4,443.1 609.4,443.4 610.4,443.6 611.4,443.9 612.4,444.1 613.4,444.2 614.4,444.4 615.4,444.5 616.4,444.7 617.4,444.8 618.4,444.9 619.4,445.1 620.4,445.2 621.4,445.3 622.4,445.4 623.4,445.5 624.4,445.5 625.4,445.5 626.4,445.5 627.4,445.5 628.4,445.5 629.4,445.5 630.4,445.5 631.4,445.4 632.4,445.4 633.4,445.3 634.4,445.2 635.4,445.0 636.4,444.7 637.4,444.4 638.4,444.1 639.4,443.7 640.4,443.4 641.4,442.9 642.4,442.2 643.4,441.5 644.4,440.6 645.4,439.7 646.4,438.3 647.4,436.5 648.4,434.7 649.4,433.5 650.4,433.7 651.4,435.9 652.4,438.8 653.4,440.8 654.4,441.1 655.4,441.0 656.4,440.9 657.4,440.6 658.4,440.4 659.4,440.1 660.4,439.7 661.4,439.3 662.4,438.8 663.4,438.3 664.4,437.8 665.4,437.4 666.4,436.9 667.4,436.5 668.4,436.1 669.4,435.7 670.4,435.3 671.4,434.9 672.4,434.5 673.4,434.1 674.4,433.7 675.4,433.4 676.4,433.0 677.4,432.6 678.4,432.2 679.4,431.8 680.4,431.4 681.4,430.9 682.4,430.5 683.4,430.0 684.4,429.6 685.4,429.0 686.4,428.4 687.4,427.7 688.4,426.6 689.4,425.4 690.4,424.1 691.4,423.0 692.4,422.0 693.4,421.0 694.4,420.1" fill="none" stroke="#c9980e" stroke-width="1.4" stroke-linejoin="round" stroke-linecap="round"/>
<path d="M374.4,455.9 375.4,455.9 376.4,455.9 377.4,455.9 378.4,455.8 379.4,455.8 380.4,455.7 381.4,455.6 382.4,455.5 383.4,455.4 384.4,455.3 385.4,455.2 386.4,455.0 387.4,454.9 388.4,454.7 389.4,454.6 390.4,454.4 391.4,454.2 392.4,454.0 393.4,453.8 394.4,453.6 395.4,453.4 396.4,453.2 397.4,453.0 398.4,452.8 399.4,452.5 400.4,452.3 401.4,452.1 402.4,451.8 403.4,451.5 404.4,451.2 405.4,450.9 406.4,450.4 407.4,450.0 408.4,449.4 409.4,448.8 410.4,448.1 411.4,447.3 412.4,446.3 413.4,444.8 414.4,442.8 415.4,440.3 416.4,437.2 417.4,433.8 418.4,429.9 419.4,424.7 420.4,417.2 421.4,408.4 422.4,399.2 423.4,390.6 424.4,382.5 425.4,374.2 426.4,366.1 427.4,358.0 428.4,349.8 429.4,341.4 430.4,333.0 431.4,323.9 432.4,313.8 433.4,306.4 434.4,301.2 435.4,303.6 436.4,311.1 437.4,311.8 438.4,307.9 439.4,301.3 440.4,294.1 441.4,288.2 442.4,282.9 443.4,278.0 444.4,276.6 445.4,278.8 446.4,289.7 447.4,298.2 448.4,306.4 449.4,313.9 450.4,320.3 451.4,325.6 452.4,329.3 453.4,332.5 454.4,337.3 455.4,343.8 456.4,350.6 457.4,357.4 458.4,364.1 459.4,370.8 460.4,375.6 461.4,380.1 462.4,384.4 463.4,388.4 464.4,392.3 465.4,396.2 466.4,400.2 467.4,404.2 468.4,407.8 469.4,410.9 470.4,413.3 471.4,413.4 472.4,412.2 473.4,410.6 474.4,407.8 475.4,404.0 476.4,400.1 477.4,396.2 478.4,392.1 479.4,387.9 480.4,383.6 481.4,379.2 482.4,374.9 483.4,370.0 484.4,366.2 485.4,365.5 486.4,366.1 487.4,367.6 488.4,370.5 489.4,374.4 490.4,378.7 491.4,383.6 492.4,388.7 493.4,393.3 494.4,397.5 495.4,401.5 496.4,405.7 497.4,409.6 498.4,412.3 499.4,414.6 500.4,416.5 501.4,418.0 502.4,419.2 503.4,420.2 504.4,421.1 505.4,421.8 506.4,422.5 507.4,423.1 508.4,423.7 509.4,424.2 510.4,424.7 511.4,425.2 512.4,425.6 513.4,426.0 514.4,426.3 515.4,426.6 516.4,426.9 517.4,427.1 518.4,427.4 519.4,427.7 520.4,428.0 521.4,428.3 522.4,428.5 523.4,428.8 524.4,429.0 525.4,429.2 526.4,429.3 527.4,429.4 528.4,429.5 529.4,429.7 530.4,429.8 531.4,430.0 532.4,430.3 533.4,430.7 534.4,431.1 535.4,431.5 536.4,431.9 537.4,432.3 538.4,432.7 539.4,433.1 540.4,433.3 541.4,433.3 542.4,433.0 543.4,432.3 544.4,431.5 545.4,430.0 546.4,428.0 547.4,425.9 548.4,423.7 549.4,421.3 550.4,418.9 551.4,416.7 552.4,414.5 553.4,412.4 554.4,410.3 555.4,408.4 556.4,406.7 557.4,405.0 558.4,403.5 559.4,402.3 560.4,401.5 561.4,401.0 562.4,400.5 563.4,400.2 564.4,400.1 565.4,400.2 566.4,400.5 567.4,400.9 568.4,401.4 569.4,401.9 570.4,402.9 571.4,404.3 572.4,405.8 573.4,407.0 574.4,408.0 575.4,408.8 576.4,409.6 577.4,410.3 578.4,411.0 579.4,411.6 580.4,412.2 581.4,412.8 582.4,413.5 583.4,414.3 584.4,415.1 585.4,416.0 586.4,416.9 587.4,418.0 588.4,419.3 589.4,420.7 590.4,422.2 591.4,423.6 592.4,425.0 593.4,426.4 594.4,427.8 595.4,429.3 596.4,430.8 597.4,432.5 598.4,434.1 599.4,435.7 600.4,437.3 601.4,439.0 602.4,440.5 603.4,441.6 604.4,442.3 605.4,443.0 606.4,443.5 607.4,444.0 608.4,444.4 609.4,444.7 610.4,445.0 611.4,445.2 612.4,445.4 613.4,445.6 614.4,445.8 615.4,445.9 616.4,446.1 617.4,446.2 618.4,446.4 619.4,446.5 620.4,446.6 621.4,446.7 622.4,446.8 623.4,446.9 624.4,446.9 625.4,446.9 626.4,446.9 627.4,446.9 628.4,446.9 629.4,446.9 630.4,446.9 631.4,446.9 632.4,446.9 633.4,446.8 634.4,446.6 635.4,446.4 636.4,446.1 637.4,445.7 638.4,445.4 639.4,445.0 640.4,444.6 641.4,444.1 642.4,443.5 643.4,442.8 644.4,442.0 645.4,441.1 646.4,439.6 647.4,437.6 648.4,435.7 649.4,434.4 650.4,434.5 651.4,436.9 652.4,440.0 653.4,442.0 654.4,442.1 655.4,442.1 656.4,441.9 657.4,441.7 658.4,441.5 659.4,441.2 660.4,440.9 661.4,440.5 662.4,440.0 663.4,439.5 664.4,439.1 665.4,438.6 666.4,438.2 667.4,437.8 668.4,437.4 669.4,437.0 670.4,436.6 671.4,436.2 672.4,435.8 673.4,435.4 674.4,435.0 675.4,434.6 676.4,434.2 677.4,433.8 678.4,433.4 679.4,433.0 680.4,432.6 681.4,432.2 682.4,431.7 683.4,431.3 684.4,430.8 685.4,430.3 686.4,429.7 687.4,429.0 688.4,427.8 689.4,426.5 690.4,425.1 691.4,423.8 692.4,422.8 693.4,421.8 694.4,420.9" fill="none" stroke="#f0690f" stroke-width="1.6" stroke-linejoin="round" stroke-linecap="round"/>
<path d="M374.4,456.0 375.4,456.0 376.4,456.0 377.4,455.9 378.4,455.9 379.4,455.8 380.4,455.8 381.4,455.7 382.4,455.6 383.4,455.5 384.4,455.4 385.4,455.3 386.4,455.1 387.4,455.0 388.4,454.9 389.4,454.7 390.4,454.5 391.4,454.4 392.4,454.2 393.4,454.0 394.4,453.8 395.4,453.6 396.4,453.4 397.4,453.1 398.4,452.9 399.4,452.7 400.4,452.5 401.4,452.2 402.4,452.0 403.4,451.7 404.4,451.4 405.4,451.0 406.4,450.6 407.4,450.2 408.4,449.6 409.4,449.0 410.4,448.3 411.4,447.5 412.4,446.6 413.4,445.2 414.4,443.2 415.4,440.6 416.4,437.6 417.4,434.2 418.4,430.4 419.4,425.2 420.4,417.7 421.4,408.9 422.4,399.7 423.4,391.2 424.4,383.1 425.4,374.9 426.4,366.7 427.4,358.5 428.4,350.4 429.4,342.4 430.4,334.2 431.4,325.4 432.4,315.5 433.4,308.0 434.4,302.4 435.4,305.1 436.4,313.3 437.4,314.3 438.4,310.4 439.4,303.6 440.4,296.0 441.4,289.7 442.4,284.0 443.4,278.8 444.4,277.2 445.4,279.6 446.4,291.3 447.4,300.4 448.4,309.2 449.4,317.3 450.4,324.0 451.4,329.6 452.4,333.1 453.4,336.1 454.4,340.5 455.4,346.7 456.4,353.3 457.4,360.0 458.4,366.4 459.4,371.8 460.4,376.6 461.4,381.1 462.4,385.4 463.4,389.3 464.4,393.2 465.4,397.0 466.4,401.1 467.4,405.2 468.4,408.7 469.4,411.8 470.4,414.2 471.4,414.3 472.4,413.1 473.4,411.4 474.4,408.6 475.4,405.0 476.4,401.3 477.4,397.6 478.4,393.6 479.4,389.6 480.4,385.4 481.4,381.2 482.4,377.0 483.4,372.1 484.4,368.3 485.4,368.2 486.4,369.2 487.4,370.7 488.4,373.7 489.4,377.6 490.4,381.7 491.4,386.6 492.4,391.5 493.4,395.9 494.4,400.1 495.4,404.3 496.4,408.7 497.4,412.7 498.4,415.4 499.4,417.6 500.4,419.3 501.4,420.8 502.4,421.9 503.4,422.8 504.4,423.5 505.4,424.1 506.4,424.7 507.4,425.1 508.4,425.6 509.4,426.0 510.4,426.3 511.4,426.7 512.4,427.0 513.4,427.3 514.4,427.5 515.4,427.8 516.4,428.0 517.4,428.3 518.4,428.5 519.4,428.8 520.4,429.1 521.4,429.3 522.4,429.6 523.4,429.8 524.4,430.0 525.4,430.2 526.4,430.3 527.4,430.4 528.4,430.5 529.4,430.6 530.4,430.8 531.4,431.0 532.4,431.3 533.4,431.7 534.4,432.1 535.4,432.6 536.4,433.0 537.4,433.4 538.4,433.8 539.4,434.2 540.4,434.5 541.4,434.5 542.4,434.1 543.4,433.5 544.4,432.6 545.4,431.1 546.4,429.0 547.4,426.8 548.4,424.6 549.4,422.3 550.4,419.8 551.4,417.5 552.4,415.3 553.4,413.2 554.4,411.1 555.4,409.3 556.4,407.6 557.4,406.0 558.4,404.5 559.4,403.3 560.4,402.5 561.4,402.0 562.4,401.6 563.4,401.3 564.4,401.1 565.4,401.1 566.4,401.4 567.4,401.7 568.4,402.2 569.4,402.7 570.4,403.8 571.4,405.3 572.4,407.0 573.4,408.4 574.4,409.4 575.4,410.3 576.4,411.1 577.4,411.9 578.4,412.6 579.4,413.2 580.4,413.8 581.4,414.5 582.4,415.1 583.4,415.9 584.4,416.6 585.4,417.5 586.4,418.4 587.4,419.5 588.4,420.7 589.4,422.1 590.4,423.6 591.4,425.0 592.4,426.4 593.4,427.7 594.4,429.1 595.4,430.6 596.4,432.2 597.4,433.8 598.4,435.5 599.4,437.0 600.4,438.5 601.4,440.1 602.4,441.6 603.4,442.8 604.4,443.6 605.4,444.2 606.4,444.8 607.4,445.3 608.4,445.7 609.4,446.1 610.4,446.4 611.4,446.6 612.4,446.8 613.4,447.0 614.4,447.2 615.4,447.3 616.4,447.5 617.4,447.6 618.4,447.8 619.4,447.9 620.4,448.1 621.4,448.2 622.4,448.3 623.4,448.4 624.4,448.4 625.4,448.4 626.4,448.4 627.4,448.4 628.4,448.4 629.4,448.4 630.4,448.4 631.4,448.4 632.4,448.4 633.4,448.3 634.4,448.1 635.4,447.8 636.4,447.5 637.4,447.1 638.4,446.7 639.4,446.2 640.4,445.8 641.4,445.3 642.4,444.8 643.4,444.1 644.4,443.4 645.4,442.5 646.4,441.0 647.4,438.8 648.4,436.6 649.4,435.2 650.4,435.4 651.4,438.0 652.4,441.2 653.4,443.1 654.4,443.2 655.4,443.1 656.4,442.9 657.4,442.8 658.4,442.6 659.4,442.4 660.4,442.1 661.4,441.7 662.4,441.2 663.4,440.8 664.4,440.3 665.4,439.8 666.4,439.4 667.4,439.0 668.4,438.6 669.4,438.2 670.4,437.8 671.4,437.4 672.4,437.0 673.4,436.6 674.4,436.2 675.4,435.8 676.4,435.4 677.4,435.1 678.4,434.7 679.4,434.3 680.4,433.9 681.4,433.4 682.4,433.0 683.4,432.6 684.4,432.1 685.4,431.6 686.4,431.0 687.4,430.3 688.4,429.0 689.4,427.6 690.4,426.0 691.4,424.7 692.4,423.6 693.4,422.6 694.4,421.6" fill="none" stroke="#7e4c4c" stroke-width="1.6" stroke-linejoin="round" stroke-linecap="round"/>
<path d="M131.0,318.0 131.5,316.3 132.0,314.6 132.5,312.9 133.0,311.4 133.5,309.9 134.0,308.5 134.5,307.2 135.0,306.0 135.5,305.0 136.0,304.0 136.5,303.1 137.0,302.2 137.5,301.4 138.0,300.6 138.5,299.8 139.0,299.2 139.5,298.6 140.0,298.1 140.5,297.8 141.0,297.5 141.5,297.3 142.0,297.1 142.5,296.9 143.0,296.8 143.5,296.7 144.0,296.6 144.5,296.5 145.0,296.5 145.5,296.5 146.0,296.5 146.5,296.6 147.0,296.7 147.5,296.7 148.0,296.8 148.5,296.9 149.0,297.0 149.5,297.2 150.0,297.3 150.5,297.4 151.0,297.5 151.5,297.7 152.0,297.8 152.5,298.0 153.0,298.2 153.5,298.4 154.0,298.6 154.5,298.9 155.0,299.1 155.5,299.4 156.0,299.7 156.5,300.0 157.0,300.4 157.5,300.8 158.0,301.3 158.5,301.7 159.0,302.3 159.5,302.8 160.0,303.4 160.5,303.9 161.0,304.5 161.5,305.1 162.0,305.7 162.5,306.4 163.0,307.1 163.5,307.9 164.0,308.6 164.5,309.3 165.0,310.0 165.5,310.6 166.0,311.1 166.5,311.5 167.0,311.9 167.5,312.2 168.0,312.5 168.5,312.9 169.0,313.2 169.5,313.6 170.0,314.1 170.5,314.6 171.0,315.2 171.5,315.9 172.0,316.5 172.5,317.3 173.0,318.0" fill="none" stroke="#5d8fd2" stroke-width="1.6"/>
<path d="M208.0,401.0 208.5,400.8 209.0,400.5 209.5,400.1 210.0,399.7 210.5,399.3 211.0,398.9 211.5,398.4 212.0,397.9 212.5,397.4 213.0,396.8 213.5,396.3 214.0,395.7 214.5,395.0 215.0,394.2 215.5,393.3 216.0,392.4 216.5,391.6 217.0,391.0 217.5,390.5 218.0,389.9 218.5,389.4 219.0,388.9 219.5,388.5 220.0,388.3 220.5,388.1 221.0,388.1 221.5,388.4 222.0,388.7 222.5,389.2 223.0,389.7 223.5,390.1 224.0,390.5 224.5,390.7 225.0,390.9 225.5,391.0 226.0,391.1 226.5,391.2 227.0,391.3 227.5,391.5 228.0,391.9 228.5,392.6 229.0,393.4 229.5,394.3 230.0,395.3 230.5,396.2 231.0,396.9 231.5,397.5 232.0,398.1 232.5,398.7 233.0,399.3 233.5,399.8 234.0,400.4 234.5,400.9 235.0,401.5 235.5,402.0 236.0,402.6 236.5,403.2 237.0,403.8 237.5,404.4 238.0,405.1 238.5,405.7 239.0,406.3 239.5,406.9 240.0,407.5 240.5,408.2 241.0,408.8 241.5,409.4 242.0,410.1 242.5,410.7 242.7,411.0" fill="none" stroke="#5d8fd2" stroke-width="1.5"/>
<path d="M40.0,605.3 40.5,605.3 41.0,605.3 41.5,605.3 42.0,605.3 42.5,605.3 43.0,605.3 43.5,605.3 44.0,605.3 44.5,605.3 45.0,605.3 45.5,605.3 46.0,605.3 46.5,605.3 47.0,605.3 47.5,605.3 48.0,605.3 48.5,605.3 49.0,605.3 49.5,605.3 50.0,605.3 50.5,605.3 51.0,605.3 51.5,605.3 52.0,605.3 52.5,605.3 53.0,605.3 53.5,605.3 54.0,605.3 54.5,605.3 55.0,605.3 55.5,605.3 56.0,605.3 56.5,605.3 57.0,605.3 57.5,605.3 58.0,605.3 58.5,605.3 59.0,605.3 59.5,605.3 60.0,605.3 60.5,605.3 61.0,605.3 61.5,605.3 62.0,605.3 62.5,605.3 63.0,605.3 63.5,605.3 64.0,605.3 64.5,605.3 65.0,605.3 65.5,605.3 66.0,605.3 66.5,605.3 67.0,605.3 67.5,605.3 68.0,605.3 68.5,605.3 69.0,605.3 69.5,605.3 70.0,605.3 70.5,605.3 71.0,605.3 71.5,605.3 72.0,605.3 72.5,605.2 73.0,605.1 73.5,605.0 74.0,604.8 74.5,604.6 75.0,604.3 75.5,604.1 76.0,603.8 76.5,603.5 77.0,603.3 77.5,603.0 78.0,602.7 78.5,602.4 79.0,602.2 79.5,601.9 80.0,601.6 80.5,601.3 81.0,601.0 81.5,600.7 82.0,600.3 82.5,600.0 83.0,599.6 83.5,599.3 84.0,598.9 84.5,598.5 85.0,598.2 85.5,597.8 86.0,597.4 86.5,596.9 87.0,596.5 87.5,596.1 88.0,595.6 88.5,595.1 89.0,594.7 89.5,594.2 90.0,593.7 90.5,593.3 91.0,592.8 91.5,592.3 92.0,591.9 92.5,591.5 93.0,591.0 93.5,590.5 94.0,590.1 94.5,589.6 95.0,589.1 95.5,588.7 96.0,588.3 96.5,587.9 97.0,587.5 97.5,587.2 98.0,586.8 98.5,586.5 99.0,586.2 99.5,585.9 100.0,585.6 100.5,585.3 101.0,585.1 101.5,585.0 102.0,584.9 102.5,584.9 103.0,585.1 103.5,585.3 104.0,585.6 104.5,586.0 105.0,586.3 105.5,586.8 106.0,587.2 106.5,587.6 107.0,588.1 107.5,588.6 108.0,589.2 108.5,589.9 109.0,590.6 109.5,591.3 110.0,592.0 110.5,592.7 111.0,593.3 111.5,593.9 112.0,594.4 112.5,594.7 113.0,595.1 113.5,595.5 114.0,595.8 114.5,596.2 115.0,596.5 115.5,596.8 116.0,597.1 116.5,597.3 117.0,597.5 117.5,597.7 118.0,597.9 118.5,598.0 119.0,598.0 119.5,598.0 120.0,598.0 120.5,598.0 121.0,598.0 121.5,597.9 122.0,597.9 122.5,597.9 123.0,597.8 123.5,597.8 124.0,597.7 124.5,597.7 125.0,597.6 125.5,597.6 126.0,597.5 126.5,597.4 127.0,597.2 127.5,597.0 128.0,596.8 128.5,596.5 129.0,596.2 129.5,595.9 130.0,595.6 130.5,595.3 131.0,594.9 131.5,594.7 132.0,594.4 132.5,594.2 133.0,594.0 133.5,593.8 134.0,593.6 134.5,593.4 135.0,593.4 135.5,593.5 136.0,593.6 136.5,593.9 137.0,594.1 137.5,594.5 138.0,594.8 138.5,595.1 139.0,595.5 139.5,595.8 140.0,596.1 140.5,596.5 141.0,596.9 141.5,597.3 142.0,597.8 142.5,598.2 143.0,598.6 143.5,599.0 144.0,599.2 144.5,599.4 145.0,599.5 145.5,599.5 146.0,599.5 146.5,599.4 147.0,599.4 147.5,599.3 148.0,599.3 148.5,599.2 149.0,599.1 149.5,599.1 150.0,599.0 150.5,598.9 151.0,598.8 151.5,598.8 152.0,598.7 152.5,598.6 153.0,598.6 153.5,598.6 154.0,598.5 154.5,598.5 155.0,598.4 155.5,598.4 156.0,598.3 156.5,598.3 157.0,598.2 157.5,598.2 158.0,598.2 158.5,598.1 159.0,598.1 159.5,598.1 160.0,598.0 160.5,598.0 161.0,598.0 161.5,598.0 162.0,598.0 162.5,598.0 163.0,598.1 163.5,598.2 164.0,598.3 164.5,598.4 165.0,598.6 165.5,598.7 166.0,598.9 166.5,599.1 167.0,599.3 167.5,599.5 168.0,599.9 168.5,600.2 169.0,600.6 169.5,601.1 170.0,601.5 170.5,601.9 171.0,602.3 171.5,602.6 172.0,602.9 172.5,603.1 173.0,603.2 173.5,603.2 174.0,603.2 174.5,603.2 175.0,603.1 175.5,603.1 176.0,603.0 176.5,603.0 177.0,602.9 177.5,602.8 178.0,602.7 178.5,602.7 179.0,602.6 179.5,602.5 180.0,602.4 180.5,602.4 181.0,602.3 181.5,602.2 182.0,602.2 182.5,602.1 183.0,602.1 183.5,602.0 184.0,602.0 184.5,602.0 185.0,602.0 185.5,602.0 186.0,602.0 186.5,602.0 187.0,602.1 187.5,602.1 188.0,602.1 188.5,602.2 189.0,602.2 189.5,602.2 190.0,602.3 190.5,602.3 191.0,602.4 191.5,602.4 192.0,602.5 192.5,602.6 193.0,602.6 193.5,602.7 194.0,602.7 194.5,602.8 195.0,602.8 195.5,602.9 196.0,603.0 196.5,603.0 197.0,603.1 197.5,603.1 198.0,603.2 198.5,603.2 199.0,603.3 199.5,603.3 200.0,603.4 200.5,603.5 201.0,603.5 201.5,603.6 202.0,603.7 202.5,603.7 203.0,603.8 203.5,603.9 204.0,603.9 204.5,604.0 205.0,604.1 205.5,604.1 206.0,604.2 206.5,604.3 207.0,604.4 207.5,604.4 208.0,604.5 208.5,604.5 209.0,604.6 209.5,604.7 210.0,604.7 210.5,604.8 211.0,604.8 211.5,604.9 212.0,604.9 212.5,604.9 213.0,605.0 213.5,605.0 214.0,605.0 214.5,605.0 215.0,605.0 215.5,605.0 216.0,605.1 216.5,605.1 217.0,605.1 217.5,605.1 218.0,605.1 218.5,605.1 219.0,605.1 219.5,605.2 220.0,605.2 220.5,605.2 221.0,605.2 221.5,605.2 222.0,605.2 222.5,605.2 223.0,605.2 223.5,605.2 224.0,605.3 224.5,605.3 225.0,605.3 225.5,605.3 226.0,605.3 226.5,605.3 227.0,605.3 227.5,605.3 228.0,605.3 228.5,605.3 229.0,605.3 229.5,605.3 230.0,605.3 230.5,605.3 231.0,605.3 231.5,605.3 232.0,605.3 232.5,605.3 233.0,605.3 233.5,605.3 234.0,605.3 234.5,605.3 235.0,605.3 235.5,605.3 236.0,605.3 236.5,605.3 237.0,605.3 237.5,605.3 238.0,605.3 238.5,605.3 239.0,605.3 239.5,605.3 240.0,605.3 240.5,605.3 241.0,605.3 241.5,605.3 242.0,605.3 242.5,605.3 243.0,605.3 243.5,605.3 244.0,605.3 244.5,605.3 245.0,605.3 245.5,605.3 246.0,605.3 246.5,605.3 247.0,605.3 247.5,605.3 248.0,605.3 248.5,605.3 249.0,605.3 249.5,605.3 250.0,605.3 250.5,605.3 251.0,605.3 251.5,605.3 252.0,605.3 252.5,605.3 253.0,605.3 253.5,605.3 254.0,605.3 254.5,605.3 255.0,605.3 255.5,605.3 256.0,605.3 256.5,605.3 257.0,605.3 257.5,605.3 258.0,605.3 258.5,605.3 259.0,605.3 259.5,605.3 260.0,605.3 260.5,605.3 261.0,605.3 261.5,605.3 262.0,605.3 262.5,605.3 263.0,605.3 263.5,605.3 264.0,605.3 264.5,605.3 265.0,605.3 265.5,605.3 266.0,605.3 266.5,605.3 267.0,605.3 267.5,605.3 268.0,605.3 268.5,605.3 269.0,605.3 269.5,605.3 270.0,605.3 270.5,605.3 271.0,605.3 271.5,605.3 272.0,605.3 272.5,605.3 273.0,605.3 273.5,605.3 274.0,605.3 274.5,605.3 275.0,605.3 275.5,605.3 276.0,605.3 276.5,605.3 277.0,605.3 277.5,605.3 278.0,605.3 278.5,605.3 279.0,605.3 279.5,605.3 280.0,605.3 280.5,605.3 281.0,605.3 281.5,605.3 282.0,605.3 282.5,605.3 283.0,605.3 283.5,605.3 284.0,605.3 284.5,605.3 285.0,605.3 285.5,605.3 286.0,605.3 286.5,605.3 287.0,605.3 287.5,605.3 288.0,605.3 288.5,605.3 289.0,605.3 289.5,605.3 290.0,605.3 290.5,605.3 291.0,605.3 291.5,605.3 292.0,605.3 292.5,605.3 293.0,605.3 293.5,605.3 294.0,605.3 294.5,605.3 295.0,605.3 295.5,605.3 296.0,605.3 296.5,605.3 297.0,605.3 297.5,605.3 298.0,605.3 298.5,605.3 299.0,605.3 299.5,605.3 300.0,605.3 300.5,605.3 301.0,605.3 301.5,605.3 302.0,605.3 302.5,605.3 303.0,605.3 303.5,605.3 304.0,605.3 304.5,605.3 305.0,605.3 305.5,605.3 306.0,605.3 306.5,605.3 307.0,605.3 307.5,605.3 308.0,605.3 308.5,605.3 309.0,605.3 309.5,605.3 310.0,605.3 310.5,605.3 311.0,605.3 311.5,605.3 312.0,605.3 312.5,605.3 313.0,605.3 313.5,605.3 314.0,605.3 314.5,605.3 315.0,605.3 315.5,605.3 316.0,605.3 316.5,605.3 317.0,605.3 317.5,605.3 318.0,605.3 318.5,605.3 319.0,605.3 319.5,605.3 320.0,605.3 320.5,605.3 321.0,605.3 321.5,605.3 322.0,605.3 322.5,605.3 323.0,605.3 323.5,605.3 324.0,605.3 324.5,605.3 325.0,605.3 325.5,605.3 326.0,605.3 326.5,605.3 327.0,605.3 327.5,605.3 328.0,605.3 328.5,605.3 329.0,605.3 329.5,605.3 330.0,605.3 330.5,605.3 331.0,605.3 331.5,605.3 332.0,605.3 332.5,605.3 333.0,605.3 333.5,605.3 334.0,605.3 334.5,605.3 335.0,605.3 335.5,605.3 336.0,605.3 336.5,605.3 337.0,605.3 337.5,605.3 338.0,605.3 338.5,605.3 339.0,605.3 339.5,605.3 340.0,605.3 340.5,605.3 341.0,605.3 341.5,605.3 342.0,605.3 342.5,605.3 343.0,605.3 343.5,605.3 344.0,605.3 344.5,605.3 345.0,605.3 345.5,605.3 346.0,605.3 346.5,605.3 347.0,605.3 347.5,605.3 348.0,605.3 348.5,605.3 349.0,605.3 349.5,605.3 350.0,605.3 350.5,605.3 351.0,605.3 351.5,605.3 352.0,605.3 352.5,605.3 353.0,605.3 353.5,605.3 354.0,605.3 354.5,605.3 355.0,605.3 355.5,605.3 356.0,605.3 356.5,605.3 357.0,605.3 357.5,605.3 358.0,605.3 358.5,605.3 359.0,605.3 359.5,605.3 360.0,605.3 360.5,605.3 361.0,605.3 361.5,605.3 362.0,605.3" fill="none" stroke="#000" stroke-width="1.4" stroke-linejoin="round"/>
<path d="M374.4,605.3 374.9,605.3 375.4,605.3 375.9,605.3 376.4,605.3 376.9,605.3 377.4,605.3 377.9,605.3 378.4,605.3 378.9,605.3 379.4,605.3 379.9,605.3 380.4,605.3 380.9,605.3 381.4,605.3 381.9,605.3 382.4,605.3 382.9,605.3 383.4,605.3 383.9,605.3 384.4,605.3 384.9,605.3 385.4,605.3 385.9,605.3 386.4,605.3 386.9,605.3 387.4,605.3 387.9,605.3 388.4,605.3 388.9,605.2 389.4,605.2 389.9,605.2 390.4,605.2 390.9,605.2 391.4,605.2 391.9,605.2 392.4,605.2 392.9,605.2 393.4,605.2 393.9,605.2 394.4,605.2 394.9,605.2 395.4,605.2 395.9,605.2 396.4,605.2 396.9,605.2 397.4,605.2 397.9,605.2 398.4,605.1 398.9,605.1 399.4,605.1 399.9,605.1 400.4,605.1 400.9,605.1 401.4,605.1 401.9,605.1 402.4,605.1 402.9,605.1 403.4,605.1 403.9,605.1 404.4,605.0 404.9,605.0 405.4,605.0 405.9,605.0 406.4,605.0 406.9,605.0 407.4,605.0 407.9,605.0 408.4,605.0 408.9,604.9 409.4,604.9 409.9,604.9 410.4,604.9 410.9,604.9 411.4,604.9 411.9,604.9 412.4,604.9 412.9,604.8 413.4,604.8 413.9,604.8 414.4,604.8 414.9,604.8 415.4,604.7 415.9,604.7 416.4,604.6 416.9,604.5 417.4,604.4 417.9,604.3 418.4,604.1 418.9,604.0 419.4,603.9 419.9,603.7 420.4,603.6 420.9,603.4 421.4,603.2 421.9,603.1 422.4,602.9 422.9,602.8 423.4,602.6 423.9,602.4 424.4,602.2 424.9,602.0 425.4,601.8 425.9,601.5 426.4,601.3 426.9,601.0 427.4,600.8 427.9,600.5 428.4,600.3 428.9,600.1 429.4,599.9 429.9,599.7 430.4,599.6 430.9,599.5 431.4,599.4 431.9,599.4 432.4,599.6 432.9,600.0 433.4,600.4 433.9,601.0 434.4,601.5 434.9,601.9 435.4,602.3 435.9,602.6 436.4,603.0 436.9,603.3 437.4,603.6 437.9,604.0 438.4,604.2 438.9,604.5 439.4,604.6 439.9,604.8 440.4,604.8 440.9,604.8 441.4,604.8 441.9,604.7 442.4,604.7 442.9,604.6 443.4,604.6 443.9,604.5 444.4,604.4 444.9,604.3 445.4,604.1 445.9,604.0 446.4,603.9 446.9,603.7 447.4,603.4 447.9,602.9 448.4,602.2 448.9,601.4 449.4,600.5 449.9,599.6 450.4,598.7 450.9,597.8 451.4,597.0 451.9,596.0 452.4,594.9 452.9,593.8 453.4,592.8 453.9,591.9 454.4,591.2 454.9,590.8 455.4,590.9 455.9,591.1 456.4,591.6 456.9,592.3 457.4,593.0 457.9,593.8 458.4,594.6 458.9,595.3 459.4,595.9 459.9,596.3 460.4,596.6 460.9,596.9 461.4,597.2 461.9,597.4 462.4,597.6 462.9,597.9 463.4,598.1 463.9,598.3 464.4,598.5 464.9,598.7 465.4,598.9 465.9,599.2 466.4,599.5 466.9,599.8 467.4,600.2 467.9,600.6 468.4,601.0 468.9,601.4 469.4,601.9 469.9,602.3 470.4,602.7 470.9,603.0 471.4,603.3 471.9,603.5 472.4,603.7 472.9,603.7 473.4,603.7 473.9,603.7 474.4,603.7 474.9,603.7 475.4,603.7 475.9,603.7 476.4,603.7 476.9,603.7 477.4,603.7 477.9,603.7 478.4,603.7 478.9,603.7 479.4,603.7 479.9,603.7 480.4,603.7 480.9,603.7 481.4,603.7 481.9,603.5 482.4,603.1 482.9,602.4 483.4,601.6 483.9,600.6 484.4,599.6 484.9,598.7 485.4,597.8 485.9,597.0 486.4,596.1 486.9,595.1 487.4,594.1 487.9,593.3 488.4,592.7 488.9,592.5 489.4,592.7 489.9,593.3 490.4,594.0 490.9,595.0 491.4,595.9 491.9,596.8 492.4,597.6 492.9,598.4 493.4,599.3 493.9,600.2 494.4,601.1 494.9,601.9 495.4,602.5 495.9,603.0 496.4,603.3 496.9,603.4 497.4,603.4 497.9,603.5 498.4,603.6 498.9,603.6 499.4,603.7 499.9,603.8 500.4,603.8 500.9,603.9 501.4,603.9 501.9,604.0 502.4,604.0 502.9,604.1 503.4,604.1 503.9,604.2 504.4,604.2 504.9,604.3 505.4,604.3 505.9,604.4 506.4,604.4 506.9,604.4 507.4,604.5 507.9,604.5 508.4,604.5 508.9,604.5 509.4,604.6 509.9,604.6 510.4,604.6 510.9,604.6 511.4,604.7 511.9,604.7 512.4,604.7 512.9,604.7 513.4,604.7 513.9,604.7 514.4,604.7 514.9,604.8 515.4,604.8 515.9,604.8 516.4,604.8 516.9,604.8 517.4,604.8 517.9,604.8 518.4,604.8 518.9,604.8 519.4,604.8 519.9,604.8 520.4,604.8 520.9,604.8 521.4,604.8 521.9,604.8 522.4,604.8 522.9,604.8 523.4,604.8 523.9,604.8 524.4,604.8 524.9,604.8 525.4,604.8 525.9,604.8 526.4,604.8 526.9,604.7 527.4,604.7 527.9,604.7 528.4,604.7 528.9,604.7 529.4,604.7 529.9,604.7 530.4,604.7 530.9,604.7 531.4,604.7 531.9,604.7 532.4,604.7 532.9,604.7 533.4,604.7 533.9,604.6 534.4,604.6 534.9,604.6 535.4,604.6 535.9,604.6 536.4,604.6 536.9,604.6 537.4,604.6 537.9,604.6 538.4,604.6 538.9,604.6 539.4,604.6 539.9,604.6 540.4,604.6 540.9,604.6 541.4,604.6 541.9,604.6 542.4,604.6 542.9,604.6 543.4,604.6 543.9,604.6 544.4,604.6 544.9,604.6 545.4,604.6 545.9,604.6 546.4,604.6 546.9,604.6 547.4,604.6 547.9,604.6 548.4,604.6 548.9,604.6 549.4,604.6 549.9,604.6 550.4,604.6 550.9,604.6 551.4,604.6 551.9,604.6 552.4,604.6 552.9,604.6 553.4,604.6 553.9,604.6 554.4,604.6 554.9,604.6 555.4,604.6 555.9,604.6 556.4,604.6 556.9,604.6 557.4,604.6 557.9,604.6 558.4,604.6 558.9,604.6 559.4,604.6 559.9,604.6 560.4,604.6 560.9,604.6 561.4,604.6 561.9,604.6 562.4,604.6 562.9,604.6 563.4,604.6 563.9,604.6 564.4,604.6 564.9,604.6 565.4,604.6 565.9,604.6 566.4,604.5 566.9,604.3 567.4,604.0 567.9,603.6 568.4,603.3 568.9,603.0 569.4,602.7 569.9,602.5 570.4,602.3 570.9,602.1 571.4,602.0 571.9,601.8 572.4,601.7 572.9,601.6 573.4,601.5 573.9,601.5 574.4,601.5 574.9,601.5 575.4,601.5 575.9,601.5 576.4,601.5 576.9,601.6 577.4,601.6 577.9,601.6 578.4,601.6 578.9,601.6 579.4,601.7 579.9,601.7 580.4,601.7 580.9,601.8 581.4,601.8 581.9,601.8 582.4,601.9 582.9,601.9 583.4,602.0 583.9,602.1 584.4,602.2 584.9,602.3 585.4,602.4 585.9,602.5 586.4,602.6 586.9,602.7 587.4,602.8 587.9,602.9 588.4,603.0 588.9,603.2 589.4,603.3 589.9,603.5 590.4,603.6 590.9,603.7 591.4,603.8 591.9,603.9 592.4,604.0 592.9,604.1 593.4,604.1 593.9,604.1 594.4,604.1 594.9,604.2 595.4,604.2 595.9,604.2 596.4,604.2 596.9,604.2 597.4,604.2 597.9,604.2 598.4,604.3 598.9,604.3 599.4,604.3 599.9,604.3 600.4,604.3 600.9,604.3 601.4,604.3 601.9,604.3 602.4,604.3 602.9,604.3 603.4,604.3 603.9,604.4 604.4,604.4 604.9,604.4 605.4,604.4 605.9,604.4 606.4,604.4 606.9,604.4 607.4,604.4 607.9,604.4 608.4,604.4 608.9,604.4 609.4,604.4 609.9,604.4 610.4,604.4 610.9,604.4 611.4,604.4 611.9,604.4 612.4,604.4 612.9,604.4 613.4,604.4 613.9,604.4 614.4,604.4 614.9,604.4 615.4,604.4 615.9,604.4 616.4,604.4 616.9,604.4 617.4,604.4 617.9,604.4 618.4,604.4 618.9,604.4 619.4,604.4 619.9,604.4 620.4,604.5 620.9,604.5 621.4,604.5 621.9,604.5 622.4,604.5 622.9,604.5 623.4,604.5 623.9,604.5 624.4,604.5 624.9,604.5 625.4,604.5 625.9,604.5 626.4,604.5 626.9,604.5 627.4,604.5 627.9,604.5 628.4,604.5 628.9,604.5 629.4,604.5 629.9,604.5 630.4,604.5 630.9,604.5 631.4,604.5 631.9,604.5 632.4,604.5 632.9,604.5 633.4,604.5 633.9,604.5 634.4,604.5 634.9,604.5 635.4,604.5 635.9,604.5 636.4,604.5 636.9,604.5 637.4,604.5 637.9,604.5 638.4,604.5 638.9,604.5 639.4,604.5 639.9,604.5 640.4,604.5 640.9,604.5 641.4,604.5 641.9,604.5 642.4,604.5 642.9,604.5 643.4,604.5 643.9,604.5 644.4,604.5 644.9,604.5 645.4,604.5 645.9,604.5 646.4,604.5 646.9,604.5 647.4,604.5 647.9,604.5 648.4,604.5 648.9,604.5 649.4,604.5 649.9,604.5 650.4,604.6 650.9,604.6 651.4,604.6 651.9,604.6 652.4,604.6 652.9,604.6 653.4,604.6 653.9,604.6 654.4,604.6 654.9,604.6 655.4,604.6 655.9,604.6 656.4,604.6 656.9,604.6 657.4,604.6 657.9,604.6 658.4,604.6 658.9,604.6 659.4,604.6 659.9,604.6 660.4,604.6 660.9,604.6 661.4,604.6 661.9,604.6 662.4,604.6 662.9,604.6 663.4,604.6 663.9,604.6 664.4,604.6 664.9,604.6 665.4,604.6 665.9,604.6 666.4,604.6 666.9,604.6 667.4,604.6 667.9,604.6 668.4,604.6 668.9,604.6 669.4,604.6 669.9,604.6 670.4,604.6 670.9,604.6 671.4,604.6 671.9,604.6 672.4,604.6 672.9,604.6 673.4,604.6 673.9,604.6 674.4,604.6 674.9,604.6 675.4,604.6 675.9,604.6 676.4,604.6 676.9,604.6 677.4,604.6 677.9,604.6 678.4,604.6 678.9,604.6 679.4,604.6 679.9,604.6 680.4,604.6 680.9,604.6 681.4,604.6 681.9,604.6 682.4,604.6 682.9,604.6 683.4,604.6 683.9,604.6 684.4,604.6 684.9,604.6 685.4,604.6 685.9,604.6 686.4,604.6 686.9,604.6 687.4,604.6 687.9,604.6 688.4,604.6 688.9,604.6 689.4,604.6 689.9,604.6 690.4,604.6 690.9,604.6 691.4,604.6 691.9,604.6 692.4,604.6 692.9,604.6 693.4,604.6 693.9,604.6 694.4,604.6 694.9,604.6 695.2,604.6" fill="none" stroke="#000" stroke-width="1.4" stroke-linejoin="round"/>
<path d="M76.2,605.3 76.7,605.0 77.2,604.7 77.7,604.3 78.2,604.0 78.7,603.7 79.2,603.3 79.7,603.0 80.2,602.7 80.7,602.3 81.2,602.0 81.7,601.6 82.2,601.3 82.7,600.9 83.2,600.6 83.7,600.2 84.2,599.8 84.7,599.5 85.2,599.1 85.7,598.7 86.2,598.3 86.7,598.0 87.2,597.6 87.7,597.2 88.2,596.8 88.7,596.4 89.2,596.0 89.7,595.5 90.2,595.1 90.7,594.7 91.2,594.3 91.7,593.9 92.2,593.5 92.7,593.1 93.2,592.7 93.7,592.3 94.2,591.9 94.7,591.5 95.2,591.0 95.7,590.5 96.2,590.0 96.7,589.5 97.2,589.0 97.7,588.5 98.2,588.1 98.7,587.7 99.2,587.3 99.7,587.0 100.2,586.8 100.7,586.7 101.2,586.7 101.7,587.0 102.2,587.6 102.7,588.4 103.2,589.2 103.7,590.1 104.2,590.8 104.7,591.5 105.2,591.8 105.7,591.9 106.2,591.3 106.7,590.4 107.2,589.3 107.7,588.0 108.2,586.8 108.7,585.8 109.2,585.1 109.7,584.4 110.2,583.7 110.7,583.1 111.2,582.4 111.7,581.8 112.2,581.3 112.7,580.8 113.2,580.4 113.7,580.1 114.2,579.9 114.7,579.9 115.2,580.0 115.7,580.2 116.2,580.5 116.7,580.8 117.2,581.3 117.7,581.7 118.2,582.2 118.7,582.8 119.2,583.3 119.7,583.9 120.2,584.4 120.7,585.0 121.2,585.7 121.7,586.6 122.2,587.5 122.7,588.4 123.2,589.3 123.7,590.2 124.2,591.0 124.7,591.6 125.2,592.0 125.7,592.3 126.2,592.3 126.7,592.3 127.2,592.2 127.7,592.2 128.2,592.1 128.7,592.0 129.2,591.8 129.7,591.7 130.2,591.6 130.7,591.4 131.2,591.3 131.7,591.1 132.2,590.9 132.7,590.5 133.2,590.1 133.7,589.7 134.2,589.2 134.7,588.7 135.2,588.3 135.7,587.9 136.2,587.6 136.7,587.4 137.2,587.3 137.7,587.4 138.2,587.6 138.7,588.0 139.2,588.5 139.7,589.0 140.2,589.6 140.7,590.2 141.2,590.7 141.7,591.2 142.2,591.7 142.7,592.2 143.2,592.8 143.7,593.3 144.2,593.7 144.7,594.0 145.2,594.1 145.7,593.7 146.2,592.8 146.7,591.6 147.2,590.1 147.7,588.5 148.2,586.9 148.7,585.4 149.2,584.1 149.7,583.1 150.2,582.2 150.7,581.3 151.2,580.5 151.7,579.8 152.2,579.2 152.7,578.9 153.2,578.8 153.7,579.1 154.2,579.7 154.7,580.5 155.2,581.4 155.7,582.4 156.2,583.4 156.7,584.3 157.2,585.1 157.7,585.7 158.2,586.3 158.7,587.0 159.2,587.6 159.7,588.3 160.2,588.9 160.7,589.5 161.2,590.0 161.7,590.5 162.2,591.0 162.7,591.3 163.2,591.6 163.7,591.8 164.2,591.9 164.7,591.9 165.2,591.8 165.7,591.7 166.2,591.6 166.7,591.4 167.2,591.2 167.7,591.0 168.2,590.8 168.7,590.6 169.2,590.3 169.7,590.1 170.2,590.0 170.7,589.8 171.2,589.7 171.7,589.6 172.2,589.6 172.7,589.6 173.2,589.8 173.7,590.0 174.2,590.2 174.7,590.5 175.2,590.8 175.7,591.1 176.2,591.4 176.7,591.7 177.2,592.0 177.7,592.2 178.2,592.4 178.7,592.6 179.2,592.8 179.7,592.9 180.2,593.1 180.7,593.3 181.2,593.5 181.7,593.6 182.2,593.8 182.7,593.9 183.2,594.1 183.7,594.2 184.2,594.3 184.7,594.4 185.2,594.5 185.7,594.5 186.2,594.6 186.7,594.6 187.2,594.6 187.7,594.6 188.2,594.5 188.7,594.4 189.2,594.3 189.7,594.2 190.2,594.0 190.7,593.9 191.2,593.7 191.7,593.5 192.2,593.4 192.7,593.2 193.2,593.0 193.7,592.8 194.2,592.6 194.7,592.3 195.2,592.0 195.7,591.7 196.2,591.3 196.7,590.9 197.2,590.5 197.7,590.1 198.2,589.7 198.7,589.4 199.2,589.1 199.7,588.8 200.2,588.6 200.7,588.4 201.2,588.3 201.7,588.3 202.2,588.2 202.7,588.2 203.2,588.2 203.7,588.1 204.2,588.1 204.7,588.1 205.2,588.1 205.7,588.0 206.2,588.0 206.7,588.0 207.2,588.0 207.7,588.0 208.2,588.0 208.7,588.0 209.2,588.0 209.7,588.0 210.2,588.0 210.7,588.0 211.2,588.0 211.7,588.0 212.2,588.0 212.7,588.0 213.2,588.0 213.7,588.0 214.2,588.0 214.7,588.0 215.2,587.9 215.7,587.5 216.2,587.0 216.7,586.4 217.2,585.8 217.7,585.1 218.2,584.5 218.7,583.8 219.2,583.1 219.7,582.3 220.2,581.6 220.7,581.1 221.2,581.0 221.7,581.2 222.2,581.7 222.7,582.3 223.2,582.8 223.7,583.1 224.2,583.0 224.7,582.8 225.2,582.3 225.7,581.8 226.2,581.3 226.7,581.1 227.2,581.0 227.7,581.4 228.2,582.0 228.7,582.7 229.2,583.4 229.7,584.1 230.2,584.8 230.7,585.6 231.2,586.4 231.7,587.1 232.2,587.8 232.7,588.4 233.2,588.8 233.7,589.1 234.2,589.3 234.7,589.6 235.2,589.8 235.7,590.0 236.2,590.1 236.7,590.1 237.2,590.1 237.7,590.0 238.2,589.9 238.7,589.8 239.2,589.7 239.7,589.7 240.2,590.0 240.7,590.4 241.2,590.8 241.7,591.3 242.2,591.8 242.7,592.2 243.2,592.4 243.7,592.5 244.2,592.7 244.7,592.8 245.2,592.9 245.7,593.0 246.2,593.1 246.7,593.2 247.2,593.3 247.7,593.4 248.2,593.5 248.7,593.6 249.2,593.7 249.7,593.8 250.2,593.9 250.7,594.0 251.2,594.1 251.7,594.3 252.2,594.4 252.7,594.5 253.2,594.6 253.7,594.8 254.2,594.9 254.7,595.0 255.2,595.2 255.7,595.3 256.2,595.5 256.7,595.6 257.2,595.8 257.7,595.9 258.2,596.1 258.7,596.3 259.2,596.5 259.7,596.6 260.2,596.8 260.7,597.0 261.2,597.2 261.7,597.3 262.2,597.5 262.7,597.7 263.2,597.8 263.7,598.0 264.2,598.2 264.7,598.3 265.2,598.5 265.7,598.7 266.2,598.8 266.7,599.0 267.2,599.1 267.7,599.3 268.2,599.5 268.7,599.6 269.2,599.8 269.7,599.9 270.2,600.1 270.7,600.2 271.2,600.3 271.7,600.5 272.2,600.6 272.7,600.7 273.2,600.8 273.7,600.9 274.2,601.0 274.7,601.1 275.2,601.2 275.7,601.3 276.2,601.4 276.7,601.5 277.2,601.6 277.7,601.7 278.2,601.7 278.7,601.8 279.2,601.9 279.7,602.0 280.2,602.1 280.7,602.1 281.2,602.2 281.7,602.3 282.2,602.4 282.7,602.5 283.2,602.6 283.7,602.6 284.2,602.7 284.7,602.8 285.2,602.9 285.7,603.0 286.2,603.0 286.7,603.1 287.2,603.2 287.7,603.3 288.2,603.3 288.7,603.4 289.2,603.5 289.7,603.5 290.2,603.6 290.7,603.6 291.2,603.7 291.7,603.7 292.2,603.8 292.7,603.8 293.2,603.8 293.7,603.9 294.2,603.9 294.7,603.9 295.2,603.9 295.7,604.0 296.2,604.0 296.7,604.0 297.2,604.0 297.7,604.0 298.2,604.1 298.7,604.1 299.2,604.1 299.7,604.1 300.2,604.1 300.7,604.1 301.2,604.1 301.7,604.2 302.2,604.2 302.7,604.2 303.2,604.2 303.7,604.2 304.2,604.2 304.7,604.2 305.2,604.2 305.7,604.3 306.2,604.3 306.7,604.3 307.2,604.3 307.7,604.3 308.2,604.3 308.7,604.3 309.2,604.3 309.7,604.3 310.2,604.3 310.7,604.3 311.2,604.4 311.7,604.4 312.2,604.4 312.7,604.4 313.2,604.4 313.7,604.4 314.2,604.4 314.7,604.4 315.2,604.4 315.7,604.4 316.2,604.4 316.7,604.5 317.2,604.5 317.7,604.5 318.2,604.5 318.7,604.5 319.2,604.5 319.7,604.5 320.2,604.5 320.7,604.5 321.2,604.5 321.7,604.5 322.2,604.5 322.7,604.5 323.2,604.5 323.7,604.6 324.2,604.6 324.7,604.6 325.2,604.6 325.7,604.6 326.2,604.6 326.7,604.6 327.2,604.6 327.7,604.6 328.2,604.6 328.7,604.6 329.2,604.6 329.4,604.6" fill="none" stroke="#ec3434" stroke-width="1.6" stroke-linejoin="round"/>
<path d="M380.0,604.8 380.5,604.8 381.0,604.8 381.5,604.8 382.0,604.8 382.5,604.8 383.0,604.8 383.5,604.8 384.0,604.8 384.5,604.8 385.0,604.8 385.5,604.7 386.0,604.7 386.5,604.7 387.0,604.7 387.5,604.7 388.0,604.7 388.5,604.7 389.0,604.6 389.5,604.6 390.0,604.6 390.5,604.6 391.0,604.6 391.5,604.6 392.0,604.5 392.5,604.5 393.0,604.5 393.5,604.5 394.0,604.4 394.5,604.4 395.0,604.4 395.5,604.4 396.0,604.3 396.5,604.3 397.0,604.3 397.5,604.3 398.0,604.2 398.5,604.2 399.0,604.2 399.5,604.1 400.0,604.1 400.5,604.1 401.0,604.0 401.5,604.0 402.0,604.0 402.5,603.9 403.0,603.9 403.5,603.9 404.0,603.8 404.5,603.8 405.0,603.8 405.5,603.7 406.0,603.7 406.5,603.7 407.0,603.6 407.5,603.6 408.0,603.5 408.5,603.4 409.0,603.4 409.5,603.3 410.0,603.2 410.5,603.1 411.0,603.0 411.5,602.9 412.0,602.8 412.5,602.7 413.0,602.5 413.5,602.2 414.0,601.9 414.5,601.5 415.0,601.1 415.5,600.6 416.0,600.1 416.5,599.6 417.0,599.1 417.5,598.5 418.0,598.0 418.5,597.3 419.0,596.6 419.5,595.8 420.0,595.0 420.5,594.2 421.0,593.4 421.5,592.7 422.0,592.0 422.5,591.4 423.0,590.7 423.5,590.1 424.0,589.4 424.5,588.8 425.0,588.3 425.5,587.9 426.0,587.7 426.5,587.6 427.0,587.6 427.5,587.6 428.0,587.6 428.5,587.6 429.0,587.6 429.5,587.6 430.0,587.6 430.5,587.6 431.0,587.6 431.5,587.5 432.0,587.4 432.5,587.2 433.0,587.0 433.5,586.8 434.0,586.4 434.5,585.1 435.0,582.7 435.5,579.7 436.0,576.5 436.5,573.5 437.0,570.2 437.5,566.3 438.0,562.9 438.5,560.8 439.0,560.9 439.5,562.7 440.0,565.6 440.5,569.2 441.0,573.2 441.5,579.6 442.0,587.2 442.5,594.0 443.0,599.6 443.5,603.6 444.0,603.2 444.5,601.5 445.0,598.7 445.5,595.3 446.0,591.1 446.5,583.7 447.0,574.0 447.5,563.8 448.0,554.6 448.5,545.9 449.0,537.0 449.5,528.4 450.0,520.2 450.5,512.7 451.0,506.2 451.5,499.4 452.0,493.0 452.5,488.6 453.0,487.3 453.5,488.1 454.0,489.8 454.5,492.3 455.0,495.3 455.5,499.8 456.0,507.9 456.5,518.3 457.0,529.9 457.5,543.9 458.0,563.6 458.5,579.4 459.0,584.0 459.5,586.1 460.0,586.0 460.5,581.5 461.0,574.3 461.5,567.1 462.0,559.2 462.5,549.7 463.0,541.1 463.5,535.5 464.0,534.2 464.5,533.7 465.0,533.7 465.5,534.7 466.0,536.6 466.5,538.9 467.0,541.4 467.5,543.7 468.0,545.9 468.5,548.2 469.0,550.6 469.5,553.3 470.0,556.3 470.5,559.8 471.0,565.0 471.5,573.0 472.0,582.0 472.5,589.8 473.0,594.5 473.5,595.2 474.0,595.4 474.5,595.6 475.0,595.7 475.5,595.8 476.0,595.8 476.5,595.8 477.0,595.6 477.5,595.4 478.0,595.1 478.5,594.8 479.0,594.3 479.5,593.9 480.0,593.3 480.5,592.7 481.0,591.5 481.5,589.8 482.0,587.5 482.5,584.8 483.0,581.9 483.5,578.7 484.0,575.4 484.5,572.1 485.0,568.1 485.5,562.8 486.0,556.7 486.5,550.6 487.0,545.5 487.5,542.1 488.0,541.2 488.5,541.9 489.0,543.4 489.5,545.5 490.0,547.7 490.5,550.8 491.0,555.4 491.5,560.8 492.0,566.5 492.5,571.9 493.0,576.4 493.5,580.0 494.0,583.5 494.5,587.0 495.0,590.2 495.5,592.7 496.0,594.5 496.5,595.1 497.0,594.6 497.5,593.4 498.0,591.7 498.5,590.0 499.0,588.5 499.5,587.7 500.0,587.6 500.5,587.9 501.0,588.4 501.5,588.9 502.0,589.6 502.5,590.2 503.0,590.8 503.5,591.4 504.0,592.1 504.5,592.8 505.0,593.6 505.5,594.3 506.0,595.0 506.5,595.6 507.0,596.0 507.5,596.3 508.0,596.6 508.5,596.8 509.0,597.1 509.5,597.3 510.0,597.5 510.5,597.7 511.0,597.9 511.5,598.0 512.0,598.1 512.5,598.2 513.0,598.3 513.5,598.3 514.0,598.3 514.5,598.3 515.0,598.2 515.5,598.1 516.0,598.1 516.5,598.0 517.0,597.9 517.5,597.7 518.0,597.6 518.5,597.5 519.0,597.4 519.5,597.2 520.0,597.0 520.5,596.8 521.0,596.6 521.5,596.4 522.0,596.1 522.5,595.8 523.0,595.5 523.5,595.2 524.0,594.9 524.5,594.6 525.0,594.3 525.5,593.8 526.0,593.3 526.5,592.6 527.0,592.0 527.5,591.2 528.0,590.5 528.5,589.7 529.0,589.0 529.5,588.3 530.0,587.7 530.5,587.2 531.0,586.7 531.5,586.4 532.0,586.2 532.5,586.0 533.0,585.8 533.5,585.7 534.0,585.6 534.5,585.4 535.0,585.2 535.5,585.0 536.0,584.5 536.5,583.8 537.0,583.0 537.5,582.1 538.0,581.3 538.5,580.7 539.0,580.5 539.5,580.8 540.0,581.4 540.5,582.2 541.0,583.4 541.5,584.7 542.0,586.0 542.5,587.4 543.0,588.9 543.5,590.4 544.0,591.8 544.5,593.1 545.0,594.5 545.5,595.7 546.0,596.9 546.5,598.0 547.0,599.1 547.5,600.2 548.0,601.2 548.5,601.9 549.0,602.1 549.5,601.8 550.0,601.2 550.5,600.3 551.0,599.4 551.5,598.5 552.0,597.6 552.5,596.6 553.0,595.6 553.5,594.5 554.0,593.4 554.5,592.4 555.0,591.4 555.5,590.4 556.0,589.4 556.5,588.5 557.0,587.7 557.5,587.0 558.0,586.4 558.5,585.8 559.0,585.3 559.5,584.9 560.0,584.6 560.5,584.6 561.0,585.1 561.5,585.8 562.0,586.7 562.5,587.5 563.0,588.3 563.5,589.2 564.0,590.2 564.5,591.0 565.0,591.7 565.5,592.4 566.0,593.0 566.5,593.6 567.0,594.1 567.5,594.5 568.0,594.9 568.5,595.3 569.0,595.7 569.5,596.0 570.0,596.2 570.5,596.2 571.0,595.9 571.5,595.5 572.0,595.0 572.5,594.5 573.0,593.8 573.5,593.0 574.0,592.0 574.5,591.0 575.0,589.9 575.5,588.8 576.0,587.5 576.5,586.2 577.0,585.0 577.5,584.0 578.0,583.0 578.5,581.9 579.0,580.9 579.5,580.0 580.0,579.4 580.5,579.1 581.0,579.2 581.5,579.5 582.0,579.9 582.5,580.5 583.0,581.0 583.5,581.5 584.0,582.1 584.5,582.8 585.0,583.5 585.5,584.3 586.0,585.1 586.5,586.1 587.0,587.1 587.5,588.1 588.0,589.0 588.5,590.0 589.0,591.1 589.5,592.1 590.0,592.8 590.5,593.3 591.0,593.5 591.5,593.7 592.0,593.8 592.5,593.9 593.0,594.1 593.5,594.2 594.0,594.5 594.5,594.8 595.0,595.1 595.5,595.4 596.0,595.8 596.5,596.1 597.0,596.3 597.5,596.5 598.0,596.7 598.5,596.7 599.0,596.6 599.5,596.5 600.0,596.4 600.5,596.3 601.0,596.1 601.5,596.0 602.0,595.9 602.5,595.9 603.0,596.0 603.5,596.1 604.0,596.3 604.5,596.5 605.0,596.7 605.5,596.8 606.0,596.9 606.5,596.9 607.0,596.6 607.5,596.2 608.0,595.6 608.5,594.8 609.0,594.0 609.5,593.0 610.0,591.9 610.5,591.2 611.0,590.5 611.5,590.0 612.0,589.4 612.5,589.0 613.0,588.7 613.5,588.5 614.0,588.4 614.5,588.5 615.0,588.8 615.5,589.2 616.0,589.8 616.5,590.5 617.0,591.1 617.5,591.8 618.0,592.3 618.5,592.8 619.0,593.2 619.5,593.7 620.0,594.1 620.5,594.5 621.0,594.9 621.5,595.2 622.0,595.4 622.5,595.5 623.0,595.5 623.5,595.4 624.0,595.2 624.5,594.9 625.0,594.7 625.5,594.4 626.0,594.2 626.5,593.9 627.0,593.6 627.5,593.3 628.0,593.0 628.5,592.8 629.0,592.7 629.5,592.7 630.0,592.9 630.5,593.1 631.0,593.3 631.5,593.6 632.0,593.8 632.5,594.1 633.0,594.4 633.5,594.7 634.0,595.1 634.5,595.5 635.0,595.9 635.5,596.2 636.0,596.6 636.5,596.8 637.0,597.0 637.5,597.2 638.0,597.3 638.5,597.4 639.0,597.6 639.5,597.7 640.0,597.8 640.5,597.9 641.0,598.0 641.5,598.1 642.0,598.2 642.5,598.3 643.0,598.4 643.5,598.5 644.0,598.7 644.5,598.8 645.0,598.9 645.5,599.0 646.0,599.1 646.5,599.3 647.0,599.4 647.5,599.7 648.0,600.0 648.5,600.2 649.0,600.5 649.5,600.8 650.0,601.0 650.5,601.1 651.0,601.1 651.5,600.9 652.0,600.5 652.5,600.1 653.0,599.6 653.5,599.0 654.0,598.6 654.5,598.2 655.0,597.9 655.5,597.6 656.0,597.3 656.5,596.9 657.0,596.6 657.5,596.4 658.0,596.2 658.5,596.0 659.0,595.9 659.5,595.9 660.0,596.0 660.5,596.2 661.0,596.4 661.5,596.6 662.0,596.9 662.5,597.1 663.0,597.2 663.5,597.3 664.0,597.3 664.5,597.2 665.0,597.1 665.5,596.9 666.0,596.7 666.5,596.5 667.0,596.3 667.5,596.1 668.0,595.9 668.5,595.7 669.0,595.6 669.5,595.5 670.0,595.5 670.5,595.6 671.0,595.7 671.5,595.9 672.0,596.1 672.5,596.3 673.0,596.6 673.5,596.8 674.0,597.0 674.5,597.2 675.0,597.3 675.5,597.4 676.0,597.5 676.5,597.5 677.0,597.6 677.5,597.6 678.0,597.6 678.5,597.7 679.0,597.7 679.5,597.8 680.0,597.8 680.5,597.9 681.0,598.0 681.5,598.1 682.0,598.2 682.5,598.3 683.0,598.4 683.5,598.5 684.0,598.6 684.5,598.8 685.0,598.9 685.5,599.1 686.0,599.2 686.5,599.4 687.0,599.7 687.5,600.0 688.0,600.4 688.5,600.7 689.0,601.0 689.5,601.3 690.0,601.5 690.5,601.6 691.0,601.7 691.5,601.7 692.0,601.8 692.5,601.8 693.0,601.8 693.5,601.8 694.0,601.7 694.5,601.6 695.0,601.5 695.2,601.4" fill="none" stroke="#ec3434" stroke-width="1.6" stroke-linejoin="round"/>
<line x1="40.3" y1="5.3" x2="362.6" y2="5.3" stroke="#262626" stroke-width="1.3"/>
<line x1="374.4" y1="5.3" x2="697.8" y2="5.3" stroke="#262626" stroke-width="1.3"/>
<line x1="357.5" y1="2.0999999999999996" x2="368.5" y2="8.7" stroke="#222" stroke-width="1.1"/>
<line x1="369.2" y1="2.0999999999999996" x2="380" y2="8.7" stroke="#222" stroke-width="1.1"/>
<line x1="38.5" y1="231.4" x2="362.6" y2="231.4" stroke="#3c3c3c" stroke-width="1.3"/>
<line x1="374.4" y1="231.4" x2="699.2" y2="231.4" stroke="#3c3c3c" stroke-width="1.3"/>
<line x1="357.5" y1="228.20000000000002" x2="368.5" y2="234.8" stroke="#222" stroke-width="1.1"/>
<line x1="369.2" y1="228.20000000000002" x2="380" y2="234.8" stroke="#222" stroke-width="1.1"/>
<line x1="38.5" y1="457.5" x2="362.6" y2="457.5" stroke="#3c3c3c" stroke-width="1.3"/>
<line x1="374.4" y1="457.5" x2="699.2" y2="457.5" stroke="#3c3c3c" stroke-width="1.3"/>
<line x1="357.5" y1="454.3" x2="368.5" y2="460.9" stroke="#222" stroke-width="1.1"/>
<line x1="369.2" y1="454.3" x2="380" y2="460.9" stroke="#222" stroke-width="1.1"/>
<line x1="40.6" y1="605.3" x2="362.6" y2="605.3" stroke="#3c3c3c" stroke-width="1.3"/>
<line x1="374.4" y1="605.3" x2="697.5" y2="605.3" stroke="#3c3c3c" stroke-width="1.3"/>
<line x1="357.5" y1="602.0999999999999" x2="368.5" y2="608.6999999999999" stroke="#222" stroke-width="1.1"/>
<line x1="369.2" y1="602.0999999999999" x2="380" y2="608.6999999999999" stroke="#222" stroke-width="1.1"/>
<line x1="41.95" y1="1.8" x2="41.95" y2="605.8" stroke="#6c6c6c" stroke-width="1.9"/>
<line x1="695.45" y1="1.8" x2="695.45" y2="605.8" stroke="#7c7c7c" stroke-width="1.5"/>
<line x1="41.60" y1="5.3" x2="41.60" y2="1.9" stroke="#3c3c3c" stroke-width="1.8"/>
<line x1="41.60" y1="228.0" x2="41.60" y2="234.8" stroke="#3c3c3c" stroke-width="1.8"/>
<line x1="41.60" y1="454.1" x2="41.60" y2="460.9" stroke="#3c3c3c" stroke-width="1.8"/>
<line x1="41.60" y1="605.3" x2="41.60" y2="608.6999999999999" stroke="#3c3c3c" stroke-width="1.8"/>
<line x1="63.02" y1="5.3" x2="63.02" y2="3.5999999999999996" stroke="#3c3c3c" stroke-width="1.3"/>
<line x1="63.02" y1="229.70000000000002" x2="63.02" y2="233.1" stroke="#3c3c3c" stroke-width="1.3"/>
<line x1="63.02" y1="455.8" x2="63.02" y2="459.2" stroke="#3c3c3c" stroke-width="1.3"/>
<line x1="63.02" y1="605.3" x2="63.02" y2="607.0" stroke="#3c3c3c" stroke-width="1.3"/>
<line x1="84.44" y1="5.3" x2="84.44" y2="1.9" stroke="#3c3c3c" stroke-width="1.8"/>
<line x1="84.44" y1="228.0" x2="84.44" y2="234.8" stroke="#3c3c3c" stroke-width="1.8"/>
<line x1="84.44" y1="454.1" x2="84.44" y2="460.9" stroke="#3c3c3c" stroke-width="1.8"/>
<line x1="84.44" y1="605.3" x2="84.44" y2="608.6999999999999" stroke="#3c3c3c" stroke-width="1.8"/>
<line x1="105.86" y1="5.3" x2="105.86" y2="3.5999999999999996" stroke="#3c3c3c" stroke-width="1.3"/>
<line x1="105.86" y1="229.70000000000002" x2="105.86" y2="233.1" stroke="#3c3c3c" stroke-width="1.3"/>
<line x1="105.86" y1="455.8" x2="105.86" y2="459.2" stroke="#3c3c3c" stroke-width="1.3"/>
<line x1="105.86" y1="605.3" x2="105.86" y2="607.0" stroke="#3c3c3c" stroke-width="1.3"/>
<line x1="127.28" y1="5.3" x2="127.28" y2="1.9" stroke="#3c3c3c" stroke-width="1.8"/>
<line x1="127.28" y1="228.0" x2="127.28" y2="234.8" stroke="#3c3c3c" stroke-width="1.8"/>
<line x1="127.28" y1="454.1" x2="127.28" y2="460.9" stroke="#3c3c3c" stroke-width="1.8"/>
<line x1="127.28" y1="605.3" x2="127.28" y2="608.6999999999999" stroke="#3c3c3c" stroke-width="1.8"/>
<line x1="148.70" y1="5.3" x2="148.70" y2="3.5999999999999996" stroke="#3c3c3c" stroke-width="1.3"/>
<line x1="148.70" y1="229.70000000000002" x2="148.70" y2="233.1" stroke="#3c3c3c" stroke-width="1.3"/>
<line x1="148.70" y1="455.8" x2="148.70" y2="459.2" stroke="#3c3c3c" stroke-width="1.3"/>
<line x1="148.70" y1="605.3" x2="148.70" y2="607.0" stroke="#3c3c3c" stroke-width="1.3"/>
<line x1="170.12" y1="5.3" x2="170.12" y2="1.9" stroke="#3c3c3c" stroke-width="1.8"/>
<line x1="170.12" y1="228.0" x2="170.12" y2="234.8" stroke="#3c3c3c" stroke-width="1.8"/>
<line x1="170.12" y1="454.1" x2="170.12" y2="460.9" stroke="#3c3c3c" stroke-width="1.8"/>
<line x1="170.12" y1="605.3" x2="170.12" y2="608.6999999999999" stroke="#3c3c3c" stroke-width="1.8"/>
<line x1="191.54" y1="5.3" x2="191.54" y2="3.5999999999999996" stroke="#3c3c3c" stroke-width="1.3"/>
<line x1="191.54" y1="229.70000000000002" x2="191.54" y2="233.1" stroke="#3c3c3c" stroke-width="1.3"/>
<line x1="191.54" y1="455.8" x2="191.54" y2="459.2" stroke="#3c3c3c" stroke-width="1.3"/>
<line x1="191.54" y1="605.3" x2="191.54" y2="607.0" stroke="#3c3c3c" stroke-width="1.3"/>
<line x1="212.96" y1="5.3" x2="212.96" y2="1.9" stroke="#3c3c3c" stroke-width="1.8"/>
<line x1="212.96" y1="228.0" x2="212.96" y2="234.8" stroke="#3c3c3c" stroke-width="1.8"/>
<line x1="212.96" y1="454.1" x2="212.96" y2="460.9" stroke="#3c3c3c" stroke-width="1.8"/>
<line x1="212.96" y1="605.3" x2="212.96" y2="608.6999999999999" stroke="#3c3c3c" stroke-width="1.8"/>
<line x1="234.38" y1="5.3" x2="234.38" y2="3.5999999999999996" stroke="#3c3c3c" stroke-width="1.3"/>
<line x1="234.38" y1="229.70000000000002" x2="234.38" y2="233.1" stroke="#3c3c3c" stroke-width="1.3"/>
<line x1="234.38" y1="455.8" x2="234.38" y2="459.2" stroke="#3c3c3c" stroke-width="1.3"/>
<line x1="234.38" y1="605.3" x2="234.38" y2="607.0" stroke="#3c3c3c" stroke-width="1.3"/>
<line x1="255.80" y1="5.3" x2="255.80" y2="1.9" stroke="#3c3c3c" stroke-width="1.8"/>
<line x1="255.80" y1="228.0" x2="255.80" y2="234.8" stroke="#3c3c3c" stroke-width="1.8"/>
<line x1="255.80" y1="454.1" x2="255.80" y2="460.9" stroke="#3c3c3c" stroke-width="1.8"/>
<line x1="255.80" y1="605.3" x2="255.80" y2="608.6999999999999" stroke="#3c3c3c" stroke-width="1.8"/>
<line x1="277.22" y1="5.3" x2="277.22" y2="3.5999999999999996" stroke="#3c3c3c" stroke-width="1.3"/>
<line x1="277.22" y1="229.70000000000002" x2="277.22" y2="233.1" stroke="#3c3c3c" stroke-width="1.3"/>
<line x1="277.22" y1="455.8" x2="277.22" y2="459.2" stroke="#3c3c3c" stroke-width="1.3"/>
<line x1="277.22" y1="605.3" x2="277.22" y2="607.0" stroke="#3c3c3c" stroke-width="1.3"/>
<line x1="298.64" y1="5.3" x2="298.64" y2="1.9" stroke="#3c3c3c" stroke-width="1.8"/>
<line x1="298.64" y1="228.0" x2="298.64" y2="234.8" stroke="#3c3c3c" stroke-width="1.8"/>
<line x1="298.64" y1="454.1" x2="298.64" y2="460.9" stroke="#3c3c3c" stroke-width="1.8"/>
<line x1="298.64" y1="605.3" x2="298.64" y2="608.6999999999999" stroke="#3c3c3c" stroke-width="1.8"/>
<line x1="320.06" y1="5.3" x2="320.06" y2="3.5999999999999996" stroke="#3c3c3c" stroke-width="1.3"/>
<line x1="320.06" y1="229.70000000000002" x2="320.06" y2="233.1" stroke="#3c3c3c" stroke-width="1.3"/>
<line x1="320.06" y1="455.8" x2="320.06" y2="459.2" stroke="#3c3c3c" stroke-width="1.3"/>
<line x1="320.06" y1="605.3" x2="320.06" y2="607.0" stroke="#3c3c3c" stroke-width="1.3"/>
<line x1="341.48" y1="5.3" x2="341.48" y2="1.9" stroke="#3c3c3c" stroke-width="1.8"/>
<line x1="341.48" y1="228.0" x2="341.48" y2="234.8" stroke="#3c3c3c" stroke-width="1.8"/>
<line x1="341.48" y1="454.1" x2="341.48" y2="460.9" stroke="#3c3c3c" stroke-width="1.8"/>
<line x1="341.48" y1="605.3" x2="341.48" y2="608.6999999999999" stroke="#3c3c3c" stroke-width="1.8"/>
<line x1="362.90" y1="5.3" x2="362.90" y2="3.5999999999999996" stroke="#3c3c3c" stroke-width="1.3"/>
<line x1="362.90" y1="229.70000000000002" x2="362.90" y2="233.1" stroke="#3c3c3c" stroke-width="1.3"/>
<line x1="362.90" y1="455.8" x2="362.90" y2="459.2" stroke="#3c3c3c" stroke-width="1.3"/>
<line x1="362.90" y1="605.3" x2="362.90" y2="607.0" stroke="#3c3c3c" stroke-width="1.3"/>
<line x1="374.37" y1="5.3" x2="374.37" y2="3.5999999999999996" stroke="#3c3c3c" stroke-width="1.3"/>
<line x1="374.37" y1="229.70000000000002" x2="374.37" y2="233.1" stroke="#3c3c3c" stroke-width="1.3"/>
<line x1="374.37" y1="455.8" x2="374.37" y2="459.2" stroke="#3c3c3c" stroke-width="1.3"/>
<line x1="374.37" y1="605.3" x2="374.37" y2="607.0" stroke="#3c3c3c" stroke-width="1.3"/>
<line x1="399.08" y1="5.3" x2="399.08" y2="1.9" stroke="#3c3c3c" stroke-width="1.8"/>
<line x1="399.08" y1="228.0" x2="399.08" y2="234.8" stroke="#3c3c3c" stroke-width="1.8"/>
<line x1="399.08" y1="454.1" x2="399.08" y2="460.9" stroke="#3c3c3c" stroke-width="1.8"/>
<line x1="399.08" y1="605.3" x2="399.08" y2="608.6999999999999" stroke="#3c3c3c" stroke-width="1.8"/>
<line x1="423.79" y1="5.3" x2="423.79" y2="3.5999999999999996" stroke="#3c3c3c" stroke-width="1.3"/>
<line x1="423.79" y1="229.70000000000002" x2="423.79" y2="233.1" stroke="#3c3c3c" stroke-width="1.3"/>
<line x1="423.79" y1="455.8" x2="423.79" y2="459.2" stroke="#3c3c3c" stroke-width="1.3"/>
<line x1="423.79" y1="605.3" x2="423.79" y2="607.0" stroke="#3c3c3c" stroke-width="1.3"/>
<line x1="448.50" y1="5.3" x2="448.50" y2="1.9" stroke="#3c3c3c" stroke-width="1.8"/>
<line x1="448.50" y1="228.0" x2="448.50" y2="234.8" stroke="#3c3c3c" stroke-width="1.8"/>
<line x1="448.50" y1="454.1" x2="448.50" y2="460.9" stroke="#3c3c3c" stroke-width="1.8"/>
<line x1="448.50" y1="605.3" x2="448.50" y2="608.6999999999999" stroke="#3c3c3c" stroke-width="1.8"/>
<line x1="473.21" y1="5.3" x2="473.21" y2="3.5999999999999996" stroke="#3c3c3c" stroke-width="1.3"/>
<line x1="473.21" y1="229.70000000000002" x2="473.21" y2="233.1" stroke="#3c3c3c" stroke-width="1.3"/>
<line x1="473.21" y1="455.8" x2="473.21" y2="459.2" stroke="#3c3c3c" stroke-width="1.3"/>
<line x1="473.21" y1="605.3" x2="473.21" y2="607.0" stroke="#3c3c3c" stroke-width="1.3"/>
<line x1="497.92" y1="5.3" x2="497.92" y2="1.9" stroke="#3c3c3c" stroke-width="1.8"/>
<line x1="497.92" y1="228.0" x2="497.92" y2="234.8" stroke="#3c3c3c" stroke-width="1.8"/>
<line x1="497.92" y1="454.1" x2="497.92" y2="460.9" stroke="#3c3c3c" stroke-width="1.8"/>
<line x1="497.92" y1="605.3" x2="497.92" y2="608.6999999999999" stroke="#3c3c3c" stroke-width="1.8"/>
<line x1="522.63" y1="5.3" x2="522.63" y2="3.5999999999999996" stroke="#3c3c3c" stroke-width="1.3"/>
<line x1="522.63" y1="229.70000000000002" x2="522.63" y2="233.1" stroke="#3c3c3c" stroke-width="1.3"/>
<line x1="522.63" y1="455.8" x2="522.63" y2="459.2" stroke="#3c3c3c" stroke-width="1.3"/>
<line x1="522.63" y1="605.3" x2="522.63" y2="607.0" stroke="#3c3c3c" stroke-width="1.3"/>
<line x1="547.34" y1="5.3" x2="547.34" y2="1.9" stroke="#3c3c3c" stroke-width="1.8"/>
<line x1="547.34" y1="228.0" x2="547.34" y2="234.8" stroke="#3c3c3c" stroke-width="1.8"/>
<line x1="547.34" y1="454.1" x2="547.34" y2="460.9" stroke="#3c3c3c" stroke-width="1.8"/>
<line x1="547.34" y1="605.3" x2="547.34" y2="608.6999999999999" stroke="#3c3c3c" stroke-width="1.8"/>
<line x1="572.05" y1="5.3" x2="572.05" y2="3.5999999999999996" stroke="#3c3c3c" stroke-width="1.3"/>
<line x1="572.05" y1="229.70000000000002" x2="572.05" y2="233.1" stroke="#3c3c3c" stroke-width="1.3"/>
<line x1="572.05" y1="455.8" x2="572.05" y2="459.2" stroke="#3c3c3c" stroke-width="1.3"/>
<line x1="572.05" y1="605.3" x2="572.05" y2="607.0" stroke="#3c3c3c" stroke-width="1.3"/>
<line x1="596.76" y1="5.3" x2="596.76" y2="1.9" stroke="#3c3c3c" stroke-width="1.8"/>
<line x1="596.76" y1="228.0" x2="596.76" y2="234.8" stroke="#3c3c3c" stroke-width="1.8"/>
<line x1="596.76" y1="454.1" x2="596.76" y2="460.9" stroke="#3c3c3c" stroke-width="1.8"/>
<line x1="596.76" y1="605.3" x2="596.76" y2="608.6999999999999" stroke="#3c3c3c" stroke-width="1.8"/>
<line x1="621.47" y1="5.3" x2="621.47" y2="3.5999999999999996" stroke="#3c3c3c" stroke-width="1.3"/>
<line x1="621.47" y1="229.70000000000002" x2="621.47" y2="233.1" stroke="#3c3c3c" stroke-width="1.3"/>
<line x1="621.47" y1="455.8" x2="621.47" y2="459.2" stroke="#3c3c3c" stroke-width="1.3"/>
<line x1="621.47" y1="605.3" x2="621.47" y2="607.0" stroke="#3c3c3c" stroke-width="1.3"/>
<line x1="646.18" y1="5.3" x2="646.18" y2="1.9" stroke="#3c3c3c" stroke-width="1.8"/>
<line x1="646.18" y1="228.0" x2="646.18" y2="234.8" stroke="#3c3c3c" stroke-width="1.8"/>
<line x1="646.18" y1="454.1" x2="646.18" y2="460.9" stroke="#3c3c3c" stroke-width="1.8"/>
<line x1="646.18" y1="605.3" x2="646.18" y2="608.6999999999999" stroke="#3c3c3c" stroke-width="1.8"/>
<line x1="670.89" y1="5.3" x2="670.89" y2="3.5999999999999996" stroke="#3c3c3c" stroke-width="1.3"/>
<line x1="670.89" y1="229.70000000000002" x2="670.89" y2="233.1" stroke="#3c3c3c" stroke-width="1.3"/>
<line x1="670.89" y1="455.8" x2="670.89" y2="459.2" stroke="#3c3c3c" stroke-width="1.3"/>
<line x1="670.89" y1="605.3" x2="670.89" y2="607.0" stroke="#3c3c3c" stroke-width="1.3"/>
<line x1="695.60" y1="5.3" x2="695.60" y2="1.9" stroke="#3c3c3c" stroke-width="1.8"/>
<line x1="695.60" y1="228.0" x2="695.60" y2="234.8" stroke="#3c3c3c" stroke-width="1.8"/>
<line x1="695.60" y1="454.1" x2="695.60" y2="460.9" stroke="#3c3c3c" stroke-width="1.8"/>
<line x1="695.60" y1="605.3" x2="695.60" y2="608.6999999999999" stroke="#3c3c3c" stroke-width="1.8"/>
<line x1="42.0" y1="5.30" x2="39.8" y2="5.30" stroke="#4a4a4a" stroke-width="1.2"/>
<line x1="695.6" y1="5.30" x2="697.8000000000001" y2="5.30" stroke="#4a4a4a" stroke-width="1.2"/>
<line x1="42.0" y1="25.85" x2="38.5" y2="25.85" stroke="#4a4a4a" stroke-width="1.5"/>
<line x1="695.6" y1="25.85" x2="699.1" y2="25.85" stroke="#4a4a4a" stroke-width="1.5"/>
<line x1="42.0" y1="46.41" x2="39.8" y2="46.41" stroke="#4a4a4a" stroke-width="1.2"/>
<line x1="695.6" y1="46.41" x2="697.8000000000001" y2="46.41" stroke="#4a4a4a" stroke-width="1.2"/>
<line x1="42.0" y1="66.96" x2="38.5" y2="66.96" stroke="#4a4a4a" stroke-width="1.5"/>
<line x1="695.6" y1="66.96" x2="699.1" y2="66.96" stroke="#4a4a4a" stroke-width="1.5"/>
<line x1="42.0" y1="87.52" x2="39.8" y2="87.52" stroke="#4a4a4a" stroke-width="1.2"/>
<line x1="695.6" y1="87.52" x2="697.8000000000001" y2="87.52" stroke="#4a4a4a" stroke-width="1.2"/>
<line x1="42.0" y1="108.07" x2="38.5" y2="108.07" stroke="#4a4a4a" stroke-width="1.5"/>
<line x1="695.6" y1="108.07" x2="699.1" y2="108.07" stroke="#4a4a4a" stroke-width="1.5"/>
<line x1="42.0" y1="128.63" x2="39.8" y2="128.63" stroke="#4a4a4a" stroke-width="1.2"/>
<line x1="695.6" y1="128.63" x2="697.8000000000001" y2="128.63" stroke="#4a4a4a" stroke-width="1.2"/>
<line x1="42.0" y1="149.18" x2="38.5" y2="149.18" stroke="#4a4a4a" stroke-width="1.5"/>
<line x1="695.6" y1="149.18" x2="699.1" y2="149.18" stroke="#4a4a4a" stroke-width="1.5"/>
<line x1="42.0" y1="169.74" x2="39.8" y2="169.74" stroke="#4a4a4a" stroke-width="1.2"/>
<line x1="695.6" y1="169.74" x2="697.8000000000001" y2="169.74" stroke="#4a4a4a" stroke-width="1.2"/>
<line x1="42.0" y1="190.29" x2="38.5" y2="190.29" stroke="#4a4a4a" stroke-width="1.5"/>
<line x1="695.6" y1="190.29" x2="699.1" y2="190.29" stroke="#4a4a4a" stroke-width="1.5"/>
<line x1="42.0" y1="210.85" x2="39.8" y2="210.85" stroke="#4a4a4a" stroke-width="1.2"/>
<line x1="695.6" y1="210.85" x2="697.8000000000001" y2="210.85" stroke="#4a4a4a" stroke-width="1.2"/>
<line x1="42.0" y1="231.40" x2="38.5" y2="231.40" stroke="#4a4a4a" stroke-width="1.5"/>
<line x1="695.6" y1="231.40" x2="699.1" y2="231.40" stroke="#4a4a4a" stroke-width="1.5"/>
<line x1="42.0" y1="231.40" x2="38.5" y2="231.40" stroke="#4a4a4a" stroke-width="1.5"/>
<line x1="695.6" y1="231.40" x2="699.1" y2="231.40" stroke="#4a4a4a" stroke-width="1.5"/>
<line x1="42.0" y1="250.24" x2="39.8" y2="250.24" stroke="#4a4a4a" stroke-width="1.2"/>
<line x1="695.6" y1="250.24" x2="697.8000000000001" y2="250.24" stroke="#4a4a4a" stroke-width="1.2"/>
<line x1="42.0" y1="269.08" x2="38.5" y2="269.08" stroke="#4a4a4a" stroke-width="1.5"/>
<line x1="695.6" y1="269.08" x2="699.1" y2="269.08" stroke="#4a4a4a" stroke-width="1.5"/>
<line x1="42.0" y1="287.93" x2="39.8" y2="287.93" stroke="#4a4a4a" stroke-width="1.2"/>
<line x1="695.6" y1="287.93" x2="697.8000000000001" y2="287.93" stroke="#4a4a4a" stroke-width="1.2"/>
<line x1="42.0" y1="306.77" x2="38.5" y2="306.77" stroke="#4a4a4a" stroke-width="1.5"/>
<line x1="695.6" y1="306.77" x2="699.1" y2="306.77" stroke="#4a4a4a" stroke-width="1.5"/>
<line x1="42.0" y1="325.61" x2="39.8" y2="325.61" stroke="#4a4a4a" stroke-width="1.2"/>
<line x1="695.6" y1="325.61" x2="697.8000000000001" y2="325.61" stroke="#4a4a4a" stroke-width="1.2"/>
<line x1="42.0" y1="344.45" x2="38.5" y2="344.45" stroke="#4a4a4a" stroke-width="1.5"/>
<line x1="695.6" y1="344.45" x2="699.1" y2="344.45" stroke="#4a4a4a" stroke-width="1.5"/>
<line x1="42.0" y1="363.29" x2="39.8" y2="363.29" stroke="#4a4a4a" stroke-width="1.2"/>
<line x1="695.6" y1="363.29" x2="697.8000000000001" y2="363.29" stroke="#4a4a4a" stroke-width="1.2"/>
<line x1="42.0" y1="382.13" x2="38.5" y2="382.13" stroke="#4a4a4a" stroke-width="1.5"/>
<line x1="695.6" y1="382.13" x2="699.1" y2="382.13" stroke="#4a4a4a" stroke-width="1.5"/>
<line x1="42.0" y1="400.98" x2="39.8" y2="400.98" stroke="#4a4a4a" stroke-width="1.2"/>
<line x1="695.6" y1="400.98" x2="697.8000000000001" y2="400.98" stroke="#4a4a4a" stroke-width="1.2"/>
<line x1="42.0" y1="419.82" x2="38.5" y2="419.82" stroke="#4a4a4a" stroke-width="1.5"/>
<line x1="695.6" y1="419.82" x2="699.1" y2="419.82" stroke="#4a4a4a" stroke-width="1.5"/>
<line x1="42.0" y1="438.66" x2="39.8" y2="438.66" stroke="#4a4a4a" stroke-width="1.2"/>
<line x1="695.6" y1="438.66" x2="697.8000000000001" y2="438.66" stroke="#4a4a4a" stroke-width="1.2"/>
<line x1="42.0" y1="457.50" x2="38.5" y2="457.50" stroke="#4a4a4a" stroke-width="1.5"/>
<line x1="695.6" y1="457.50" x2="699.1" y2="457.50" stroke="#4a4a4a" stroke-width="1.5"/>
<line x1="42.0" y1="457.50" x2="39.8" y2="457.50" stroke="#4a4a4a" stroke-width="1.2"/>
<line x1="695.6" y1="457.50" x2="697.8000000000001" y2="457.50" stroke="#4a4a4a" stroke-width="1.2"/>
<line x1="42.0" y1="469.82" x2="39.8" y2="469.82" stroke="#4a4a4a" stroke-width="1.2"/>
<line x1="695.6" y1="469.82" x2="697.8000000000001" y2="469.82" stroke="#4a4a4a" stroke-width="1.2"/>
<line x1="42.0" y1="482.13" x2="39.8" y2="482.13" stroke="#4a4a4a" stroke-width="1.2"/>
<line x1="695.6" y1="482.13" x2="697.8000000000001" y2="482.13" stroke="#4a4a4a" stroke-width="1.2"/>
<line x1="42.0" y1="494.45" x2="39.8" y2="494.45" stroke="#4a4a4a" stroke-width="1.2"/>
<line x1="695.6" y1="494.45" x2="697.8000000000001" y2="494.45" stroke="#4a4a4a" stroke-width="1.2"/>
<line x1="42.0" y1="506.77" x2="39.8" y2="506.77" stroke="#4a4a4a" stroke-width="1.2"/>
<line x1="695.6" y1="506.77" x2="697.8000000000001" y2="506.77" stroke="#4a4a4a" stroke-width="1.2"/>
<line x1="42.0" y1="519.08" x2="39.8" y2="519.08" stroke="#4a4a4a" stroke-width="1.2"/>
<line x1="695.6" y1="519.08" x2="697.8000000000001" y2="519.08" stroke="#4a4a4a" stroke-width="1.2"/>
<line x1="42.0" y1="531.40" x2="39.8" y2="531.40" stroke="#4a4a4a" stroke-width="1.2"/>
<line x1="695.6" y1="531.40" x2="697.8000000000001" y2="531.40" stroke="#4a4a4a" stroke-width="1.2"/>
<line x1="42.0" y1="543.72" x2="39.8" y2="543.72" stroke="#4a4a4a" stroke-width="1.2"/>
<line x1="695.6" y1="543.72" x2="697.8000000000001" y2="543.72" stroke="#4a4a4a" stroke-width="1.2"/>
<line x1="42.0" y1="556.03" x2="39.8" y2="556.03" stroke="#4a4a4a" stroke-width="1.2"/>
<line x1="695.6" y1="556.03" x2="697.8000000000001" y2="556.03" stroke="#4a4a4a" stroke-width="1.2"/>
<line x1="42.0" y1="568.35" x2="39.8" y2="568.35" stroke="#4a4a4a" stroke-width="1.2"/>
<line x1="695.6" y1="568.35" x2="697.8000000000001" y2="568.35" stroke="#4a4a4a" stroke-width="1.2"/>
<line x1="42.0" y1="580.67" x2="39.8" y2="580.67" stroke="#4a4a4a" stroke-width="1.2"/>
<line x1="695.6" y1="580.67" x2="697.8000000000001" y2="580.67" stroke="#4a4a4a" stroke-width="1.2"/>
<line x1="42.0" y1="592.98" x2="39.8" y2="592.98" stroke="#4a4a4a" stroke-width="1.2"/>
<line x1="695.6" y1="592.98" x2="697.8000000000001" y2="592.98" stroke="#4a4a4a" stroke-width="1.2"/>
<line x1="42.0" y1="605.30" x2="39.8" y2="605.30" stroke="#4a4a4a" stroke-width="1.2"/>
<line x1="695.6" y1="605.30" x2="697.8000000000001" y2="605.30" stroke="#4a4a4a" stroke-width="1.2"/>
<text x="41.60" y="619.6" font-family="Liberation Sans, sans-serif" font-size="12" text-anchor="middle" fill="#222">3800</text>
<text x="84.44" y="619.6" font-family="Liberation Sans, sans-serif" font-size="12" text-anchor="middle" fill="#222">3600</text>
<text x="127.28" y="619.6" font-family="Liberation Sans, sans-serif" font-size="12" text-anchor="middle" fill="#222">3400</text>
<text x="170.12" y="619.6" font-family="Liberation Sans, sans-serif" font-size="12" text-anchor="middle" fill="#222">3200</text>
<text x="212.96" y="619.6" font-family="Liberation Sans, sans-serif" font-size="12" text-anchor="middle" fill="#222">3000</text>
<text x="255.80" y="619.6" font-family="Liberation Sans, sans-serif" font-size="12" text-anchor="middle" fill="#222">2800</text>
<text x="298.64" y="619.6" font-family="Liberation Sans, sans-serif" font-size="12" text-anchor="middle" fill="#222">2600</text>
<text x="341.48" y="619.6" font-family="Liberation Sans, sans-serif" font-size="12" text-anchor="middle" fill="#222">2400</text>
<text x="399.08" y="619.6" font-family="Liberation Sans, sans-serif" font-size="12" text-anchor="middle" fill="#222">1800</text>
<text x="448.50" y="619.6" font-family="Liberation Sans, sans-serif" font-size="12" text-anchor="middle" fill="#222">1600</text>
<text x="497.92" y="619.6" font-family="Liberation Sans, sans-serif" font-size="12" text-anchor="middle" fill="#222">1400</text>
<text x="547.34" y="619.6" font-family="Liberation Sans, sans-serif" font-size="12" text-anchor="middle" fill="#222">1200</text>
<text x="596.76" y="619.6" font-family="Liberation Sans, sans-serif" font-size="12" text-anchor="middle" fill="#222">1000</text>
<text x="646.18" y="619.6" font-family="Liberation Sans, sans-serif" font-size="12" text-anchor="middle" fill="#222">800</text>
<text x="695.60" y="619.6" font-family="Liberation Sans, sans-serif" font-size="12" text-anchor="middle" fill="#222">600</text>
<text x="312.5" y="642.6" font-family="Liberation Sans, sans-serif" font-size="16" fill="#111">Wavenumber (cm<tspan font-size="10.5" dy="-6">-1</tspan><tspan dy="6">)</tspan></text>
<text transform="translate(13.2,179.8) rotate(-90)" font-family="Liberation Sans, sans-serif" font-size="15" fill="#111">Absorbance (A.U.)</text>
<text transform="translate(22.6,405.8) rotate(-90)" font-family="Liberation Sans, sans-serif" font-size="15" fill="#111">Absorbance (A.U.)</text>
<text transform="translate(21.3,559.6) rotate(-90)" font-family="Liberation Sans, sans-serif" font-size="16.3" fill="#111">Variance</text>
<text x="44" y="19.3" font-family="Liberation Sans, sans-serif" font-size="14.5" fill="#111">a)</text>
<text x="46.4" y="250" font-family="Liberation Sans, sans-serif" font-size="14.5" fill="#111">b)</text>
<text x="43.8" y="473.6" font-family="Liberation Sans, sans-serif" font-size="15.2" fill="#111">c)</text>
<text x="354.2" y="216.6" font-family="Liberation Sans, sans-serif" font-size="11.6" font-weight="bold" fill="#111">RHf-</text>
<text x="355.8" y="439.3" font-family="Liberation Sans, sans-serif" font-size="11.1" font-weight="bold" fill="#111">RHf+</text>
<text transform="translate(118.30,575.60) rotate(-90) scale(0.9,1)" font-family="Liberation Sans, sans-serif" font-size="10" fill="#222">3461</text>
<text transform="translate(156.50,573.60) rotate(-90) scale(0.9,1)" font-family="Liberation Sans, sans-serif" font-size="10" fill="#222">3279</text>
<text transform="translate(224.60,576.30) rotate(-90) scale(0.9,1)" font-family="Liberation Sans, sans-serif" font-size="10" fill="#222">2962</text>
<text transform="translate(230.80,576.30) rotate(-90) scale(0.9,1)" font-family="Liberation Sans, sans-serif" font-size="10" fill="#222">2933</text>
<text transform="translate(442.80,554.50) rotate(-90) scale(0.9,1)" font-family="Liberation Sans, sans-serif" font-size="10" fill="#222">1639</text>
<text transform="translate(456.80,482.20) rotate(-90) scale(0.9,1)" font-family="Liberation Sans, sans-serif" font-size="10" fill="#222">1581</text>
<text transform="translate(467.70,528.10) rotate(-90) scale(0.9,1)" font-family="Liberation Sans, sans-serif" font-size="10" fill="#222">1536</text>
<text transform="translate(491.70,536.20) rotate(-90) scale(0.9,1)" font-family="Liberation Sans, sans-serif" font-size="10" fill="#222">1440</text>
<text transform="translate(505.60,583.60) rotate(-90) scale(0.9,1)" font-family="Liberation Sans, sans-serif" font-size="10" fill="#222">1390</text>
<text transform="translate(543.40,574.70) rotate(-90) scale(0.9,1)" font-family="Liberation Sans, sans-serif" font-size="10" fill="#222">1233</text>
<text transform="translate(584.80,573.60) rotate(-90) scale(0.9,1)" font-family="Liberation Sans, sans-serif" font-size="10" fill="#222">1065</text>
<text transform="translate(618.60,585.40) rotate(-90) scale(0.9,1)" font-family="Liberation Sans, sans-serif" font-size="10" fill="#222">930</text>
</svg></body></html>
